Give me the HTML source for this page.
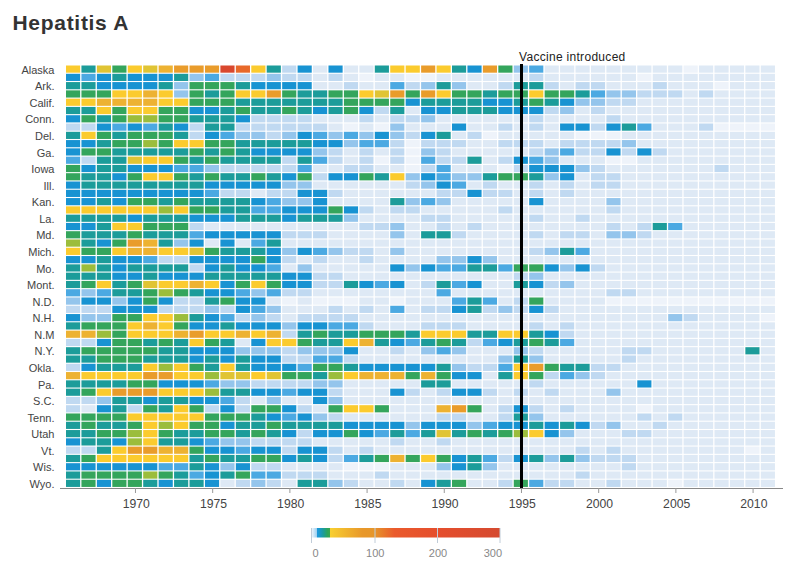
<!DOCTYPE html>
<html><head><meta charset="utf-8"><style>
html,body{margin:0;padding:0;background:#fff;width:800px;height:573px;overflow:hidden}
svg{display:block;font-family:"Liberation Sans",sans-serif}
</style></head><body>
<svg width="800" height="573" viewBox="0 0 800 573">
<rect width="800" height="573" fill="#fff"/>
<text x="12.5" y="30" font-size="21" font-weight="bold" fill="#333" letter-spacing="0.7">Hepatitis A</text>
<g><rect x="66.00" y="65.50" width="14.14" height="7.19" fill="#fbcb2e"/><rect x="81.44" y="65.50" width="14.14" height="7.19" fill="#1c9c9a"/><rect x="96.88" y="65.50" width="14.14" height="7.19" fill="#e0c434"/><rect x="112.32" y="65.50" width="14.14" height="7.19" fill="#34a55c"/><rect x="127.76" y="65.50" width="14.14" height="7.19" fill="#fbcb2e"/><rect x="143.20" y="65.50" width="14.14" height="7.19" fill="#e0c434"/><rect x="158.64" y="65.50" width="14.14" height="7.19" fill="#edb232"/><rect x="174.08" y="65.50" width="14.14" height="7.19" fill="#e99c2b"/><rect x="189.52" y="65.50" width="14.14" height="7.19" fill="#e99c2b"/><rect x="204.96" y="65.50" width="14.14" height="7.19" fill="#e99c2b"/><rect x="220.40" y="65.50" width="14.14" height="7.19" fill="#d9482e"/><rect x="235.84" y="65.50" width="14.14" height="7.19" fill="#e8692a"/><rect x="251.28" y="65.50" width="14.14" height="7.19" fill="#fbcb2e"/><rect x="266.72" y="65.50" width="14.14" height="7.19" fill="#1c9c9a"/><rect x="282.16" y="65.50" width="14.14" height="7.19" fill="#c0d9f1"/><rect x="297.60" y="65.50" width="14.14" height="7.19" fill="#1893d2"/><rect x="313.04" y="65.50" width="14.14" height="7.19" fill="#dee9f5"/><rect x="328.48" y="65.50" width="14.14" height="7.19" fill="#1893d2"/><rect x="343.92" y="65.50" width="14.14" height="7.19" fill="#dee9f5"/><rect x="359.36" y="65.50" width="14.14" height="7.19" fill="#dee9f5"/><rect x="374.80" y="65.50" width="14.14" height="7.19" fill="#1c9c9a"/><rect x="390.24" y="65.50" width="14.14" height="7.19" fill="#fbcb2e"/><rect x="405.68" y="65.50" width="14.14" height="7.19" fill="#fbcb2e"/><rect x="421.12" y="65.50" width="14.14" height="7.19" fill="#e99c2b"/><rect x="436.56" y="65.50" width="14.14" height="7.19" fill="#fbcb2e"/><rect x="452.00" y="65.50" width="14.14" height="7.19" fill="#1c9c9a"/><rect x="467.44" y="65.50" width="14.14" height="7.19" fill="#1893d2"/><rect x="482.88" y="65.50" width="14.14" height="7.19" fill="#e99c2b"/><rect x="498.32" y="65.50" width="14.14" height="7.19" fill="#34a55c"/><rect x="513.76" y="65.50" width="14.14" height="7.19" fill="#94c5ec"/><rect x="529.20" y="65.50" width="14.14" height="7.19" fill="#4ba9e2"/><rect x="544.64" y="65.50" width="14.14" height="7.19" fill="#dee9f5"/><rect x="560.08" y="65.50" width="14.14" height="7.19" fill="#dee9f5"/><rect x="575.52" y="65.50" width="14.14" height="7.19" fill="#dee9f5"/><rect x="590.96" y="65.50" width="14.14" height="7.19" fill="#dee9f5"/><rect x="606.40" y="65.50" width="14.14" height="7.19" fill="#dee9f5"/><rect x="621.84" y="65.50" width="14.14" height="7.19" fill="#dee9f5"/><rect x="637.28" y="65.50" width="14.14" height="7.19" fill="#dee9f5"/><rect x="652.72" y="65.50" width="14.14" height="7.19" fill="#dee9f5"/><rect x="668.16" y="65.50" width="14.14" height="7.19" fill="#dee9f5"/><rect x="683.60" y="65.50" width="14.14" height="7.19" fill="#eef3fa"/><rect x="699.04" y="65.50" width="14.14" height="7.19" fill="#dee9f5"/><rect x="714.48" y="65.50" width="14.14" height="7.19" fill="#dee9f5"/><rect x="729.92" y="65.50" width="14.14" height="7.19" fill="#dee9f5"/><rect x="745.36" y="65.50" width="14.14" height="7.19" fill="#dee9f5"/><rect x="760.80" y="65.50" width="14.14" height="7.19" fill="#dee9f5"/><rect x="66.00" y="73.78" width="14.14" height="7.19" fill="#1893d2"/><rect x="81.44" y="73.78" width="14.14" height="7.19" fill="#4ba9e2"/><rect x="96.88" y="73.78" width="14.14" height="7.19" fill="#1893d2"/><rect x="112.32" y="73.78" width="14.14" height="7.19" fill="#1c9c9a"/><rect x="127.76" y="73.78" width="14.14" height="7.19" fill="#1893d2"/><rect x="143.20" y="73.78" width="14.14" height="7.19" fill="#1893d2"/><rect x="158.64" y="73.78" width="14.14" height="7.19" fill="#1893d2"/><rect x="174.08" y="73.78" width="14.14" height="7.19" fill="#1c9c9a"/><rect x="189.52" y="73.78" width="14.14" height="7.19" fill="#94c5ec"/><rect x="204.96" y="73.78" width="14.14" height="7.19" fill="#4ba9e2"/><rect x="220.40" y="73.78" width="14.14" height="7.19" fill="#c0d9f1"/><rect x="235.84" y="73.78" width="14.14" height="7.19" fill="#c0d9f1"/><rect x="251.28" y="73.78" width="14.14" height="7.19" fill="#c0d9f1"/><rect x="266.72" y="73.78" width="14.14" height="7.19" fill="#94c5ec"/><rect x="282.16" y="73.78" width="14.14" height="7.19" fill="#c0d9f1"/><rect x="297.60" y="73.78" width="14.14" height="7.19" fill="#c0d9f1"/><rect x="313.04" y="73.78" width="14.14" height="7.19" fill="#dee9f5"/><rect x="328.48" y="73.78" width="14.14" height="7.19" fill="#c0d9f1"/><rect x="343.92" y="73.78" width="14.14" height="7.19" fill="#dee9f5"/><rect x="359.36" y="73.78" width="14.14" height="7.19" fill="#eef3fa"/><rect x="374.80" y="73.78" width="14.14" height="7.19" fill="#dee9f5"/><rect x="390.24" y="73.78" width="14.14" height="7.19" fill="#dee9f5"/><rect x="405.68" y="73.78" width="14.14" height="7.19" fill="#eef3fa"/><rect x="421.12" y="73.78" width="14.14" height="7.19" fill="#eef3fa"/><rect x="436.56" y="73.78" width="14.14" height="7.19" fill="#dee9f5"/><rect x="452.00" y="73.78" width="14.14" height="7.19" fill="#dee9f5"/><rect x="467.44" y="73.78" width="14.14" height="7.19" fill="#dee9f5"/><rect x="482.88" y="73.78" width="14.14" height="7.19" fill="#dee9f5"/><rect x="498.32" y="73.78" width="14.14" height="7.19" fill="#dee9f5"/><rect x="513.76" y="73.78" width="14.14" height="7.19" fill="#dee9f5"/><rect x="529.20" y="73.78" width="14.14" height="7.19" fill="#c0d9f1"/><rect x="544.64" y="73.78" width="14.14" height="7.19" fill="#dee9f5"/><rect x="560.08" y="73.78" width="14.14" height="7.19" fill="#dee9f5"/><rect x="575.52" y="73.78" width="14.14" height="7.19" fill="#dee9f5"/><rect x="590.96" y="73.78" width="14.14" height="7.19" fill="#dee9f5"/><rect x="606.40" y="73.78" width="14.14" height="7.19" fill="#dee9f5"/><rect x="621.84" y="73.78" width="14.14" height="7.19" fill="#dee9f5"/><rect x="637.28" y="73.78" width="14.14" height="7.19" fill="#eef3fa"/><rect x="652.72" y="73.78" width="14.14" height="7.19" fill="#dee9f5"/><rect x="668.16" y="73.78" width="14.14" height="7.19" fill="#dee9f5"/><rect x="683.60" y="73.78" width="14.14" height="7.19" fill="#dee9f5"/><rect x="699.04" y="73.78" width="14.14" height="7.19" fill="#dee9f5"/><rect x="714.48" y="73.78" width="14.14" height="7.19" fill="#dee9f5"/><rect x="729.92" y="73.78" width="14.14" height="7.19" fill="#dee9f5"/><rect x="745.36" y="73.78" width="14.14" height="7.19" fill="#dee9f5"/><rect x="760.80" y="73.78" width="14.14" height="7.19" fill="#dee9f5"/><rect x="66.00" y="82.07" width="14.14" height="7.19" fill="#1c9c9a"/><rect x="81.44" y="82.07" width="14.14" height="7.19" fill="#1c9c9a"/><rect x="96.88" y="82.07" width="14.14" height="7.19" fill="#1893d2"/><rect x="112.32" y="82.07" width="14.14" height="7.19" fill="#1893d2"/><rect x="127.76" y="82.07" width="14.14" height="7.19" fill="#1893d2"/><rect x="143.20" y="82.07" width="14.14" height="7.19" fill="#1893d2"/><rect x="158.64" y="82.07" width="14.14" height="7.19" fill="#1c9c9a"/><rect x="174.08" y="82.07" width="14.14" height="7.19" fill="#94c5ec"/><rect x="189.52" y="82.07" width="14.14" height="7.19" fill="#34a55c"/><rect x="204.96" y="82.07" width="14.14" height="7.19" fill="#34a55c"/><rect x="220.40" y="82.07" width="14.14" height="7.19" fill="#34a55c"/><rect x="235.84" y="82.07" width="14.14" height="7.19" fill="#1c9c9a"/><rect x="251.28" y="82.07" width="14.14" height="7.19" fill="#1893d2"/><rect x="266.72" y="82.07" width="14.14" height="7.19" fill="#1893d2"/><rect x="282.16" y="82.07" width="14.14" height="7.19" fill="#1893d2"/><rect x="297.60" y="82.07" width="14.14" height="7.19" fill="#1893d2"/><rect x="313.04" y="82.07" width="14.14" height="7.19" fill="#dee9f5"/><rect x="328.48" y="82.07" width="14.14" height="7.19" fill="#dee9f5"/><rect x="343.92" y="82.07" width="14.14" height="7.19" fill="#c0d9f1"/><rect x="359.36" y="82.07" width="14.14" height="7.19" fill="#dee9f5"/><rect x="374.80" y="82.07" width="14.14" height="7.19" fill="#dee9f5"/><rect x="390.24" y="82.07" width="14.14" height="7.19" fill="#4ba9e2"/><rect x="405.68" y="82.07" width="14.14" height="7.19" fill="#c0d9f1"/><rect x="421.12" y="82.07" width="14.14" height="7.19" fill="#94c5ec"/><rect x="436.56" y="82.07" width="14.14" height="7.19" fill="#1c9c9a"/><rect x="452.00" y="82.07" width="14.14" height="7.19" fill="#94c5ec"/><rect x="467.44" y="82.07" width="14.14" height="7.19" fill="#dee9f5"/><rect x="482.88" y="82.07" width="14.14" height="7.19" fill="#dee9f5"/><rect x="498.32" y="82.07" width="14.14" height="7.19" fill="#c0d9f1"/><rect x="513.76" y="82.07" width="14.14" height="7.19" fill="#1c9c9a"/><rect x="529.20" y="82.07" width="14.14" height="7.19" fill="#1c9c9a"/><rect x="544.64" y="82.07" width="14.14" height="7.19" fill="#c0d9f1"/><rect x="560.08" y="82.07" width="14.14" height="7.19" fill="#dee9f5"/><rect x="575.52" y="82.07" width="14.14" height="7.19" fill="#c0d9f1"/><rect x="590.96" y="82.07" width="14.14" height="7.19" fill="#c0d9f1"/><rect x="606.40" y="82.07" width="14.14" height="7.19" fill="#dee9f5"/><rect x="621.84" y="82.07" width="14.14" height="7.19" fill="#dee9f5"/><rect x="637.28" y="82.07" width="14.14" height="7.19" fill="#dee9f5"/><rect x="652.72" y="82.07" width="14.14" height="7.19" fill="#c0d9f1"/><rect x="668.16" y="82.07" width="14.14" height="7.19" fill="#dee9f5"/><rect x="683.60" y="82.07" width="14.14" height="7.19" fill="#dee9f5"/><rect x="699.04" y="82.07" width="14.14" height="7.19" fill="#dee9f5"/><rect x="714.48" y="82.07" width="14.14" height="7.19" fill="#eef3fa"/><rect x="729.92" y="82.07" width="14.14" height="7.19" fill="#dee9f5"/><rect x="745.36" y="82.07" width="14.14" height="7.19" fill="#dee9f5"/><rect x="760.80" y="82.07" width="14.14" height="7.19" fill="#dee9f5"/><rect x="66.00" y="90.36" width="14.14" height="7.19" fill="#34a55c"/><rect x="81.44" y="90.36" width="14.14" height="7.19" fill="#34a55c"/><rect x="96.88" y="90.36" width="14.14" height="7.19" fill="#34a55c"/><rect x="112.32" y="90.36" width="14.14" height="7.19" fill="#fbcb2e"/><rect x="127.76" y="90.36" width="14.14" height="7.19" fill="#fbcb2e"/><rect x="143.20" y="90.36" width="14.14" height="7.19" fill="#edb232"/><rect x="158.64" y="90.36" width="14.14" height="7.19" fill="#fbcb2e"/><rect x="174.08" y="90.36" width="14.14" height="7.19" fill="#94c5ec"/><rect x="189.52" y="90.36" width="14.14" height="7.19" fill="#34a55c"/><rect x="204.96" y="90.36" width="14.14" height="7.19" fill="#1c9c9a"/><rect x="220.40" y="90.36" width="14.14" height="7.19" fill="#34a55c"/><rect x="235.84" y="90.36" width="14.14" height="7.19" fill="#fbcb2e"/><rect x="251.28" y="90.36" width="14.14" height="7.19" fill="#fbcb2e"/><rect x="266.72" y="90.36" width="14.14" height="7.19" fill="#e99c2b"/><rect x="282.16" y="90.36" width="14.14" height="7.19" fill="#34a55c"/><rect x="297.60" y="90.36" width="14.14" height="7.19" fill="#1c9c9a"/><rect x="313.04" y="90.36" width="14.14" height="7.19" fill="#1c9c9a"/><rect x="328.48" y="90.36" width="14.14" height="7.19" fill="#34a55c"/><rect x="343.92" y="90.36" width="14.14" height="7.19" fill="#34a55c"/><rect x="359.36" y="90.36" width="14.14" height="7.19" fill="#fbcb2e"/><rect x="374.80" y="90.36" width="14.14" height="7.19" fill="#e0c434"/><rect x="390.24" y="90.36" width="14.14" height="7.19" fill="#e99c2b"/><rect x="405.68" y="90.36" width="14.14" height="7.19" fill="#34a55c"/><rect x="421.12" y="90.36" width="14.14" height="7.19" fill="#e99c2b"/><rect x="436.56" y="90.36" width="14.14" height="7.19" fill="#fbcb2e"/><rect x="452.00" y="90.36" width="14.14" height="7.19" fill="#34a55c"/><rect x="467.44" y="90.36" width="14.14" height="7.19" fill="#34a55c"/><rect x="482.88" y="90.36" width="14.14" height="7.19" fill="#1c9c9a"/><rect x="498.32" y="90.36" width="14.14" height="7.19" fill="#34a55c"/><rect x="513.76" y="90.36" width="14.14" height="7.19" fill="#34a55c"/><rect x="529.20" y="90.36" width="14.14" height="7.19" fill="#fbcb2e"/><rect x="544.64" y="90.36" width="14.14" height="7.19" fill="#34a55c"/><rect x="560.08" y="90.36" width="14.14" height="7.19" fill="#34a55c"/><rect x="575.52" y="90.36" width="14.14" height="7.19" fill="#1c9c9a"/><rect x="590.96" y="90.36" width="14.14" height="7.19" fill="#4ba9e2"/><rect x="606.40" y="90.36" width="14.14" height="7.19" fill="#94c5ec"/><rect x="621.84" y="90.36" width="14.14" height="7.19" fill="#94c5ec"/><rect x="637.28" y="90.36" width="14.14" height="7.19" fill="#c0d9f1"/><rect x="652.72" y="90.36" width="14.14" height="7.19" fill="#c0d9f1"/><rect x="668.16" y="90.36" width="14.14" height="7.19" fill="#c0d9f1"/><rect x="683.60" y="90.36" width="14.14" height="7.19" fill="#dee9f5"/><rect x="699.04" y="90.36" width="14.14" height="7.19" fill="#c0d9f1"/><rect x="714.48" y="90.36" width="14.14" height="7.19" fill="#dee9f5"/><rect x="729.92" y="90.36" width="14.14" height="7.19" fill="#dee9f5"/><rect x="745.36" y="90.36" width="14.14" height="7.19" fill="#dee9f5"/><rect x="760.80" y="90.36" width="14.14" height="7.19" fill="#dee9f5"/><rect x="66.00" y="98.64" width="14.14" height="7.19" fill="#fbcb2e"/><rect x="81.44" y="98.64" width="14.14" height="7.19" fill="#fbcb2e"/><rect x="96.88" y="98.64" width="14.14" height="7.19" fill="#edb232"/><rect x="112.32" y="98.64" width="14.14" height="7.19" fill="#edb232"/><rect x="127.76" y="98.64" width="14.14" height="7.19" fill="#edb232"/><rect x="143.20" y="98.64" width="14.14" height="7.19" fill="#edb232"/><rect x="158.64" y="98.64" width="14.14" height="7.19" fill="#fbcb2e"/><rect x="174.08" y="98.64" width="14.14" height="7.19" fill="#fbcb2e"/><rect x="189.52" y="98.64" width="14.14" height="7.19" fill="#34a55c"/><rect x="204.96" y="98.64" width="14.14" height="7.19" fill="#34a55c"/><rect x="220.40" y="98.64" width="14.14" height="7.19" fill="#34a55c"/><rect x="235.84" y="98.64" width="14.14" height="7.19" fill="#1c9c9a"/><rect x="251.28" y="98.64" width="14.14" height="7.19" fill="#1c9c9a"/><rect x="266.72" y="98.64" width="14.14" height="7.19" fill="#1c9c9a"/><rect x="282.16" y="98.64" width="14.14" height="7.19" fill="#1c9c9a"/><rect x="297.60" y="98.64" width="14.14" height="7.19" fill="#1c9c9a"/><rect x="313.04" y="98.64" width="14.14" height="7.19" fill="#1c9c9a"/><rect x="328.48" y="98.64" width="14.14" height="7.19" fill="#1c9c9a"/><rect x="343.92" y="98.64" width="14.14" height="7.19" fill="#34a55c"/><rect x="359.36" y="98.64" width="14.14" height="7.19" fill="#34a55c"/><rect x="374.80" y="98.64" width="14.14" height="7.19" fill="#34a55c"/><rect x="390.24" y="98.64" width="14.14" height="7.19" fill="#34a55c"/><rect x="405.68" y="98.64" width="14.14" height="7.19" fill="#1893d2"/><rect x="421.12" y="98.64" width="14.14" height="7.19" fill="#1c9c9a"/><rect x="436.56" y="98.64" width="14.14" height="7.19" fill="#1c9c9a"/><rect x="452.00" y="98.64" width="14.14" height="7.19" fill="#1c9c9a"/><rect x="467.44" y="98.64" width="14.14" height="7.19" fill="#1c9c9a"/><rect x="482.88" y="98.64" width="14.14" height="7.19" fill="#1893d2"/><rect x="498.32" y="98.64" width="14.14" height="7.19" fill="#1893d2"/><rect x="513.76" y="98.64" width="14.14" height="7.19" fill="#1c9c9a"/><rect x="529.20" y="98.64" width="14.14" height="7.19" fill="#34a55c"/><rect x="544.64" y="98.64" width="14.14" height="7.19" fill="#1c9c9a"/><rect x="560.08" y="98.64" width="14.14" height="7.19" fill="#1893d2"/><rect x="575.52" y="98.64" width="14.14" height="7.19" fill="#94c5ec"/><rect x="590.96" y="98.64" width="14.14" height="7.19" fill="#94c5ec"/><rect x="606.40" y="98.64" width="14.14" height="7.19" fill="#c0d9f1"/><rect x="621.84" y="98.64" width="14.14" height="7.19" fill="#c0d9f1"/><rect x="637.28" y="98.64" width="14.14" height="7.19" fill="#dee9f5"/><rect x="652.72" y="98.64" width="14.14" height="7.19" fill="#dee9f5"/><rect x="668.16" y="98.64" width="14.14" height="7.19" fill="#dee9f5"/><rect x="683.60" y="98.64" width="14.14" height="7.19" fill="#dee9f5"/><rect x="699.04" y="98.64" width="14.14" height="7.19" fill="#dee9f5"/><rect x="714.48" y="98.64" width="14.14" height="7.19" fill="#dee9f5"/><rect x="729.92" y="98.64" width="14.14" height="7.19" fill="#dee9f5"/><rect x="745.36" y="98.64" width="14.14" height="7.19" fill="#dee9f5"/><rect x="760.80" y="98.64" width="14.14" height="7.19" fill="#dee9f5"/><rect x="66.00" y="106.92" width="14.14" height="7.19" fill="#1c9c9a"/><rect x="81.44" y="106.92" width="14.14" height="7.19" fill="#1c9c9a"/><rect x="96.88" y="106.92" width="14.14" height="7.19" fill="#fbcb2e"/><rect x="112.32" y="106.92" width="14.14" height="7.19" fill="#34a55c"/><rect x="127.76" y="106.92" width="14.14" height="7.19" fill="#fbcb2e"/><rect x="143.20" y="106.92" width="14.14" height="7.19" fill="#fbcb2e"/><rect x="158.64" y="106.92" width="14.14" height="7.19" fill="#34a55c"/><rect x="174.08" y="106.92" width="14.14" height="7.19" fill="#34a55c"/><rect x="189.52" y="106.92" width="14.14" height="7.19" fill="#1893d2"/><rect x="204.96" y="106.92" width="14.14" height="7.19" fill="#1893d2"/><rect x="220.40" y="106.92" width="14.14" height="7.19" fill="#1c9c9a"/><rect x="235.84" y="106.92" width="14.14" height="7.19" fill="#34a55c"/><rect x="251.28" y="106.92" width="14.14" height="7.19" fill="#1c9c9a"/><rect x="266.72" y="106.92" width="14.14" height="7.19" fill="#1c9c9a"/><rect x="282.16" y="106.92" width="14.14" height="7.19" fill="#34a55c"/><rect x="297.60" y="106.92" width="14.14" height="7.19" fill="#1c9c9a"/><rect x="313.04" y="106.92" width="14.14" height="7.19" fill="#1893d2"/><rect x="328.48" y="106.92" width="14.14" height="7.19" fill="#1c9c9a"/><rect x="343.92" y="106.92" width="14.14" height="7.19" fill="#34a55c"/><rect x="359.36" y="106.92" width="14.14" height="7.19" fill="#1893d2"/><rect x="374.80" y="106.92" width="14.14" height="7.19" fill="#c0d9f1"/><rect x="390.24" y="106.92" width="14.14" height="7.19" fill="#1c9c9a"/><rect x="405.68" y="106.92" width="14.14" height="7.19" fill="#dee9f5"/><rect x="421.12" y="106.92" width="14.14" height="7.19" fill="#1893d2"/><rect x="436.56" y="106.92" width="14.14" height="7.19" fill="#1893d2"/><rect x="452.00" y="106.92" width="14.14" height="7.19" fill="#1c9c9a"/><rect x="467.44" y="106.92" width="14.14" height="7.19" fill="#1c9c9a"/><rect x="482.88" y="106.92" width="14.14" height="7.19" fill="#1c9c9a"/><rect x="498.32" y="106.92" width="14.14" height="7.19" fill="#1893d2"/><rect x="513.76" y="106.92" width="14.14" height="7.19" fill="#1893d2"/><rect x="529.20" y="106.92" width="14.14" height="7.19" fill="#1893d2"/><rect x="544.64" y="106.92" width="14.14" height="7.19" fill="#c0d9f1"/><rect x="560.08" y="106.92" width="14.14" height="7.19" fill="#94c5ec"/><rect x="575.52" y="106.92" width="14.14" height="7.19" fill="#dee9f5"/><rect x="590.96" y="106.92" width="14.14" height="7.19" fill="#c0d9f1"/><rect x="606.40" y="106.92" width="14.14" height="7.19" fill="#dee9f5"/><rect x="621.84" y="106.92" width="14.14" height="7.19" fill="#dee9f5"/><rect x="637.28" y="106.92" width="14.14" height="7.19" fill="#dee9f5"/><rect x="652.72" y="106.92" width="14.14" height="7.19" fill="#dee9f5"/><rect x="668.16" y="106.92" width="14.14" height="7.19" fill="#dee9f5"/><rect x="683.60" y="106.92" width="14.14" height="7.19" fill="#dee9f5"/><rect x="699.04" y="106.92" width="14.14" height="7.19" fill="#dee9f5"/><rect x="714.48" y="106.92" width="14.14" height="7.19" fill="#dee9f5"/><rect x="729.92" y="106.92" width="14.14" height="7.19" fill="#dee9f5"/><rect x="745.36" y="106.92" width="14.14" height="7.19" fill="#dee9f5"/><rect x="760.80" y="106.92" width="14.14" height="7.19" fill="#dee9f5"/><rect x="66.00" y="115.21" width="14.14" height="7.19" fill="#1893d2"/><rect x="81.44" y="115.21" width="14.14" height="7.19" fill="#34a55c"/><rect x="96.88" y="115.21" width="14.14" height="7.19" fill="#1c9c9a"/><rect x="112.32" y="115.21" width="14.14" height="7.19" fill="#34a55c"/><rect x="127.76" y="115.21" width="14.14" height="7.19" fill="#9bbd3c"/><rect x="143.20" y="115.21" width="14.14" height="7.19" fill="#9bbd3c"/><rect x="158.64" y="115.21" width="14.14" height="7.19" fill="#34a55c"/><rect x="174.08" y="115.21" width="14.14" height="7.19" fill="#34a55c"/><rect x="189.52" y="115.21" width="14.14" height="7.19" fill="#1c9c9a"/><rect x="204.96" y="115.21" width="14.14" height="7.19" fill="#1c9c9a"/><rect x="220.40" y="115.21" width="14.14" height="7.19" fill="#1c9c9a"/><rect x="235.84" y="115.21" width="14.14" height="7.19" fill="#1893d2"/><rect x="251.28" y="115.21" width="14.14" height="7.19" fill="#c0d9f1"/><rect x="266.72" y="115.21" width="14.14" height="7.19" fill="#c0d9f1"/><rect x="282.16" y="115.21" width="14.14" height="7.19" fill="#c0d9f1"/><rect x="297.60" y="115.21" width="14.14" height="7.19" fill="#c0d9f1"/><rect x="313.04" y="115.21" width="14.14" height="7.19" fill="#dee9f5"/><rect x="328.48" y="115.21" width="14.14" height="7.19" fill="#dee9f5"/><rect x="343.92" y="115.21" width="14.14" height="7.19" fill="#dee9f5"/><rect x="359.36" y="115.21" width="14.14" height="7.19" fill="#c0d9f1"/><rect x="374.80" y="115.21" width="14.14" height="7.19" fill="#dee9f5"/><rect x="390.24" y="115.21" width="14.14" height="7.19" fill="#c0d9f1"/><rect x="405.68" y="115.21" width="14.14" height="7.19" fill="#c0d9f1"/><rect x="421.12" y="115.21" width="14.14" height="7.19" fill="#94c5ec"/><rect x="436.56" y="115.21" width="14.14" height="7.19" fill="#dee9f5"/><rect x="452.00" y="115.21" width="14.14" height="7.19" fill="#dee9f5"/><rect x="467.44" y="115.21" width="14.14" height="7.19" fill="#dee9f5"/><rect x="482.88" y="115.21" width="14.14" height="7.19" fill="#dee9f5"/><rect x="498.32" y="115.21" width="14.14" height="7.19" fill="#dee9f5"/><rect x="513.76" y="115.21" width="14.14" height="7.19" fill="#dee9f5"/><rect x="529.20" y="115.21" width="14.14" height="7.19" fill="#c0d9f1"/><rect x="544.64" y="115.21" width="14.14" height="7.19" fill="#dee9f5"/><rect x="560.08" y="115.21" width="14.14" height="7.19" fill="#dee9f5"/><rect x="575.52" y="115.21" width="14.14" height="7.19" fill="#dee9f5"/><rect x="590.96" y="115.21" width="14.14" height="7.19" fill="#dee9f5"/><rect x="606.40" y="115.21" width="14.14" height="7.19" fill="#c0d9f1"/><rect x="621.84" y="115.21" width="14.14" height="7.19" fill="#dee9f5"/><rect x="637.28" y="115.21" width="14.14" height="7.19" fill="#dee9f5"/><rect x="652.72" y="115.21" width="14.14" height="7.19" fill="#dee9f5"/><rect x="668.16" y="115.21" width="14.14" height="7.19" fill="#dee9f5"/><rect x="683.60" y="115.21" width="14.14" height="7.19" fill="#dee9f5"/><rect x="699.04" y="115.21" width="14.14" height="7.19" fill="#dee9f5"/><rect x="714.48" y="115.21" width="14.14" height="7.19" fill="#dee9f5"/><rect x="729.92" y="115.21" width="14.14" height="7.19" fill="#dee9f5"/><rect x="745.36" y="115.21" width="14.14" height="7.19" fill="#dee9f5"/><rect x="760.80" y="115.21" width="14.14" height="7.19" fill="#dee9f5"/><rect x="66.00" y="123.50" width="14.14" height="7.19" fill="#c0d9f1"/><rect x="81.44" y="123.50" width="14.14" height="7.19" fill="#c0d9f1"/><rect x="96.88" y="123.50" width="14.14" height="7.19" fill="#1893d2"/><rect x="112.32" y="123.50" width="14.14" height="7.19" fill="#4ba9e2"/><rect x="127.76" y="123.50" width="14.14" height="7.19" fill="#1893d2"/><rect x="143.20" y="123.50" width="14.14" height="7.19" fill="#4ba9e2"/><rect x="158.64" y="123.50" width="14.14" height="7.19" fill="#1c9c9a"/><rect x="174.08" y="123.50" width="14.14" height="7.19" fill="#1893d2"/><rect x="189.52" y="123.50" width="14.14" height="7.19" fill="#c0d9f1"/><rect x="204.96" y="123.50" width="14.14" height="7.19" fill="#1c9c9a"/><rect x="220.40" y="123.50" width="14.14" height="7.19" fill="#1c9c9a"/><rect x="235.84" y="123.50" width="14.14" height="7.19" fill="#c0d9f1"/><rect x="251.28" y="123.50" width="14.14" height="7.19" fill="#c0d9f1"/><rect x="266.72" y="123.50" width="14.14" height="7.19" fill="#c0d9f1"/><rect x="282.16" y="123.50" width="14.14" height="7.19" fill="#c0d9f1"/><rect x="297.60" y="123.50" width="14.14" height="7.19" fill="#c0d9f1"/><rect x="313.04" y="123.50" width="14.14" height="7.19" fill="#c0d9f1"/><rect x="328.48" y="123.50" width="14.14" height="7.19" fill="#dee9f5"/><rect x="343.92" y="123.50" width="14.14" height="7.19" fill="#eef3fa"/><rect x="359.36" y="123.50" width="14.14" height="7.19" fill="#dee9f5"/><rect x="374.80" y="123.50" width="14.14" height="7.19" fill="#eef3fa"/><rect x="390.24" y="123.50" width="14.14" height="7.19" fill="#94c5ec"/><rect x="405.68" y="123.50" width="14.14" height="7.19" fill="#dee9f5"/><rect x="421.12" y="123.50" width="14.14" height="7.19" fill="#dee9f5"/><rect x="436.56" y="123.50" width="14.14" height="7.19" fill="#dee9f5"/><rect x="452.00" y="123.50" width="14.14" height="7.19" fill="#1893d2"/><rect x="467.44" y="123.50" width="14.14" height="7.19" fill="#dee9f5"/><rect x="482.88" y="123.50" width="14.14" height="7.19" fill="#dee9f5"/><rect x="498.32" y="123.50" width="14.14" height="7.19" fill="#c0d9f1"/><rect x="513.76" y="123.50" width="14.14" height="7.19" fill="#dee9f5"/><rect x="529.20" y="123.50" width="14.14" height="7.19" fill="#c0d9f1"/><rect x="544.64" y="123.50" width="14.14" height="7.19" fill="#dee9f5"/><rect x="560.08" y="123.50" width="14.14" height="7.19" fill="#1893d2"/><rect x="575.52" y="123.50" width="14.14" height="7.19" fill="#1893d2"/><rect x="590.96" y="123.50" width="14.14" height="7.19" fill="#c0d9f1"/><rect x="606.40" y="123.50" width="14.14" height="7.19" fill="#1893d2"/><rect x="621.84" y="123.50" width="14.14" height="7.19" fill="#1c9c9a"/><rect x="637.28" y="123.50" width="14.14" height="7.19" fill="#4ba9e2"/><rect x="652.72" y="123.50" width="14.14" height="7.19" fill="#dee9f5"/><rect x="668.16" y="123.50" width="14.14" height="7.19" fill="#dee9f5"/><rect x="683.60" y="123.50" width="14.14" height="7.19" fill="#dee9f5"/><rect x="699.04" y="123.50" width="14.14" height="7.19" fill="#c0d9f1"/><rect x="714.48" y="123.50" width="14.14" height="7.19" fill="#eef3fa"/><rect x="729.92" y="123.50" width="14.14" height="7.19" fill="#eef3fa"/><rect x="745.36" y="123.50" width="14.14" height="7.19" fill="#eef3fa"/><rect x="760.80" y="123.50" width="14.14" height="7.19" fill="#eef3fa"/><rect x="66.00" y="131.78" width="14.14" height="7.19" fill="#1c9c9a"/><rect x="81.44" y="131.78" width="14.14" height="7.19" fill="#fbcb2e"/><rect x="96.88" y="131.78" width="14.14" height="7.19" fill="#34a55c"/><rect x="112.32" y="131.78" width="14.14" height="7.19" fill="#1c9c9a"/><rect x="127.76" y="131.78" width="14.14" height="7.19" fill="#34a55c"/><rect x="143.20" y="131.78" width="14.14" height="7.19" fill="#34a55c"/><rect x="158.64" y="131.78" width="14.14" height="7.19" fill="#34a55c"/><rect x="174.08" y="131.78" width="14.14" height="7.19" fill="#1c9c9a"/><rect x="189.52" y="131.78" width="14.14" height="7.19" fill="#c0d9f1"/><rect x="204.96" y="131.78" width="14.14" height="7.19" fill="#1893d2"/><rect x="220.40" y="131.78" width="14.14" height="7.19" fill="#4ba9e2"/><rect x="235.84" y="131.78" width="14.14" height="7.19" fill="#94c5ec"/><rect x="251.28" y="131.78" width="14.14" height="7.19" fill="#94c5ec"/><rect x="266.72" y="131.78" width="14.14" height="7.19" fill="#c0d9f1"/><rect x="282.16" y="131.78" width="14.14" height="7.19" fill="#94c5ec"/><rect x="297.60" y="131.78" width="14.14" height="7.19" fill="#1893d2"/><rect x="313.04" y="131.78" width="14.14" height="7.19" fill="#4ba9e2"/><rect x="328.48" y="131.78" width="14.14" height="7.19" fill="#94c5ec"/><rect x="343.92" y="131.78" width="14.14" height="7.19" fill="#4ba9e2"/><rect x="359.36" y="131.78" width="14.14" height="7.19" fill="#94c5ec"/><rect x="374.80" y="131.78" width="14.14" height="7.19" fill="#1893d2"/><rect x="390.24" y="131.78" width="14.14" height="7.19" fill="#94c5ec"/><rect x="405.68" y="131.78" width="14.14" height="7.19" fill="#c0d9f1"/><rect x="421.12" y="131.78" width="14.14" height="7.19" fill="#1893d2"/><rect x="436.56" y="131.78" width="14.14" height="7.19" fill="#1c9c9a"/><rect x="452.00" y="131.78" width="14.14" height="7.19" fill="#dee9f5"/><rect x="467.44" y="131.78" width="14.14" height="7.19" fill="#c0d9f1"/><rect x="482.88" y="131.78" width="14.14" height="7.19" fill="#eef3fa"/><rect x="498.32" y="131.78" width="14.14" height="7.19" fill="#dee9f5"/><rect x="513.76" y="131.78" width="14.14" height="7.19" fill="#dee9f5"/><rect x="529.20" y="131.78" width="14.14" height="7.19" fill="#dee9f5"/><rect x="544.64" y="131.78" width="14.14" height="7.19" fill="#dee9f5"/><rect x="560.08" y="131.78" width="14.14" height="7.19" fill="#dee9f5"/><rect x="575.52" y="131.78" width="14.14" height="7.19" fill="#eef3fa"/><rect x="590.96" y="131.78" width="14.14" height="7.19" fill="#eef3fa"/><rect x="606.40" y="131.78" width="14.14" height="7.19" fill="#eef3fa"/><rect x="621.84" y="131.78" width="14.14" height="7.19" fill="#dee9f5"/><rect x="637.28" y="131.78" width="14.14" height="7.19" fill="#dee9f5"/><rect x="652.72" y="131.78" width="14.14" height="7.19" fill="#dee9f5"/><rect x="668.16" y="131.78" width="14.14" height="7.19" fill="#dee9f5"/><rect x="683.60" y="131.78" width="14.14" height="7.19" fill="#dee9f5"/><rect x="699.04" y="131.78" width="14.14" height="7.19" fill="#dee9f5"/><rect x="714.48" y="131.78" width="14.14" height="7.19" fill="#dee9f5"/><rect x="729.92" y="131.78" width="14.14" height="7.19" fill="#dee9f5"/><rect x="745.36" y="131.78" width="14.14" height="7.19" fill="#dee9f5"/><rect x="760.80" y="131.78" width="14.14" height="7.19" fill="#dee9f5"/><rect x="66.00" y="140.06" width="14.14" height="7.19" fill="#1893d2"/><rect x="81.44" y="140.06" width="14.14" height="7.19" fill="#1893d2"/><rect x="96.88" y="140.06" width="14.14" height="7.19" fill="#1c9c9a"/><rect x="112.32" y="140.06" width="14.14" height="7.19" fill="#34a55c"/><rect x="127.76" y="140.06" width="14.14" height="7.19" fill="#34a55c"/><rect x="143.20" y="140.06" width="14.14" height="7.19" fill="#9bbd3c"/><rect x="158.64" y="140.06" width="14.14" height="7.19" fill="#34a55c"/><rect x="174.08" y="140.06" width="14.14" height="7.19" fill="#fbcb2e"/><rect x="189.52" y="140.06" width="14.14" height="7.19" fill="#fbcb2e"/><rect x="204.96" y="140.06" width="14.14" height="7.19" fill="#34a55c"/><rect x="220.40" y="140.06" width="14.14" height="7.19" fill="#34a55c"/><rect x="235.84" y="140.06" width="14.14" height="7.19" fill="#1c9c9a"/><rect x="251.28" y="140.06" width="14.14" height="7.19" fill="#1c9c9a"/><rect x="266.72" y="140.06" width="14.14" height="7.19" fill="#1c9c9a"/><rect x="282.16" y="140.06" width="14.14" height="7.19" fill="#1c9c9a"/><rect x="297.60" y="140.06" width="14.14" height="7.19" fill="#1c9c9a"/><rect x="313.04" y="140.06" width="14.14" height="7.19" fill="#1893d2"/><rect x="328.48" y="140.06" width="14.14" height="7.19" fill="#1893d2"/><rect x="343.92" y="140.06" width="14.14" height="7.19" fill="#94c5ec"/><rect x="359.36" y="140.06" width="14.14" height="7.19" fill="#4ba9e2"/><rect x="374.80" y="140.06" width="14.14" height="7.19" fill="#4ba9e2"/><rect x="390.24" y="140.06" width="14.14" height="7.19" fill="#c0d9f1"/><rect x="405.68" y="140.06" width="14.14" height="7.19" fill="#eef3fa"/><rect x="421.12" y="140.06" width="14.14" height="7.19" fill="#c0d9f1"/><rect x="436.56" y="140.06" width="14.14" height="7.19" fill="#c0d9f1"/><rect x="452.00" y="140.06" width="14.14" height="7.19" fill="#c0d9f1"/><rect x="467.44" y="140.06" width="14.14" height="7.19" fill="#dee9f5"/><rect x="482.88" y="140.06" width="14.14" height="7.19" fill="#dee9f5"/><rect x="498.32" y="140.06" width="14.14" height="7.19" fill="#c0d9f1"/><rect x="513.76" y="140.06" width="14.14" height="7.19" fill="#c0d9f1"/><rect x="529.20" y="140.06" width="14.14" height="7.19" fill="#c0d9f1"/><rect x="544.64" y="140.06" width="14.14" height="7.19" fill="#dee9f5"/><rect x="560.08" y="140.06" width="14.14" height="7.19" fill="#c0d9f1"/><rect x="575.52" y="140.06" width="14.14" height="7.19" fill="#c0d9f1"/><rect x="590.96" y="140.06" width="14.14" height="7.19" fill="#c0d9f1"/><rect x="606.40" y="140.06" width="14.14" height="7.19" fill="#c0d9f1"/><rect x="621.84" y="140.06" width="14.14" height="7.19" fill="#94c5ec"/><rect x="637.28" y="140.06" width="14.14" height="7.19" fill="#dee9f5"/><rect x="652.72" y="140.06" width="14.14" height="7.19" fill="#dee9f5"/><rect x="668.16" y="140.06" width="14.14" height="7.19" fill="#dee9f5"/><rect x="683.60" y="140.06" width="14.14" height="7.19" fill="#dee9f5"/><rect x="699.04" y="140.06" width="14.14" height="7.19" fill="#dee9f5"/><rect x="714.48" y="140.06" width="14.14" height="7.19" fill="#dee9f5"/><rect x="729.92" y="140.06" width="14.14" height="7.19" fill="#dee9f5"/><rect x="745.36" y="140.06" width="14.14" height="7.19" fill="#dee9f5"/><rect x="760.80" y="140.06" width="14.14" height="7.19" fill="#dee9f5"/><rect x="66.00" y="148.35" width="14.14" height="7.19" fill="#1893d2"/><rect x="81.44" y="148.35" width="14.14" height="7.19" fill="#34a55c"/><rect x="96.88" y="148.35" width="14.14" height="7.19" fill="#34a55c"/><rect x="112.32" y="148.35" width="14.14" height="7.19" fill="#1c9c9a"/><rect x="127.76" y="148.35" width="14.14" height="7.19" fill="#1c9c9a"/><rect x="143.20" y="148.35" width="14.14" height="7.19" fill="#1c9c9a"/><rect x="158.64" y="148.35" width="14.14" height="7.19" fill="#1c9c9a"/><rect x="174.08" y="148.35" width="14.14" height="7.19" fill="#1c9c9a"/><rect x="189.52" y="148.35" width="14.14" height="7.19" fill="#34a55c"/><rect x="204.96" y="148.35" width="14.14" height="7.19" fill="#1c9c9a"/><rect x="220.40" y="148.35" width="14.14" height="7.19" fill="#34a55c"/><rect x="235.84" y="148.35" width="14.14" height="7.19" fill="#1c9c9a"/><rect x="251.28" y="148.35" width="14.14" height="7.19" fill="#1893d2"/><rect x="266.72" y="148.35" width="14.14" height="7.19" fill="#1893d2"/><rect x="282.16" y="148.35" width="14.14" height="7.19" fill="#1893d2"/><rect x="297.60" y="148.35" width="14.14" height="7.19" fill="#1893d2"/><rect x="313.04" y="148.35" width="14.14" height="7.19" fill="#94c5ec"/><rect x="328.48" y="148.35" width="14.14" height="7.19" fill="#c0d9f1"/><rect x="343.92" y="148.35" width="14.14" height="7.19" fill="#dee9f5"/><rect x="359.36" y="148.35" width="14.14" height="7.19" fill="#c0d9f1"/><rect x="374.80" y="148.35" width="14.14" height="7.19" fill="#dee9f5"/><rect x="390.24" y="148.35" width="14.14" height="7.19" fill="#c0d9f1"/><rect x="405.68" y="148.35" width="14.14" height="7.19" fill="#eef3fa"/><rect x="421.12" y="148.35" width="14.14" height="7.19" fill="#94c5ec"/><rect x="436.56" y="148.35" width="14.14" height="7.19" fill="#c0d9f1"/><rect x="452.00" y="148.35" width="14.14" height="7.19" fill="#dee9f5"/><rect x="467.44" y="148.35" width="14.14" height="7.19" fill="#dee9f5"/><rect x="482.88" y="148.35" width="14.14" height="7.19" fill="#dee9f5"/><rect x="498.32" y="148.35" width="14.14" height="7.19" fill="#dee9f5"/><rect x="513.76" y="148.35" width="14.14" height="7.19" fill="#dee9f5"/><rect x="529.20" y="148.35" width="14.14" height="7.19" fill="#c0d9f1"/><rect x="544.64" y="148.35" width="14.14" height="7.19" fill="#94c5ec"/><rect x="560.08" y="148.35" width="14.14" height="7.19" fill="#4ba9e2"/><rect x="575.52" y="148.35" width="14.14" height="7.19" fill="#c0d9f1"/><rect x="590.96" y="148.35" width="14.14" height="7.19" fill="#c0d9f1"/><rect x="606.40" y="148.35" width="14.14" height="7.19" fill="#1893d2"/><rect x="621.84" y="148.35" width="14.14" height="7.19" fill="#c0d9f1"/><rect x="637.28" y="148.35" width="14.14" height="7.19" fill="#1893d2"/><rect x="652.72" y="148.35" width="14.14" height="7.19" fill="#c0d9f1"/><rect x="668.16" y="148.35" width="14.14" height="7.19" fill="#dee9f5"/><rect x="683.60" y="148.35" width="14.14" height="7.19" fill="#dee9f5"/><rect x="699.04" y="148.35" width="14.14" height="7.19" fill="#dee9f5"/><rect x="714.48" y="148.35" width="14.14" height="7.19" fill="#dee9f5"/><rect x="729.92" y="148.35" width="14.14" height="7.19" fill="#dee9f5"/><rect x="745.36" y="148.35" width="14.14" height="7.19" fill="#dee9f5"/><rect x="760.80" y="148.35" width="14.14" height="7.19" fill="#dee9f5"/><rect x="66.00" y="156.63" width="14.14" height="7.19" fill="#4ba9e2"/><rect x="81.44" y="156.63" width="14.14" height="7.19" fill="#c0d9f1"/><rect x="96.88" y="156.63" width="14.14" height="7.19" fill="#1c9c9a"/><rect x="112.32" y="156.63" width="14.14" height="7.19" fill="#1c9c9a"/><rect x="127.76" y="156.63" width="14.14" height="7.19" fill="#e0c434"/><rect x="143.20" y="156.63" width="14.14" height="7.19" fill="#fbcb2e"/><rect x="158.64" y="156.63" width="14.14" height="7.19" fill="#fbcb2e"/><rect x="174.08" y="156.63" width="14.14" height="7.19" fill="#34a55c"/><rect x="189.52" y="156.63" width="14.14" height="7.19" fill="#1c9c9a"/><rect x="204.96" y="156.63" width="14.14" height="7.19" fill="#34a55c"/><rect x="220.40" y="156.63" width="14.14" height="7.19" fill="#1c9c9a"/><rect x="235.84" y="156.63" width="14.14" height="7.19" fill="#1c9c9a"/><rect x="251.28" y="156.63" width="14.14" height="7.19" fill="#1c9c9a"/><rect x="266.72" y="156.63" width="14.14" height="7.19" fill="#1c9c9a"/><rect x="282.16" y="156.63" width="14.14" height="7.19" fill="#c0d9f1"/><rect x="297.60" y="156.63" width="14.14" height="7.19" fill="#1c9c9a"/><rect x="313.04" y="156.63" width="14.14" height="7.19" fill="#4ba9e2"/><rect x="328.48" y="156.63" width="14.14" height="7.19" fill="#c0d9f1"/><rect x="343.92" y="156.63" width="14.14" height="7.19" fill="#dee9f5"/><rect x="359.36" y="156.63" width="14.14" height="7.19" fill="#c0d9f1"/><rect x="374.80" y="156.63" width="14.14" height="7.19" fill="#eef3fa"/><rect x="390.24" y="156.63" width="14.14" height="7.19" fill="#c0d9f1"/><rect x="405.68" y="156.63" width="14.14" height="7.19" fill="#eef3fa"/><rect x="421.12" y="156.63" width="14.14" height="7.19" fill="#4ba9e2"/><rect x="436.56" y="156.63" width="14.14" height="7.19" fill="#c0d9f1"/><rect x="452.00" y="156.63" width="14.14" height="7.19" fill="#c0d9f1"/><rect x="467.44" y="156.63" width="14.14" height="7.19" fill="#1c9c9a"/><rect x="482.88" y="156.63" width="14.14" height="7.19" fill="#dee9f5"/><rect x="498.32" y="156.63" width="14.14" height="7.19" fill="#c0d9f1"/><rect x="513.76" y="156.63" width="14.14" height="7.19" fill="#1893d2"/><rect x="529.20" y="156.63" width="14.14" height="7.19" fill="#4ba9e2"/><rect x="544.64" y="156.63" width="14.14" height="7.19" fill="#94c5ec"/><rect x="560.08" y="156.63" width="14.14" height="7.19" fill="#dee9f5"/><rect x="575.52" y="156.63" width="14.14" height="7.19" fill="#dee9f5"/><rect x="590.96" y="156.63" width="14.14" height="7.19" fill="#dee9f5"/><rect x="606.40" y="156.63" width="14.14" height="7.19" fill="#eef3fa"/><rect x="621.84" y="156.63" width="14.14" height="7.19" fill="#eef3fa"/><rect x="637.28" y="156.63" width="14.14" height="7.19" fill="#dee9f5"/><rect x="652.72" y="156.63" width="14.14" height="7.19" fill="#dee9f5"/><rect x="668.16" y="156.63" width="14.14" height="7.19" fill="#dee9f5"/><rect x="683.60" y="156.63" width="14.14" height="7.19" fill="#dee9f5"/><rect x="699.04" y="156.63" width="14.14" height="7.19" fill="#dee9f5"/><rect x="714.48" y="156.63" width="14.14" height="7.19" fill="#dee9f5"/><rect x="729.92" y="156.63" width="14.14" height="7.19" fill="#dee9f5"/><rect x="745.36" y="156.63" width="14.14" height="7.19" fill="#dee9f5"/><rect x="760.80" y="156.63" width="14.14" height="7.19" fill="#dee9f5"/><rect x="66.00" y="164.92" width="14.14" height="7.19" fill="#34a55c"/><rect x="81.44" y="164.92" width="14.14" height="7.19" fill="#1893d2"/><rect x="96.88" y="164.92" width="14.14" height="7.19" fill="#1c9c9a"/><rect x="112.32" y="164.92" width="14.14" height="7.19" fill="#1c9c9a"/><rect x="127.76" y="164.92" width="14.14" height="7.19" fill="#1893d2"/><rect x="143.20" y="164.92" width="14.14" height="7.19" fill="#1893d2"/><rect x="158.64" y="164.92" width="14.14" height="7.19" fill="#1893d2"/><rect x="174.08" y="164.92" width="14.14" height="7.19" fill="#4ba9e2"/><rect x="189.52" y="164.92" width="14.14" height="7.19" fill="#4ba9e2"/><rect x="204.96" y="164.92" width="14.14" height="7.19" fill="#94c5ec"/><rect x="220.40" y="164.92" width="14.14" height="7.19" fill="#c0d9f1"/><rect x="235.84" y="164.92" width="14.14" height="7.19" fill="#c0d9f1"/><rect x="251.28" y="164.92" width="14.14" height="7.19" fill="#c0d9f1"/><rect x="266.72" y="164.92" width="14.14" height="7.19" fill="#c0d9f1"/><rect x="282.16" y="164.92" width="14.14" height="7.19" fill="#c0d9f1"/><rect x="297.60" y="164.92" width="14.14" height="7.19" fill="#4ba9e2"/><rect x="313.04" y="164.92" width="14.14" height="7.19" fill="#dee9f5"/><rect x="328.48" y="164.92" width="14.14" height="7.19" fill="#dee9f5"/><rect x="343.92" y="164.92" width="14.14" height="7.19" fill="#c0d9f1"/><rect x="359.36" y="164.92" width="14.14" height="7.19" fill="#c0d9f1"/><rect x="374.80" y="164.92" width="14.14" height="7.19" fill="#dee9f5"/><rect x="390.24" y="164.92" width="14.14" height="7.19" fill="#dee9f5"/><rect x="405.68" y="164.92" width="14.14" height="7.19" fill="#eef3fa"/><rect x="421.12" y="164.92" width="14.14" height="7.19" fill="#c0d9f1"/><rect x="436.56" y="164.92" width="14.14" height="7.19" fill="#4ba9e2"/><rect x="452.00" y="164.92" width="14.14" height="7.19" fill="#dee9f5"/><rect x="467.44" y="164.92" width="14.14" height="7.19" fill="#dee9f5"/><rect x="482.88" y="164.92" width="14.14" height="7.19" fill="#dee9f5"/><rect x="498.32" y="164.92" width="14.14" height="7.19" fill="#eef3fa"/><rect x="513.76" y="164.92" width="14.14" height="7.19" fill="#c0d9f1"/><rect x="529.20" y="164.92" width="14.14" height="7.19" fill="#1893d2"/><rect x="544.64" y="164.92" width="14.14" height="7.19" fill="#1893d2"/><rect x="560.08" y="164.92" width="14.14" height="7.19" fill="#1893d2"/><rect x="575.52" y="164.92" width="14.14" height="7.19" fill="#94c5ec"/><rect x="590.96" y="164.92" width="14.14" height="7.19" fill="#c0d9f1"/><rect x="606.40" y="164.92" width="14.14" height="7.19" fill="#dee9f5"/><rect x="621.84" y="164.92" width="14.14" height="7.19" fill="#dee9f5"/><rect x="637.28" y="164.92" width="14.14" height="7.19" fill="#dee9f5"/><rect x="652.72" y="164.92" width="14.14" height="7.19" fill="#dee9f5"/><rect x="668.16" y="164.92" width="14.14" height="7.19" fill="#dee9f5"/><rect x="683.60" y="164.92" width="14.14" height="7.19" fill="#dee9f5"/><rect x="699.04" y="164.92" width="14.14" height="7.19" fill="#dee9f5"/><rect x="714.48" y="164.92" width="14.14" height="7.19" fill="#c0d9f1"/><rect x="729.92" y="164.92" width="14.14" height="7.19" fill="#dee9f5"/><rect x="745.36" y="164.92" width="14.14" height="7.19" fill="#dee9f5"/><rect x="760.80" y="164.92" width="14.14" height="7.19" fill="#dee9f5"/><rect x="66.00" y="173.20" width="14.14" height="7.19" fill="#34a55c"/><rect x="81.44" y="173.20" width="14.14" height="7.19" fill="#1c9c9a"/><rect x="96.88" y="173.20" width="14.14" height="7.19" fill="#1c9c9a"/><rect x="112.32" y="173.20" width="14.14" height="7.19" fill="#1893d2"/><rect x="127.76" y="173.20" width="14.14" height="7.19" fill="#34a55c"/><rect x="143.20" y="173.20" width="14.14" height="7.19" fill="#fbcb2e"/><rect x="158.64" y="173.20" width="14.14" height="7.19" fill="#fbcb2e"/><rect x="174.08" y="173.20" width="14.14" height="7.19" fill="#34a55c"/><rect x="189.52" y="173.20" width="14.14" height="7.19" fill="#1c9c9a"/><rect x="204.96" y="173.20" width="14.14" height="7.19" fill="#34a55c"/><rect x="220.40" y="173.20" width="14.14" height="7.19" fill="#1c9c9a"/><rect x="235.84" y="173.20" width="14.14" height="7.19" fill="#1c9c9a"/><rect x="251.28" y="173.20" width="14.14" height="7.19" fill="#34a55c"/><rect x="266.72" y="173.20" width="14.14" height="7.19" fill="#1c9c9a"/><rect x="282.16" y="173.20" width="14.14" height="7.19" fill="#1893d2"/><rect x="297.60" y="173.20" width="14.14" height="7.19" fill="#34a55c"/><rect x="313.04" y="173.20" width="14.14" height="7.19" fill="#c0d9f1"/><rect x="328.48" y="173.20" width="14.14" height="7.19" fill="#1893d2"/><rect x="343.92" y="173.20" width="14.14" height="7.19" fill="#1893d2"/><rect x="359.36" y="173.20" width="14.14" height="7.19" fill="#34a55c"/><rect x="374.80" y="173.20" width="14.14" height="7.19" fill="#1c9c9a"/><rect x="390.24" y="173.20" width="14.14" height="7.19" fill="#fbcb2e"/><rect x="405.68" y="173.20" width="14.14" height="7.19" fill="#94c5ec"/><rect x="421.12" y="173.20" width="14.14" height="7.19" fill="#1893d2"/><rect x="436.56" y="173.20" width="14.14" height="7.19" fill="#4ba9e2"/><rect x="452.00" y="173.20" width="14.14" height="7.19" fill="#94c5ec"/><rect x="467.44" y="173.20" width="14.14" height="7.19" fill="#94c5ec"/><rect x="482.88" y="173.20" width="14.14" height="7.19" fill="#1c9c9a"/><rect x="498.32" y="173.20" width="14.14" height="7.19" fill="#34a55c"/><rect x="513.76" y="173.20" width="14.14" height="7.19" fill="#34a55c"/><rect x="529.20" y="173.20" width="14.14" height="7.19" fill="#1c9c9a"/><rect x="544.64" y="173.20" width="14.14" height="7.19" fill="#94c5ec"/><rect x="560.08" y="173.20" width="14.14" height="7.19" fill="#1893d2"/><rect x="575.52" y="173.20" width="14.14" height="7.19" fill="#dee9f5"/><rect x="590.96" y="173.20" width="14.14" height="7.19" fill="#c0d9f1"/><rect x="606.40" y="173.20" width="14.14" height="7.19" fill="#c0d9f1"/><rect x="621.84" y="173.20" width="14.14" height="7.19" fill="#dee9f5"/><rect x="637.28" y="173.20" width="14.14" height="7.19" fill="#dee9f5"/><rect x="652.72" y="173.20" width="14.14" height="7.19" fill="#dee9f5"/><rect x="668.16" y="173.20" width="14.14" height="7.19" fill="#dee9f5"/><rect x="683.60" y="173.20" width="14.14" height="7.19" fill="#dee9f5"/><rect x="699.04" y="173.20" width="14.14" height="7.19" fill="#dee9f5"/><rect x="714.48" y="173.20" width="14.14" height="7.19" fill="#dee9f5"/><rect x="729.92" y="173.20" width="14.14" height="7.19" fill="#dee9f5"/><rect x="745.36" y="173.20" width="14.14" height="7.19" fill="#dee9f5"/><rect x="760.80" y="173.20" width="14.14" height="7.19" fill="#dee9f5"/><rect x="66.00" y="181.49" width="14.14" height="7.19" fill="#1893d2"/><rect x="81.44" y="181.49" width="14.14" height="7.19" fill="#1c9c9a"/><rect x="96.88" y="181.49" width="14.14" height="7.19" fill="#1c9c9a"/><rect x="112.32" y="181.49" width="14.14" height="7.19" fill="#1c9c9a"/><rect x="127.76" y="181.49" width="14.14" height="7.19" fill="#1c9c9a"/><rect x="143.20" y="181.49" width="14.14" height="7.19" fill="#1c9c9a"/><rect x="158.64" y="181.49" width="14.14" height="7.19" fill="#1c9c9a"/><rect x="174.08" y="181.49" width="14.14" height="7.19" fill="#1c9c9a"/><rect x="189.52" y="181.49" width="14.14" height="7.19" fill="#1c9c9a"/><rect x="204.96" y="181.49" width="14.14" height="7.19" fill="#1893d2"/><rect x="220.40" y="181.49" width="14.14" height="7.19" fill="#1893d2"/><rect x="235.84" y="181.49" width="14.14" height="7.19" fill="#1893d2"/><rect x="251.28" y="181.49" width="14.14" height="7.19" fill="#1893d2"/><rect x="266.72" y="181.49" width="14.14" height="7.19" fill="#1893d2"/><rect x="282.16" y="181.49" width="14.14" height="7.19" fill="#94c5ec"/><rect x="297.60" y="181.49" width="14.14" height="7.19" fill="#94c5ec"/><rect x="313.04" y="181.49" width="14.14" height="7.19" fill="#dee9f5"/><rect x="328.48" y="181.49" width="14.14" height="7.19" fill="#dee9f5"/><rect x="343.92" y="181.49" width="14.14" height="7.19" fill="#dee9f5"/><rect x="359.36" y="181.49" width="14.14" height="7.19" fill="#dee9f5"/><rect x="374.80" y="181.49" width="14.14" height="7.19" fill="#dee9f5"/><rect x="390.24" y="181.49" width="14.14" height="7.19" fill="#dee9f5"/><rect x="405.68" y="181.49" width="14.14" height="7.19" fill="#c0d9f1"/><rect x="421.12" y="181.49" width="14.14" height="7.19" fill="#94c5ec"/><rect x="436.56" y="181.49" width="14.14" height="7.19" fill="#1893d2"/><rect x="452.00" y="181.49" width="14.14" height="7.19" fill="#4ba9e2"/><rect x="467.44" y="181.49" width="14.14" height="7.19" fill="#dee9f5"/><rect x="482.88" y="181.49" width="14.14" height="7.19" fill="#c0d9f1"/><rect x="498.32" y="181.49" width="14.14" height="7.19" fill="#dee9f5"/><rect x="513.76" y="181.49" width="14.14" height="7.19" fill="#dee9f5"/><rect x="529.20" y="181.49" width="14.14" height="7.19" fill="#c0d9f1"/><rect x="544.64" y="181.49" width="14.14" height="7.19" fill="#dee9f5"/><rect x="560.08" y="181.49" width="14.14" height="7.19" fill="#c0d9f1"/><rect x="575.52" y="181.49" width="14.14" height="7.19" fill="#dee9f5"/><rect x="590.96" y="181.49" width="14.14" height="7.19" fill="#c0d9f1"/><rect x="606.40" y="181.49" width="14.14" height="7.19" fill="#c0d9f1"/><rect x="621.84" y="181.49" width="14.14" height="7.19" fill="#dee9f5"/><rect x="637.28" y="181.49" width="14.14" height="7.19" fill="#dee9f5"/><rect x="652.72" y="181.49" width="14.14" height="7.19" fill="#dee9f5"/><rect x="668.16" y="181.49" width="14.14" height="7.19" fill="#dee9f5"/><rect x="683.60" y="181.49" width="14.14" height="7.19" fill="#dee9f5"/><rect x="699.04" y="181.49" width="14.14" height="7.19" fill="#dee9f5"/><rect x="714.48" y="181.49" width="14.14" height="7.19" fill="#dee9f5"/><rect x="729.92" y="181.49" width="14.14" height="7.19" fill="#dee9f5"/><rect x="745.36" y="181.49" width="14.14" height="7.19" fill="#dee9f5"/><rect x="760.80" y="181.49" width="14.14" height="7.19" fill="#dee9f5"/><rect x="66.00" y="189.78" width="14.14" height="7.19" fill="#1893d2"/><rect x="81.44" y="189.78" width="14.14" height="7.19" fill="#1893d2"/><rect x="96.88" y="189.78" width="14.14" height="7.19" fill="#1893d2"/><rect x="112.32" y="189.78" width="14.14" height="7.19" fill="#1893d2"/><rect x="127.76" y="189.78" width="14.14" height="7.19" fill="#1893d2"/><rect x="143.20" y="189.78" width="14.14" height="7.19" fill="#1893d2"/><rect x="158.64" y="189.78" width="14.14" height="7.19" fill="#1893d2"/><rect x="174.08" y="189.78" width="14.14" height="7.19" fill="#1893d2"/><rect x="189.52" y="189.78" width="14.14" height="7.19" fill="#1893d2"/><rect x="204.96" y="189.78" width="14.14" height="7.19" fill="#4ba9e2"/><rect x="220.40" y="189.78" width="14.14" height="7.19" fill="#c0d9f1"/><rect x="235.84" y="189.78" width="14.14" height="7.19" fill="#c0d9f1"/><rect x="251.28" y="189.78" width="14.14" height="7.19" fill="#dee9f5"/><rect x="266.72" y="189.78" width="14.14" height="7.19" fill="#c0d9f1"/><rect x="282.16" y="189.78" width="14.14" height="7.19" fill="#c0d9f1"/><rect x="297.60" y="189.78" width="14.14" height="7.19" fill="#1893d2"/><rect x="313.04" y="189.78" width="14.14" height="7.19" fill="#1893d2"/><rect x="328.48" y="189.78" width="14.14" height="7.19" fill="#c0d9f1"/><rect x="343.92" y="189.78" width="14.14" height="7.19" fill="#dee9f5"/><rect x="359.36" y="189.78" width="14.14" height="7.19" fill="#dee9f5"/><rect x="374.80" y="189.78" width="14.14" height="7.19" fill="#dee9f5"/><rect x="390.24" y="189.78" width="14.14" height="7.19" fill="#dee9f5"/><rect x="405.68" y="189.78" width="14.14" height="7.19" fill="#dee9f5"/><rect x="421.12" y="189.78" width="14.14" height="7.19" fill="#dee9f5"/><rect x="436.56" y="189.78" width="14.14" height="7.19" fill="#c0d9f1"/><rect x="452.00" y="189.78" width="14.14" height="7.19" fill="#c0d9f1"/><rect x="467.44" y="189.78" width="14.14" height="7.19" fill="#1893d2"/><rect x="482.88" y="189.78" width="14.14" height="7.19" fill="#c0d9f1"/><rect x="498.32" y="189.78" width="14.14" height="7.19" fill="#c0d9f1"/><rect x="513.76" y="189.78" width="14.14" height="7.19" fill="#dee9f5"/><rect x="529.20" y="189.78" width="14.14" height="7.19" fill="#c0d9f1"/><rect x="544.64" y="189.78" width="14.14" height="7.19" fill="#dee9f5"/><rect x="560.08" y="189.78" width="14.14" height="7.19" fill="#c0d9f1"/><rect x="575.52" y="189.78" width="14.14" height="7.19" fill="#dee9f5"/><rect x="590.96" y="189.78" width="14.14" height="7.19" fill="#dee9f5"/><rect x="606.40" y="189.78" width="14.14" height="7.19" fill="#dee9f5"/><rect x="621.84" y="189.78" width="14.14" height="7.19" fill="#dee9f5"/><rect x="637.28" y="189.78" width="14.14" height="7.19" fill="#dee9f5"/><rect x="652.72" y="189.78" width="14.14" height="7.19" fill="#dee9f5"/><rect x="668.16" y="189.78" width="14.14" height="7.19" fill="#dee9f5"/><rect x="683.60" y="189.78" width="14.14" height="7.19" fill="#dee9f5"/><rect x="699.04" y="189.78" width="14.14" height="7.19" fill="#dee9f5"/><rect x="714.48" y="189.78" width="14.14" height="7.19" fill="#dee9f5"/><rect x="729.92" y="189.78" width="14.14" height="7.19" fill="#dee9f5"/><rect x="745.36" y="189.78" width="14.14" height="7.19" fill="#dee9f5"/><rect x="760.80" y="189.78" width="14.14" height="7.19" fill="#dee9f5"/><rect x="66.00" y="198.06" width="14.14" height="7.19" fill="#1893d2"/><rect x="81.44" y="198.06" width="14.14" height="7.19" fill="#1893d2"/><rect x="96.88" y="198.06" width="14.14" height="7.19" fill="#1c9c9a"/><rect x="112.32" y="198.06" width="14.14" height="7.19" fill="#1893d2"/><rect x="127.76" y="198.06" width="14.14" height="7.19" fill="#34a55c"/><rect x="143.20" y="198.06" width="14.14" height="7.19" fill="#34a55c"/><rect x="158.64" y="198.06" width="14.14" height="7.19" fill="#1c9c9a"/><rect x="174.08" y="198.06" width="14.14" height="7.19" fill="#34a55c"/><rect x="189.52" y="198.06" width="14.14" height="7.19" fill="#1c9c9a"/><rect x="204.96" y="198.06" width="14.14" height="7.19" fill="#1c9c9a"/><rect x="220.40" y="198.06" width="14.14" height="7.19" fill="#1c9c9a"/><rect x="235.84" y="198.06" width="14.14" height="7.19" fill="#1c9c9a"/><rect x="251.28" y="198.06" width="14.14" height="7.19" fill="#1893d2"/><rect x="266.72" y="198.06" width="14.14" height="7.19" fill="#4ba9e2"/><rect x="282.16" y="198.06" width="14.14" height="7.19" fill="#94c5ec"/><rect x="297.60" y="198.06" width="14.14" height="7.19" fill="#94c5ec"/><rect x="313.04" y="198.06" width="14.14" height="7.19" fill="#1893d2"/><rect x="328.48" y="198.06" width="14.14" height="7.19" fill="#dee9f5"/><rect x="343.92" y="198.06" width="14.14" height="7.19" fill="#dee9f5"/><rect x="359.36" y="198.06" width="14.14" height="7.19" fill="#dee9f5"/><rect x="374.80" y="198.06" width="14.14" height="7.19" fill="#dee9f5"/><rect x="390.24" y="198.06" width="14.14" height="7.19" fill="#1c9c9a"/><rect x="405.68" y="198.06" width="14.14" height="7.19" fill="#94c5ec"/><rect x="421.12" y="198.06" width="14.14" height="7.19" fill="#4ba9e2"/><rect x="436.56" y="198.06" width="14.14" height="7.19" fill="#94c5ec"/><rect x="452.00" y="198.06" width="14.14" height="7.19" fill="#dee9f5"/><rect x="467.44" y="198.06" width="14.14" height="7.19" fill="#dee9f5"/><rect x="482.88" y="198.06" width="14.14" height="7.19" fill="#dee9f5"/><rect x="498.32" y="198.06" width="14.14" height="7.19" fill="#dee9f5"/><rect x="513.76" y="198.06" width="14.14" height="7.19" fill="#dee9f5"/><rect x="529.20" y="198.06" width="14.14" height="7.19" fill="#1893d2"/><rect x="544.64" y="198.06" width="14.14" height="7.19" fill="#dee9f5"/><rect x="560.08" y="198.06" width="14.14" height="7.19" fill="#dee9f5"/><rect x="575.52" y="198.06" width="14.14" height="7.19" fill="#dee9f5"/><rect x="590.96" y="198.06" width="14.14" height="7.19" fill="#dee9f5"/><rect x="606.40" y="198.06" width="14.14" height="7.19" fill="#94c5ec"/><rect x="621.84" y="198.06" width="14.14" height="7.19" fill="#dee9f5"/><rect x="637.28" y="198.06" width="14.14" height="7.19" fill="#dee9f5"/><rect x="652.72" y="198.06" width="14.14" height="7.19" fill="#dee9f5"/><rect x="668.16" y="198.06" width="14.14" height="7.19" fill="#dee9f5"/><rect x="683.60" y="198.06" width="14.14" height="7.19" fill="#dee9f5"/><rect x="699.04" y="198.06" width="14.14" height="7.19" fill="#dee9f5"/><rect x="714.48" y="198.06" width="14.14" height="7.19" fill="#dee9f5"/><rect x="729.92" y="198.06" width="14.14" height="7.19" fill="#dee9f5"/><rect x="745.36" y="198.06" width="14.14" height="7.19" fill="#dee9f5"/><rect x="760.80" y="198.06" width="14.14" height="7.19" fill="#dee9f5"/><rect x="66.00" y="206.34" width="14.14" height="7.19" fill="#fbcb2e"/><rect x="81.44" y="206.34" width="14.14" height="7.19" fill="#fbcb2e"/><rect x="96.88" y="206.34" width="14.14" height="7.19" fill="#fbcb2e"/><rect x="112.32" y="206.34" width="14.14" height="7.19" fill="#fbcb2e"/><rect x="127.76" y="206.34" width="14.14" height="7.19" fill="#fbcb2e"/><rect x="143.20" y="206.34" width="14.14" height="7.19" fill="#fbcb2e"/><rect x="158.64" y="206.34" width="14.14" height="7.19" fill="#9bbd3c"/><rect x="174.08" y="206.34" width="14.14" height="7.19" fill="#fbcb2e"/><rect x="189.52" y="206.34" width="14.14" height="7.19" fill="#34a55c"/><rect x="204.96" y="206.34" width="14.14" height="7.19" fill="#34a55c"/><rect x="220.40" y="206.34" width="14.14" height="7.19" fill="#1c9c9a"/><rect x="235.84" y="206.34" width="14.14" height="7.19" fill="#1c9c9a"/><rect x="251.28" y="206.34" width="14.14" height="7.19" fill="#4ba9e2"/><rect x="266.72" y="206.34" width="14.14" height="7.19" fill="#4ba9e2"/><rect x="282.16" y="206.34" width="14.14" height="7.19" fill="#1893d2"/><rect x="297.60" y="206.34" width="14.14" height="7.19" fill="#1893d2"/><rect x="313.04" y="206.34" width="14.14" height="7.19" fill="#1893d2"/><rect x="328.48" y="206.34" width="14.14" height="7.19" fill="#34a55c"/><rect x="343.92" y="206.34" width="14.14" height="7.19" fill="#1893d2"/><rect x="359.36" y="206.34" width="14.14" height="7.19" fill="#c0d9f1"/><rect x="374.80" y="206.34" width="14.14" height="7.19" fill="#dee9f5"/><rect x="390.24" y="206.34" width="14.14" height="7.19" fill="#c0d9f1"/><rect x="405.68" y="206.34" width="14.14" height="7.19" fill="#c0d9f1"/><rect x="421.12" y="206.34" width="14.14" height="7.19" fill="#dee9f5"/><rect x="436.56" y="206.34" width="14.14" height="7.19" fill="#dee9f5"/><rect x="452.00" y="206.34" width="14.14" height="7.19" fill="#dee9f5"/><rect x="467.44" y="206.34" width="14.14" height="7.19" fill="#dee9f5"/><rect x="482.88" y="206.34" width="14.14" height="7.19" fill="#dee9f5"/><rect x="498.32" y="206.34" width="14.14" height="7.19" fill="#c0d9f1"/><rect x="513.76" y="206.34" width="14.14" height="7.19" fill="#dee9f5"/><rect x="529.20" y="206.34" width="14.14" height="7.19" fill="#dee9f5"/><rect x="544.64" y="206.34" width="14.14" height="7.19" fill="#dee9f5"/><rect x="560.08" y="206.34" width="14.14" height="7.19" fill="#dee9f5"/><rect x="575.52" y="206.34" width="14.14" height="7.19" fill="#dee9f5"/><rect x="590.96" y="206.34" width="14.14" height="7.19" fill="#dee9f5"/><rect x="606.40" y="206.34" width="14.14" height="7.19" fill="#c0d9f1"/><rect x="621.84" y="206.34" width="14.14" height="7.19" fill="#dee9f5"/><rect x="637.28" y="206.34" width="14.14" height="7.19" fill="#dee9f5"/><rect x="652.72" y="206.34" width="14.14" height="7.19" fill="#dee9f5"/><rect x="668.16" y="206.34" width="14.14" height="7.19" fill="#dee9f5"/><rect x="683.60" y="206.34" width="14.14" height="7.19" fill="#dee9f5"/><rect x="699.04" y="206.34" width="14.14" height="7.19" fill="#dee9f5"/><rect x="714.48" y="206.34" width="14.14" height="7.19" fill="#dee9f5"/><rect x="729.92" y="206.34" width="14.14" height="7.19" fill="#dee9f5"/><rect x="745.36" y="206.34" width="14.14" height="7.19" fill="#dee9f5"/><rect x="760.80" y="206.34" width="14.14" height="7.19" fill="#dee9f5"/><rect x="66.00" y="214.63" width="14.14" height="7.19" fill="#1c9c9a"/><rect x="81.44" y="214.63" width="14.14" height="7.19" fill="#1c9c9a"/><rect x="96.88" y="214.63" width="14.14" height="7.19" fill="#1c9c9a"/><rect x="112.32" y="214.63" width="14.14" height="7.19" fill="#1c9c9a"/><rect x="127.76" y="214.63" width="14.14" height="7.19" fill="#1893d2"/><rect x="143.20" y="214.63" width="14.14" height="7.19" fill="#1c9c9a"/><rect x="158.64" y="214.63" width="14.14" height="7.19" fill="#1c9c9a"/><rect x="174.08" y="214.63" width="14.14" height="7.19" fill="#1c9c9a"/><rect x="189.52" y="214.63" width="14.14" height="7.19" fill="#1893d2"/><rect x="204.96" y="214.63" width="14.14" height="7.19" fill="#1893d2"/><rect x="220.40" y="214.63" width="14.14" height="7.19" fill="#1893d2"/><rect x="235.84" y="214.63" width="14.14" height="7.19" fill="#1c9c9a"/><rect x="251.28" y="214.63" width="14.14" height="7.19" fill="#1c9c9a"/><rect x="266.72" y="214.63" width="14.14" height="7.19" fill="#1c9c9a"/><rect x="282.16" y="214.63" width="14.14" height="7.19" fill="#1893d2"/><rect x="297.60" y="214.63" width="14.14" height="7.19" fill="#1c9c9a"/><rect x="313.04" y="214.63" width="14.14" height="7.19" fill="#1c9c9a"/><rect x="328.48" y="214.63" width="14.14" height="7.19" fill="#1c9c9a"/><rect x="343.92" y="214.63" width="14.14" height="7.19" fill="#94c5ec"/><rect x="359.36" y="214.63" width="14.14" height="7.19" fill="#dee9f5"/><rect x="374.80" y="214.63" width="14.14" height="7.19" fill="#dee9f5"/><rect x="390.24" y="214.63" width="14.14" height="7.19" fill="#dee9f5"/><rect x="405.68" y="214.63" width="14.14" height="7.19" fill="#dee9f5"/><rect x="421.12" y="214.63" width="14.14" height="7.19" fill="#c0d9f1"/><rect x="436.56" y="214.63" width="14.14" height="7.19" fill="#c0d9f1"/><rect x="452.00" y="214.63" width="14.14" height="7.19" fill="#dee9f5"/><rect x="467.44" y="214.63" width="14.14" height="7.19" fill="#dee9f5"/><rect x="482.88" y="214.63" width="14.14" height="7.19" fill="#dee9f5"/><rect x="498.32" y="214.63" width="14.14" height="7.19" fill="#dee9f5"/><rect x="513.76" y="214.63" width="14.14" height="7.19" fill="#dee9f5"/><rect x="529.20" y="214.63" width="14.14" height="7.19" fill="#c0d9f1"/><rect x="544.64" y="214.63" width="14.14" height="7.19" fill="#dee9f5"/><rect x="560.08" y="214.63" width="14.14" height="7.19" fill="#dee9f5"/><rect x="575.52" y="214.63" width="14.14" height="7.19" fill="#c0d9f1"/><rect x="590.96" y="214.63" width="14.14" height="7.19" fill="#dee9f5"/><rect x="606.40" y="214.63" width="14.14" height="7.19" fill="#dee9f5"/><rect x="621.84" y="214.63" width="14.14" height="7.19" fill="#dee9f5"/><rect x="637.28" y="214.63" width="14.14" height="7.19" fill="#dee9f5"/><rect x="652.72" y="214.63" width="14.14" height="7.19" fill="#dee9f5"/><rect x="668.16" y="214.63" width="14.14" height="7.19" fill="#dee9f5"/><rect x="683.60" y="214.63" width="14.14" height="7.19" fill="#dee9f5"/><rect x="699.04" y="214.63" width="14.14" height="7.19" fill="#dee9f5"/><rect x="714.48" y="214.63" width="14.14" height="7.19" fill="#dee9f5"/><rect x="729.92" y="214.63" width="14.14" height="7.19" fill="#dee9f5"/><rect x="745.36" y="214.63" width="14.14" height="7.19" fill="#dee9f5"/><rect x="760.80" y="214.63" width="14.14" height="7.19" fill="#dee9f5"/><rect x="66.00" y="222.91" width="14.14" height="7.19" fill="#1893d2"/><rect x="81.44" y="222.91" width="14.14" height="7.19" fill="#1893d2"/><rect x="96.88" y="222.91" width="14.14" height="7.19" fill="#1c9c9a"/><rect x="112.32" y="222.91" width="14.14" height="7.19" fill="#fbcb2e"/><rect x="127.76" y="222.91" width="14.14" height="7.19" fill="#fbcb2e"/><rect x="143.20" y="222.91" width="14.14" height="7.19" fill="#34a55c"/><rect x="158.64" y="222.91" width="14.14" height="7.19" fill="#34a55c"/><rect x="174.08" y="222.91" width="14.14" height="7.19" fill="#34a55c"/><rect x="189.52" y="222.91" width="14.14" height="7.19" fill="#c0d9f1"/><rect x="204.96" y="222.91" width="14.14" height="7.19" fill="#dee9f5"/><rect x="220.40" y="222.91" width="14.14" height="7.19" fill="#dee9f5"/><rect x="235.84" y="222.91" width="14.14" height="7.19" fill="#dee9f5"/><rect x="251.28" y="222.91" width="14.14" height="7.19" fill="#dee9f5"/><rect x="266.72" y="222.91" width="14.14" height="7.19" fill="#dee9f5"/><rect x="282.16" y="222.91" width="14.14" height="7.19" fill="#dee9f5"/><rect x="297.60" y="222.91" width="14.14" height="7.19" fill="#dee9f5"/><rect x="313.04" y="222.91" width="14.14" height="7.19" fill="#dee9f5"/><rect x="328.48" y="222.91" width="14.14" height="7.19" fill="#dee9f5"/><rect x="343.92" y="222.91" width="14.14" height="7.19" fill="#dee9f5"/><rect x="359.36" y="222.91" width="14.14" height="7.19" fill="#c0d9f1"/><rect x="374.80" y="222.91" width="14.14" height="7.19" fill="#c0d9f1"/><rect x="390.24" y="222.91" width="14.14" height="7.19" fill="#94c5ec"/><rect x="405.68" y="222.91" width="14.14" height="7.19" fill="#dee9f5"/><rect x="421.12" y="222.91" width="14.14" height="7.19" fill="#dee9f5"/><rect x="436.56" y="222.91" width="14.14" height="7.19" fill="#c0d9f1"/><rect x="452.00" y="222.91" width="14.14" height="7.19" fill="#dee9f5"/><rect x="467.44" y="222.91" width="14.14" height="7.19" fill="#c0d9f1"/><rect x="482.88" y="222.91" width="14.14" height="7.19" fill="#dee9f5"/><rect x="498.32" y="222.91" width="14.14" height="7.19" fill="#dee9f5"/><rect x="513.76" y="222.91" width="14.14" height="7.19" fill="#dee9f5"/><rect x="529.20" y="222.91" width="14.14" height="7.19" fill="#dee9f5"/><rect x="544.64" y="222.91" width="14.14" height="7.19" fill="#dee9f5"/><rect x="560.08" y="222.91" width="14.14" height="7.19" fill="#dee9f5"/><rect x="575.52" y="222.91" width="14.14" height="7.19" fill="#dee9f5"/><rect x="590.96" y="222.91" width="14.14" height="7.19" fill="#dee9f5"/><rect x="606.40" y="222.91" width="14.14" height="7.19" fill="#c0d9f1"/><rect x="621.84" y="222.91" width="14.14" height="7.19" fill="#dee9f5"/><rect x="637.28" y="222.91" width="14.14" height="7.19" fill="#c0d9f1"/><rect x="652.72" y="222.91" width="14.14" height="7.19" fill="#1c9c9a"/><rect x="668.16" y="222.91" width="14.14" height="7.19" fill="#4ba9e2"/><rect x="683.60" y="222.91" width="14.14" height="7.19" fill="#dee9f5"/><rect x="699.04" y="222.91" width="14.14" height="7.19" fill="#dee9f5"/><rect x="714.48" y="222.91" width="14.14" height="7.19" fill="#dee9f5"/><rect x="729.92" y="222.91" width="14.14" height="7.19" fill="#dee9f5"/><rect x="745.36" y="222.91" width="14.14" height="7.19" fill="#dee9f5"/><rect x="760.80" y="222.91" width="14.14" height="7.19" fill="#dee9f5"/><rect x="66.00" y="231.20" width="14.14" height="7.19" fill="#34a55c"/><rect x="81.44" y="231.20" width="14.14" height="7.19" fill="#1c9c9a"/><rect x="96.88" y="231.20" width="14.14" height="7.19" fill="#1c9c9a"/><rect x="112.32" y="231.20" width="14.14" height="7.19" fill="#1c9c9a"/><rect x="127.76" y="231.20" width="14.14" height="7.19" fill="#34a55c"/><rect x="143.20" y="231.20" width="14.14" height="7.19" fill="#1c9c9a"/><rect x="158.64" y="231.20" width="14.14" height="7.19" fill="#1c9c9a"/><rect x="174.08" y="231.20" width="14.14" height="7.19" fill="#1c9c9a"/><rect x="189.52" y="231.20" width="14.14" height="7.19" fill="#4ba9e2"/><rect x="204.96" y="231.20" width="14.14" height="7.19" fill="#1893d2"/><rect x="220.40" y="231.20" width="14.14" height="7.19" fill="#1893d2"/><rect x="235.84" y="231.20" width="14.14" height="7.19" fill="#1893d2"/><rect x="251.28" y="231.20" width="14.14" height="7.19" fill="#1893d2"/><rect x="266.72" y="231.20" width="14.14" height="7.19" fill="#1893d2"/><rect x="282.16" y="231.20" width="14.14" height="7.19" fill="#c0d9f1"/><rect x="297.60" y="231.20" width="14.14" height="7.19" fill="#c0d9f1"/><rect x="313.04" y="231.20" width="14.14" height="7.19" fill="#c0d9f1"/><rect x="328.48" y="231.20" width="14.14" height="7.19" fill="#dee9f5"/><rect x="343.92" y="231.20" width="14.14" height="7.19" fill="#dee9f5"/><rect x="359.36" y="231.20" width="14.14" height="7.19" fill="#dee9f5"/><rect x="374.80" y="231.20" width="14.14" height="7.19" fill="#dee9f5"/><rect x="390.24" y="231.20" width="14.14" height="7.19" fill="#94c5ec"/><rect x="405.68" y="231.20" width="14.14" height="7.19" fill="#dee9f5"/><rect x="421.12" y="231.20" width="14.14" height="7.19" fill="#1c9c9a"/><rect x="436.56" y="231.20" width="14.14" height="7.19" fill="#1c9c9a"/><rect x="452.00" y="231.20" width="14.14" height="7.19" fill="#c0d9f1"/><rect x="467.44" y="231.20" width="14.14" height="7.19" fill="#dee9f5"/><rect x="482.88" y="231.20" width="14.14" height="7.19" fill="#dee9f5"/><rect x="498.32" y="231.20" width="14.14" height="7.19" fill="#dee9f5"/><rect x="513.76" y="231.20" width="14.14" height="7.19" fill="#dee9f5"/><rect x="529.20" y="231.20" width="14.14" height="7.19" fill="#c0d9f1"/><rect x="544.64" y="231.20" width="14.14" height="7.19" fill="#dee9f5"/><rect x="560.08" y="231.20" width="14.14" height="7.19" fill="#c0d9f1"/><rect x="575.52" y="231.20" width="14.14" height="7.19" fill="#c0d9f1"/><rect x="590.96" y="231.20" width="14.14" height="7.19" fill="#dee9f5"/><rect x="606.40" y="231.20" width="14.14" height="7.19" fill="#94c5ec"/><rect x="621.84" y="231.20" width="14.14" height="7.19" fill="#94c5ec"/><rect x="637.28" y="231.20" width="14.14" height="7.19" fill="#c0d9f1"/><rect x="652.72" y="231.20" width="14.14" height="7.19" fill="#dee9f5"/><rect x="668.16" y="231.20" width="14.14" height="7.19" fill="#dee9f5"/><rect x="683.60" y="231.20" width="14.14" height="7.19" fill="#dee9f5"/><rect x="699.04" y="231.20" width="14.14" height="7.19" fill="#dee9f5"/><rect x="714.48" y="231.20" width="14.14" height="7.19" fill="#dee9f5"/><rect x="729.92" y="231.20" width="14.14" height="7.19" fill="#dee9f5"/><rect x="745.36" y="231.20" width="14.14" height="7.19" fill="#dee9f5"/><rect x="760.80" y="231.20" width="14.14" height="7.19" fill="#dee9f5"/><rect x="66.00" y="239.49" width="14.14" height="7.19" fill="#9bbd3c"/><rect x="81.44" y="239.49" width="14.14" height="7.19" fill="#1c9c9a"/><rect x="96.88" y="239.49" width="14.14" height="7.19" fill="#1893d2"/><rect x="112.32" y="239.49" width="14.14" height="7.19" fill="#34a55c"/><rect x="127.76" y="239.49" width="14.14" height="7.19" fill="#e99c2b"/><rect x="143.20" y="239.49" width="14.14" height="7.19" fill="#edb232"/><rect x="158.64" y="239.49" width="14.14" height="7.19" fill="#1c9c9a"/><rect x="174.08" y="239.49" width="14.14" height="7.19" fill="#94c5ec"/><rect x="189.52" y="239.49" width="14.14" height="7.19" fill="#1893d2"/><rect x="204.96" y="239.49" width="14.14" height="7.19" fill="#dee9f5"/><rect x="220.40" y="239.49" width="14.14" height="7.19" fill="#1893d2"/><rect x="235.84" y="239.49" width="14.14" height="7.19" fill="#dee9f5"/><rect x="251.28" y="239.49" width="14.14" height="7.19" fill="#4ba9e2"/><rect x="266.72" y="239.49" width="14.14" height="7.19" fill="#1c9c9a"/><rect x="282.16" y="239.49" width="14.14" height="7.19" fill="#dee9f5"/><rect x="297.60" y="239.49" width="14.14" height="7.19" fill="#dee9f5"/><rect x="313.04" y="239.49" width="14.14" height="7.19" fill="#dee9f5"/><rect x="328.48" y="239.49" width="14.14" height="7.19" fill="#dee9f5"/><rect x="343.92" y="239.49" width="14.14" height="7.19" fill="#dee9f5"/><rect x="359.36" y="239.49" width="14.14" height="7.19" fill="#dee9f5"/><rect x="374.80" y="239.49" width="14.14" height="7.19" fill="#dee9f5"/><rect x="390.24" y="239.49" width="14.14" height="7.19" fill="#dee9f5"/><rect x="405.68" y="239.49" width="14.14" height="7.19" fill="#dee9f5"/><rect x="421.12" y="239.49" width="14.14" height="7.19" fill="#dee9f5"/><rect x="436.56" y="239.49" width="14.14" height="7.19" fill="#dee9f5"/><rect x="452.00" y="239.49" width="14.14" height="7.19" fill="#dee9f5"/><rect x="467.44" y="239.49" width="14.14" height="7.19" fill="#dee9f5"/><rect x="482.88" y="239.49" width="14.14" height="7.19" fill="#dee9f5"/><rect x="498.32" y="239.49" width="14.14" height="7.19" fill="#dee9f5"/><rect x="513.76" y="239.49" width="14.14" height="7.19" fill="#dee9f5"/><rect x="529.20" y="239.49" width="14.14" height="7.19" fill="#dee9f5"/><rect x="544.64" y="239.49" width="14.14" height="7.19" fill="#dee9f5"/><rect x="560.08" y="239.49" width="14.14" height="7.19" fill="#dee9f5"/><rect x="575.52" y="239.49" width="14.14" height="7.19" fill="#dee9f5"/><rect x="590.96" y="239.49" width="14.14" height="7.19" fill="#dee9f5"/><rect x="606.40" y="239.49" width="14.14" height="7.19" fill="#dee9f5"/><rect x="621.84" y="239.49" width="14.14" height="7.19" fill="#dee9f5"/><rect x="637.28" y="239.49" width="14.14" height="7.19" fill="#dee9f5"/><rect x="652.72" y="239.49" width="14.14" height="7.19" fill="#dee9f5"/><rect x="668.16" y="239.49" width="14.14" height="7.19" fill="#dee9f5"/><rect x="683.60" y="239.49" width="14.14" height="7.19" fill="#dee9f5"/><rect x="699.04" y="239.49" width="14.14" height="7.19" fill="#dee9f5"/><rect x="714.48" y="239.49" width="14.14" height="7.19" fill="#dee9f5"/><rect x="729.92" y="239.49" width="14.14" height="7.19" fill="#dee9f5"/><rect x="745.36" y="239.49" width="14.14" height="7.19" fill="#dee9f5"/><rect x="760.80" y="239.49" width="14.14" height="7.19" fill="#dee9f5"/><rect x="66.00" y="247.77" width="14.14" height="7.19" fill="#fbcb2e"/><rect x="81.44" y="247.77" width="14.14" height="7.19" fill="#34a55c"/><rect x="96.88" y="247.77" width="14.14" height="7.19" fill="#34a55c"/><rect x="112.32" y="247.77" width="14.14" height="7.19" fill="#fbcb2e"/><rect x="127.76" y="247.77" width="14.14" height="7.19" fill="#edb232"/><rect x="143.20" y="247.77" width="14.14" height="7.19" fill="#edb232"/><rect x="158.64" y="247.77" width="14.14" height="7.19" fill="#fbcb2e"/><rect x="174.08" y="247.77" width="14.14" height="7.19" fill="#fbcb2e"/><rect x="189.52" y="247.77" width="14.14" height="7.19" fill="#e0c434"/><rect x="204.96" y="247.77" width="14.14" height="7.19" fill="#34a55c"/><rect x="220.40" y="247.77" width="14.14" height="7.19" fill="#1c9c9a"/><rect x="235.84" y="247.77" width="14.14" height="7.19" fill="#1c9c9a"/><rect x="251.28" y="247.77" width="14.14" height="7.19" fill="#1c9c9a"/><rect x="266.72" y="247.77" width="14.14" height="7.19" fill="#1893d2"/><rect x="282.16" y="247.77" width="14.14" height="7.19" fill="#94c5ec"/><rect x="297.60" y="247.77" width="14.14" height="7.19" fill="#1893d2"/><rect x="313.04" y="247.77" width="14.14" height="7.19" fill="#4ba9e2"/><rect x="328.48" y="247.77" width="14.14" height="7.19" fill="#94c5ec"/><rect x="343.92" y="247.77" width="14.14" height="7.19" fill="#c0d9f1"/><rect x="359.36" y="247.77" width="14.14" height="7.19" fill="#c0d9f1"/><rect x="374.80" y="247.77" width="14.14" height="7.19" fill="#dee9f5"/><rect x="390.24" y="247.77" width="14.14" height="7.19" fill="#94c5ec"/><rect x="405.68" y="247.77" width="14.14" height="7.19" fill="#dee9f5"/><rect x="421.12" y="247.77" width="14.14" height="7.19" fill="#dee9f5"/><rect x="436.56" y="247.77" width="14.14" height="7.19" fill="#dee9f5"/><rect x="452.00" y="247.77" width="14.14" height="7.19" fill="#dee9f5"/><rect x="467.44" y="247.77" width="14.14" height="7.19" fill="#dee9f5"/><rect x="482.88" y="247.77" width="14.14" height="7.19" fill="#dee9f5"/><rect x="498.32" y="247.77" width="14.14" height="7.19" fill="#dee9f5"/><rect x="513.76" y="247.77" width="14.14" height="7.19" fill="#dee9f5"/><rect x="529.20" y="247.77" width="14.14" height="7.19" fill="#c0d9f1"/><rect x="544.64" y="247.77" width="14.14" height="7.19" fill="#94c5ec"/><rect x="560.08" y="247.77" width="14.14" height="7.19" fill="#1c9c9a"/><rect x="575.52" y="247.77" width="14.14" height="7.19" fill="#4ba9e2"/><rect x="590.96" y="247.77" width="14.14" height="7.19" fill="#dee9f5"/><rect x="606.40" y="247.77" width="14.14" height="7.19" fill="#dee9f5"/><rect x="621.84" y="247.77" width="14.14" height="7.19" fill="#dee9f5"/><rect x="637.28" y="247.77" width="14.14" height="7.19" fill="#dee9f5"/><rect x="652.72" y="247.77" width="14.14" height="7.19" fill="#dee9f5"/><rect x="668.16" y="247.77" width="14.14" height="7.19" fill="#dee9f5"/><rect x="683.60" y="247.77" width="14.14" height="7.19" fill="#dee9f5"/><rect x="699.04" y="247.77" width="14.14" height="7.19" fill="#dee9f5"/><rect x="714.48" y="247.77" width="14.14" height="7.19" fill="#dee9f5"/><rect x="729.92" y="247.77" width="14.14" height="7.19" fill="#dee9f5"/><rect x="745.36" y="247.77" width="14.14" height="7.19" fill="#dee9f5"/><rect x="760.80" y="247.77" width="14.14" height="7.19" fill="#dee9f5"/><rect x="66.00" y="256.06" width="14.14" height="7.19" fill="#1893d2"/><rect x="81.44" y="256.06" width="14.14" height="7.19" fill="#1893d2"/><rect x="96.88" y="256.06" width="14.14" height="7.19" fill="#1c9c9a"/><rect x="112.32" y="256.06" width="14.14" height="7.19" fill="#1893d2"/><rect x="127.76" y="256.06" width="14.14" height="7.19" fill="#1893d2"/><rect x="143.20" y="256.06" width="14.14" height="7.19" fill="#4ba9e2"/><rect x="158.64" y="256.06" width="14.14" height="7.19" fill="#c0d9f1"/><rect x="174.08" y="256.06" width="14.14" height="7.19" fill="#c0d9f1"/><rect x="189.52" y="256.06" width="14.14" height="7.19" fill="#1893d2"/><rect x="204.96" y="256.06" width="14.14" height="7.19" fill="#1893d2"/><rect x="220.40" y="256.06" width="14.14" height="7.19" fill="#1893d2"/><rect x="235.84" y="256.06" width="14.14" height="7.19" fill="#1893d2"/><rect x="251.28" y="256.06" width="14.14" height="7.19" fill="#34a55c"/><rect x="266.72" y="256.06" width="14.14" height="7.19" fill="#1893d2"/><rect x="282.16" y="256.06" width="14.14" height="7.19" fill="#c0d9f1"/><rect x="297.60" y="256.06" width="14.14" height="7.19" fill="#dee9f5"/><rect x="313.04" y="256.06" width="14.14" height="7.19" fill="#c0d9f1"/><rect x="328.48" y="256.06" width="14.14" height="7.19" fill="#dee9f5"/><rect x="343.92" y="256.06" width="14.14" height="7.19" fill="#dee9f5"/><rect x="359.36" y="256.06" width="14.14" height="7.19" fill="#c0d9f1"/><rect x="374.80" y="256.06" width="14.14" height="7.19" fill="#dee9f5"/><rect x="390.24" y="256.06" width="14.14" height="7.19" fill="#dee9f5"/><rect x="405.68" y="256.06" width="14.14" height="7.19" fill="#dee9f5"/><rect x="421.12" y="256.06" width="14.14" height="7.19" fill="#dee9f5"/><rect x="436.56" y="256.06" width="14.14" height="7.19" fill="#94c5ec"/><rect x="452.00" y="256.06" width="14.14" height="7.19" fill="#94c5ec"/><rect x="467.44" y="256.06" width="14.14" height="7.19" fill="#1893d2"/><rect x="482.88" y="256.06" width="14.14" height="7.19" fill="#94c5ec"/><rect x="498.32" y="256.06" width="14.14" height="7.19" fill="#dee9f5"/><rect x="513.76" y="256.06" width="14.14" height="7.19" fill="#dee9f5"/><rect x="529.20" y="256.06" width="14.14" height="7.19" fill="#dee9f5"/><rect x="544.64" y="256.06" width="14.14" height="7.19" fill="#dee9f5"/><rect x="560.08" y="256.06" width="14.14" height="7.19" fill="#dee9f5"/><rect x="575.52" y="256.06" width="14.14" height="7.19" fill="#dee9f5"/><rect x="590.96" y="256.06" width="14.14" height="7.19" fill="#dee9f5"/><rect x="606.40" y="256.06" width="14.14" height="7.19" fill="#dee9f5"/><rect x="621.84" y="256.06" width="14.14" height="7.19" fill="#dee9f5"/><rect x="637.28" y="256.06" width="14.14" height="7.19" fill="#dee9f5"/><rect x="652.72" y="256.06" width="14.14" height="7.19" fill="#dee9f5"/><rect x="668.16" y="256.06" width="14.14" height="7.19" fill="#dee9f5"/><rect x="683.60" y="256.06" width="14.14" height="7.19" fill="#dee9f5"/><rect x="699.04" y="256.06" width="14.14" height="7.19" fill="#dee9f5"/><rect x="714.48" y="256.06" width="14.14" height="7.19" fill="#dee9f5"/><rect x="729.92" y="256.06" width="14.14" height="7.19" fill="#dee9f5"/><rect x="745.36" y="256.06" width="14.14" height="7.19" fill="#dee9f5"/><rect x="760.80" y="256.06" width="14.14" height="7.19" fill="#dee9f5"/><rect x="66.00" y="264.34" width="14.14" height="7.19" fill="#1c9c9a"/><rect x="81.44" y="264.34" width="14.14" height="7.19" fill="#9bbd3c"/><rect x="96.88" y="264.34" width="14.14" height="7.19" fill="#1c9c9a"/><rect x="112.32" y="264.34" width="14.14" height="7.19" fill="#1893d2"/><rect x="127.76" y="264.34" width="14.14" height="7.19" fill="#1c9c9a"/><rect x="143.20" y="264.34" width="14.14" height="7.19" fill="#1c9c9a"/><rect x="158.64" y="264.34" width="14.14" height="7.19" fill="#1c9c9a"/><rect x="174.08" y="264.34" width="14.14" height="7.19" fill="#1c9c9a"/><rect x="189.52" y="264.34" width="14.14" height="7.19" fill="#c0d9f1"/><rect x="204.96" y="264.34" width="14.14" height="7.19" fill="#1893d2"/><rect x="220.40" y="264.34" width="14.14" height="7.19" fill="#1c9c9a"/><rect x="235.84" y="264.34" width="14.14" height="7.19" fill="#1893d2"/><rect x="251.28" y="264.34" width="14.14" height="7.19" fill="#1893d2"/><rect x="266.72" y="264.34" width="14.14" height="7.19" fill="#4ba9e2"/><rect x="282.16" y="264.34" width="14.14" height="7.19" fill="#dee9f5"/><rect x="297.60" y="264.34" width="14.14" height="7.19" fill="#94c5ec"/><rect x="313.04" y="264.34" width="14.14" height="7.19" fill="#dee9f5"/><rect x="328.48" y="264.34" width="14.14" height="7.19" fill="#dee9f5"/><rect x="343.92" y="264.34" width="14.14" height="7.19" fill="#dee9f5"/><rect x="359.36" y="264.34" width="14.14" height="7.19" fill="#dee9f5"/><rect x="374.80" y="264.34" width="14.14" height="7.19" fill="#dee9f5"/><rect x="390.24" y="264.34" width="14.14" height="7.19" fill="#1893d2"/><rect x="405.68" y="264.34" width="14.14" height="7.19" fill="#94c5ec"/><rect x="421.12" y="264.34" width="14.14" height="7.19" fill="#1893d2"/><rect x="436.56" y="264.34" width="14.14" height="7.19" fill="#4ba9e2"/><rect x="452.00" y="264.34" width="14.14" height="7.19" fill="#4ba9e2"/><rect x="467.44" y="264.34" width="14.14" height="7.19" fill="#1c9c9a"/><rect x="482.88" y="264.34" width="14.14" height="7.19" fill="#1c9c9a"/><rect x="498.32" y="264.34" width="14.14" height="7.19" fill="#4ba9e2"/><rect x="513.76" y="264.34" width="14.14" height="7.19" fill="#34a55c"/><rect x="529.20" y="264.34" width="14.14" height="7.19" fill="#34a55c"/><rect x="544.64" y="264.34" width="14.14" height="7.19" fill="#1893d2"/><rect x="560.08" y="264.34" width="14.14" height="7.19" fill="#94c5ec"/><rect x="575.52" y="264.34" width="14.14" height="7.19" fill="#1893d2"/><rect x="590.96" y="264.34" width="14.14" height="7.19" fill="#c0d9f1"/><rect x="606.40" y="264.34" width="14.14" height="7.19" fill="#dee9f5"/><rect x="621.84" y="264.34" width="14.14" height="7.19" fill="#dee9f5"/><rect x="637.28" y="264.34" width="14.14" height="7.19" fill="#dee9f5"/><rect x="652.72" y="264.34" width="14.14" height="7.19" fill="#dee9f5"/><rect x="668.16" y="264.34" width="14.14" height="7.19" fill="#dee9f5"/><rect x="683.60" y="264.34" width="14.14" height="7.19" fill="#dee9f5"/><rect x="699.04" y="264.34" width="14.14" height="7.19" fill="#dee9f5"/><rect x="714.48" y="264.34" width="14.14" height="7.19" fill="#dee9f5"/><rect x="729.92" y="264.34" width="14.14" height="7.19" fill="#dee9f5"/><rect x="745.36" y="264.34" width="14.14" height="7.19" fill="#dee9f5"/><rect x="760.80" y="264.34" width="14.14" height="7.19" fill="#dee9f5"/><rect x="66.00" y="272.62" width="14.14" height="7.19" fill="#1c9c9a"/><rect x="81.44" y="272.62" width="14.14" height="7.19" fill="#1c9c9a"/><rect x="96.88" y="272.62" width="14.14" height="7.19" fill="#1c9c9a"/><rect x="112.32" y="272.62" width="14.14" height="7.19" fill="#1893d2"/><rect x="127.76" y="272.62" width="14.14" height="7.19" fill="#1893d2"/><rect x="143.20" y="272.62" width="14.14" height="7.19" fill="#1c9c9a"/><rect x="158.64" y="272.62" width="14.14" height="7.19" fill="#1893d2"/><rect x="174.08" y="272.62" width="14.14" height="7.19" fill="#1893d2"/><rect x="189.52" y="272.62" width="14.14" height="7.19" fill="#1893d2"/><rect x="204.96" y="272.62" width="14.14" height="7.19" fill="#1c9c9a"/><rect x="220.40" y="272.62" width="14.14" height="7.19" fill="#1c9c9a"/><rect x="235.84" y="272.62" width="14.14" height="7.19" fill="#1c9c9a"/><rect x="251.28" y="272.62" width="14.14" height="7.19" fill="#1c9c9a"/><rect x="266.72" y="272.62" width="14.14" height="7.19" fill="#1c9c9a"/><rect x="282.16" y="272.62" width="14.14" height="7.19" fill="#1893d2"/><rect x="297.60" y="272.62" width="14.14" height="7.19" fill="#1893d2"/><rect x="313.04" y="272.62" width="14.14" height="7.19" fill="#c0d9f1"/><rect x="328.48" y="272.62" width="14.14" height="7.19" fill="#c0d9f1"/><rect x="343.92" y="272.62" width="14.14" height="7.19" fill="#dee9f5"/><rect x="359.36" y="272.62" width="14.14" height="7.19" fill="#dee9f5"/><rect x="374.80" y="272.62" width="14.14" height="7.19" fill="#dee9f5"/><rect x="390.24" y="272.62" width="14.14" height="7.19" fill="#dee9f5"/><rect x="405.68" y="272.62" width="14.14" height="7.19" fill="#dee9f5"/><rect x="421.12" y="272.62" width="14.14" height="7.19" fill="#dee9f5"/><rect x="436.56" y="272.62" width="14.14" height="7.19" fill="#dee9f5"/><rect x="452.00" y="272.62" width="14.14" height="7.19" fill="#dee9f5"/><rect x="467.44" y="272.62" width="14.14" height="7.19" fill="#dee9f5"/><rect x="482.88" y="272.62" width="14.14" height="7.19" fill="#dee9f5"/><rect x="498.32" y="272.62" width="14.14" height="7.19" fill="#dee9f5"/><rect x="513.76" y="272.62" width="14.14" height="7.19" fill="#c0d9f1"/><rect x="529.20" y="272.62" width="14.14" height="7.19" fill="#94c5ec"/><rect x="544.64" y="272.62" width="14.14" height="7.19" fill="#dee9f5"/><rect x="560.08" y="272.62" width="14.14" height="7.19" fill="#dee9f5"/><rect x="575.52" y="272.62" width="14.14" height="7.19" fill="#dee9f5"/><rect x="590.96" y="272.62" width="14.14" height="7.19" fill="#dee9f5"/><rect x="606.40" y="272.62" width="14.14" height="7.19" fill="#dee9f5"/><rect x="621.84" y="272.62" width="14.14" height="7.19" fill="#dee9f5"/><rect x="637.28" y="272.62" width="14.14" height="7.19" fill="#dee9f5"/><rect x="652.72" y="272.62" width="14.14" height="7.19" fill="#dee9f5"/><rect x="668.16" y="272.62" width="14.14" height="7.19" fill="#dee9f5"/><rect x="683.60" y="272.62" width="14.14" height="7.19" fill="#dee9f5"/><rect x="699.04" y="272.62" width="14.14" height="7.19" fill="#dee9f5"/><rect x="714.48" y="272.62" width="14.14" height="7.19" fill="#dee9f5"/><rect x="729.92" y="272.62" width="14.14" height="7.19" fill="#dee9f5"/><rect x="745.36" y="272.62" width="14.14" height="7.19" fill="#dee9f5"/><rect x="760.80" y="272.62" width="14.14" height="7.19" fill="#dee9f5"/><rect x="66.00" y="280.91" width="14.14" height="7.19" fill="#1c9c9a"/><rect x="81.44" y="280.91" width="14.14" height="7.19" fill="#34a55c"/><rect x="96.88" y="280.91" width="14.14" height="7.19" fill="#fbcb2e"/><rect x="112.32" y="280.91" width="14.14" height="7.19" fill="#1c9c9a"/><rect x="127.76" y="280.91" width="14.14" height="7.19" fill="#34a55c"/><rect x="143.20" y="280.91" width="14.14" height="7.19" fill="#e0c434"/><rect x="158.64" y="280.91" width="14.14" height="7.19" fill="#fbcb2e"/><rect x="174.08" y="280.91" width="14.14" height="7.19" fill="#fbcb2e"/><rect x="189.52" y="280.91" width="14.14" height="7.19" fill="#edb232"/><rect x="204.96" y="280.91" width="14.14" height="7.19" fill="#fbcb2e"/><rect x="220.40" y="280.91" width="14.14" height="7.19" fill="#1893d2"/><rect x="235.84" y="280.91" width="14.14" height="7.19" fill="#34a55c"/><rect x="251.28" y="280.91" width="14.14" height="7.19" fill="#fbcb2e"/><rect x="266.72" y="280.91" width="14.14" height="7.19" fill="#34a55c"/><rect x="282.16" y="280.91" width="14.14" height="7.19" fill="#1893d2"/><rect x="297.60" y="280.91" width="14.14" height="7.19" fill="#1893d2"/><rect x="313.04" y="280.91" width="14.14" height="7.19" fill="#c0d9f1"/><rect x="328.48" y="280.91" width="14.14" height="7.19" fill="#c0d9f1"/><rect x="343.92" y="280.91" width="14.14" height="7.19" fill="#1c9c9a"/><rect x="359.36" y="280.91" width="14.14" height="7.19" fill="#1893d2"/><rect x="374.80" y="280.91" width="14.14" height="7.19" fill="#4ba9e2"/><rect x="390.24" y="280.91" width="14.14" height="7.19" fill="#1893d2"/><rect x="405.68" y="280.91" width="14.14" height="7.19" fill="#dee9f5"/><rect x="421.12" y="280.91" width="14.14" height="7.19" fill="#c0d9f1"/><rect x="436.56" y="280.91" width="14.14" height="7.19" fill="#1c9c9a"/><rect x="452.00" y="280.91" width="14.14" height="7.19" fill="#4ba9e2"/><rect x="467.44" y="280.91" width="14.14" height="7.19" fill="#1893d2"/><rect x="482.88" y="280.91" width="14.14" height="7.19" fill="#dee9f5"/><rect x="498.32" y="280.91" width="14.14" height="7.19" fill="#dee9f5"/><rect x="513.76" y="280.91" width="14.14" height="7.19" fill="#1c9c9a"/><rect x="529.20" y="280.91" width="14.14" height="7.19" fill="#1893d2"/><rect x="544.64" y="280.91" width="14.14" height="7.19" fill="#c0d9f1"/><rect x="560.08" y="280.91" width="14.14" height="7.19" fill="#94c5ec"/><rect x="575.52" y="280.91" width="14.14" height="7.19" fill="#dee9f5"/><rect x="590.96" y="280.91" width="14.14" height="7.19" fill="#dee9f5"/><rect x="606.40" y="280.91" width="14.14" height="7.19" fill="#dee9f5"/><rect x="621.84" y="280.91" width="14.14" height="7.19" fill="#dee9f5"/><rect x="637.28" y="280.91" width="14.14" height="7.19" fill="#dee9f5"/><rect x="652.72" y="280.91" width="14.14" height="7.19" fill="#dee9f5"/><rect x="668.16" y="280.91" width="14.14" height="7.19" fill="#dee9f5"/><rect x="683.60" y="280.91" width="14.14" height="7.19" fill="#dee9f5"/><rect x="699.04" y="280.91" width="14.14" height="7.19" fill="#dee9f5"/><rect x="714.48" y="280.91" width="14.14" height="7.19" fill="#dee9f5"/><rect x="729.92" y="280.91" width="14.14" height="7.19" fill="#dee9f5"/><rect x="745.36" y="280.91" width="14.14" height="7.19" fill="#dee9f5"/><rect x="760.80" y="280.91" width="14.14" height="7.19" fill="#dee9f5"/><rect x="66.00" y="289.19" width="14.14" height="7.19" fill="#4ba9e2"/><rect x="81.44" y="289.19" width="14.14" height="7.19" fill="#94c5ec"/><rect x="96.88" y="289.19" width="14.14" height="7.19" fill="#4ba9e2"/><rect x="112.32" y="289.19" width="14.14" height="7.19" fill="#1c9c9a"/><rect x="127.76" y="289.19" width="14.14" height="7.19" fill="#1c9c9a"/><rect x="143.20" y="289.19" width="14.14" height="7.19" fill="#34a55c"/><rect x="158.64" y="289.19" width="14.14" height="7.19" fill="#9bbd3c"/><rect x="174.08" y="289.19" width="14.14" height="7.19" fill="#34a55c"/><rect x="189.52" y="289.19" width="14.14" height="7.19" fill="#1c9c9a"/><rect x="204.96" y="289.19" width="14.14" height="7.19" fill="#1893d2"/><rect x="220.40" y="289.19" width="14.14" height="7.19" fill="#1893d2"/><rect x="235.84" y="289.19" width="14.14" height="7.19" fill="#4ba9e2"/><rect x="251.28" y="289.19" width="14.14" height="7.19" fill="#94c5ec"/><rect x="266.72" y="289.19" width="14.14" height="7.19" fill="#4ba9e2"/><rect x="282.16" y="289.19" width="14.14" height="7.19" fill="#c0d9f1"/><rect x="297.60" y="289.19" width="14.14" height="7.19" fill="#c0d9f1"/><rect x="313.04" y="289.19" width="14.14" height="7.19" fill="#dee9f5"/><rect x="328.48" y="289.19" width="14.14" height="7.19" fill="#dee9f5"/><rect x="343.92" y="289.19" width="14.14" height="7.19" fill="#dee9f5"/><rect x="359.36" y="289.19" width="14.14" height="7.19" fill="#dee9f5"/><rect x="374.80" y="289.19" width="14.14" height="7.19" fill="#dee9f5"/><rect x="390.24" y="289.19" width="14.14" height="7.19" fill="#dee9f5"/><rect x="405.68" y="289.19" width="14.14" height="7.19" fill="#dee9f5"/><rect x="421.12" y="289.19" width="14.14" height="7.19" fill="#dee9f5"/><rect x="436.56" y="289.19" width="14.14" height="7.19" fill="#4ba9e2"/><rect x="452.00" y="289.19" width="14.14" height="7.19" fill="#dee9f5"/><rect x="467.44" y="289.19" width="14.14" height="7.19" fill="#dee9f5"/><rect x="482.88" y="289.19" width="14.14" height="7.19" fill="#dee9f5"/><rect x="498.32" y="289.19" width="14.14" height="7.19" fill="#dee9f5"/><rect x="513.76" y="289.19" width="14.14" height="7.19" fill="#dee9f5"/><rect x="529.20" y="289.19" width="14.14" height="7.19" fill="#dee9f5"/><rect x="544.64" y="289.19" width="14.14" height="7.19" fill="#dee9f5"/><rect x="560.08" y="289.19" width="14.14" height="7.19" fill="#dee9f5"/><rect x="575.52" y="289.19" width="14.14" height="7.19" fill="#dee9f5"/><rect x="590.96" y="289.19" width="14.14" height="7.19" fill="#dee9f5"/><rect x="606.40" y="289.19" width="14.14" height="7.19" fill="#c0d9f1"/><rect x="621.84" y="289.19" width="14.14" height="7.19" fill="#c0d9f1"/><rect x="637.28" y="289.19" width="14.14" height="7.19" fill="#dee9f5"/><rect x="652.72" y="289.19" width="14.14" height="7.19" fill="#dee9f5"/><rect x="668.16" y="289.19" width="14.14" height="7.19" fill="#dee9f5"/><rect x="683.60" y="289.19" width="14.14" height="7.19" fill="#dee9f5"/><rect x="699.04" y="289.19" width="14.14" height="7.19" fill="#dee9f5"/><rect x="714.48" y="289.19" width="14.14" height="7.19" fill="#dee9f5"/><rect x="729.92" y="289.19" width="14.14" height="7.19" fill="#dee9f5"/><rect x="745.36" y="289.19" width="14.14" height="7.19" fill="#dee9f5"/><rect x="760.80" y="289.19" width="14.14" height="7.19" fill="#dee9f5"/><rect x="66.00" y="297.48" width="14.14" height="7.19" fill="#94c5ec"/><rect x="81.44" y="297.48" width="14.14" height="7.19" fill="#1893d2"/><rect x="96.88" y="297.48" width="14.14" height="7.19" fill="#1893d2"/><rect x="112.32" y="297.48" width="14.14" height="7.19" fill="#94c5ec"/><rect x="127.76" y="297.48" width="14.14" height="7.19" fill="#1893d2"/><rect x="143.20" y="297.48" width="14.14" height="7.19" fill="#34a55c"/><rect x="158.64" y="297.48" width="14.14" height="7.19" fill="#1893d2"/><rect x="174.08" y="297.48" width="14.14" height="7.19" fill="#c0d9f1"/><rect x="189.52" y="297.48" width="14.14" height="7.19" fill="#c0d9f1"/><rect x="204.96" y="297.48" width="14.14" height="7.19" fill="#1c9c9a"/><rect x="220.40" y="297.48" width="14.14" height="7.19" fill="#34a55c"/><rect x="235.84" y="297.48" width="14.14" height="7.19" fill="#1893d2"/><rect x="251.28" y="297.48" width="14.14" height="7.19" fill="#1893d2"/><rect x="266.72" y="297.48" width="14.14" height="7.19" fill="#dee9f5"/><rect x="282.16" y="297.48" width="14.14" height="7.19" fill="#eef3fa"/><rect x="297.60" y="297.48" width="14.14" height="7.19" fill="#dee9f5"/><rect x="313.04" y="297.48" width="14.14" height="7.19" fill="#eef3fa"/><rect x="328.48" y="297.48" width="14.14" height="7.19" fill="#eef3fa"/><rect x="343.92" y="297.48" width="14.14" height="7.19" fill="#eef3fa"/><rect x="359.36" y="297.48" width="14.14" height="7.19" fill="#dee9f5"/><rect x="374.80" y="297.48" width="14.14" height="7.19" fill="#dee9f5"/><rect x="390.24" y="297.48" width="14.14" height="7.19" fill="#eef3fa"/><rect x="405.68" y="297.48" width="14.14" height="7.19" fill="#dee9f5"/><rect x="421.12" y="297.48" width="14.14" height="7.19" fill="#dee9f5"/><rect x="436.56" y="297.48" width="14.14" height="7.19" fill="#dee9f5"/><rect x="452.00" y="297.48" width="14.14" height="7.19" fill="#4ba9e2"/><rect x="467.44" y="297.48" width="14.14" height="7.19" fill="#1c9c9a"/><rect x="482.88" y="297.48" width="14.14" height="7.19" fill="#4ba9e2"/><rect x="498.32" y="297.48" width="14.14" height="7.19" fill="#dee9f5"/><rect x="513.76" y="297.48" width="14.14" height="7.19" fill="#c0d9f1"/><rect x="529.20" y="297.48" width="14.14" height="7.19" fill="#34a55c"/><rect x="544.64" y="297.48" width="14.14" height="7.19" fill="#dee9f5"/><rect x="560.08" y="297.48" width="14.14" height="7.19" fill="#dee9f5"/><rect x="575.52" y="297.48" width="14.14" height="7.19" fill="#dee9f5"/><rect x="590.96" y="297.48" width="14.14" height="7.19" fill="#dee9f5"/><rect x="606.40" y="297.48" width="14.14" height="7.19" fill="#eef3fa"/><rect x="621.84" y="297.48" width="14.14" height="7.19" fill="#eef3fa"/><rect x="637.28" y="297.48" width="14.14" height="7.19" fill="#eef3fa"/><rect x="652.72" y="297.48" width="14.14" height="7.19" fill="#eef3fa"/><rect x="668.16" y="297.48" width="14.14" height="7.19" fill="#eef3fa"/><rect x="683.60" y="297.48" width="14.14" height="7.19" fill="#eef3fa"/><rect x="699.04" y="297.48" width="14.14" height="7.19" fill="#eef3fa"/><rect x="714.48" y="297.48" width="14.14" height="7.19" fill="#eef3fa"/><rect x="729.92" y="297.48" width="14.14" height="7.19" fill="#eef3fa"/><rect x="745.36" y="297.48" width="14.14" height="7.19" fill="#eef3fa"/><rect x="760.80" y="297.48" width="14.14" height="7.19" fill="#eef3fa"/><rect x="66.00" y="305.76" width="14.14" height="7.19" fill="#c0d9f1"/><rect x="81.44" y="305.76" width="14.14" height="7.19" fill="#c0d9f1"/><rect x="96.88" y="305.76" width="14.14" height="7.19" fill="#c0d9f1"/><rect x="112.32" y="305.76" width="14.14" height="7.19" fill="#1893d2"/><rect x="127.76" y="305.76" width="14.14" height="7.19" fill="#1893d2"/><rect x="143.20" y="305.76" width="14.14" height="7.19" fill="#1893d2"/><rect x="158.64" y="305.76" width="14.14" height="7.19" fill="#c0d9f1"/><rect x="174.08" y="305.76" width="14.14" height="7.19" fill="#c0d9f1"/><rect x="189.52" y="305.76" width="14.14" height="7.19" fill="#c0d9f1"/><rect x="204.96" y="305.76" width="14.14" height="7.19" fill="#94c5ec"/><rect x="220.40" y="305.76" width="14.14" height="7.19" fill="#c0d9f1"/><rect x="235.84" y="305.76" width="14.14" height="7.19" fill="#1893d2"/><rect x="251.28" y="305.76" width="14.14" height="7.19" fill="#4ba9e2"/><rect x="266.72" y="305.76" width="14.14" height="7.19" fill="#94c5ec"/><rect x="282.16" y="305.76" width="14.14" height="7.19" fill="#dee9f5"/><rect x="297.60" y="305.76" width="14.14" height="7.19" fill="#dee9f5"/><rect x="313.04" y="305.76" width="14.14" height="7.19" fill="#dee9f5"/><rect x="328.48" y="305.76" width="14.14" height="7.19" fill="#c0d9f1"/><rect x="343.92" y="305.76" width="14.14" height="7.19" fill="#dee9f5"/><rect x="359.36" y="305.76" width="14.14" height="7.19" fill="#c0d9f1"/><rect x="374.80" y="305.76" width="14.14" height="7.19" fill="#dee9f5"/><rect x="390.24" y="305.76" width="14.14" height="7.19" fill="#4ba9e2"/><rect x="405.68" y="305.76" width="14.14" height="7.19" fill="#dee9f5"/><rect x="421.12" y="305.76" width="14.14" height="7.19" fill="#c0d9f1"/><rect x="436.56" y="305.76" width="14.14" height="7.19" fill="#c0d9f1"/><rect x="452.00" y="305.76" width="14.14" height="7.19" fill="#1893d2"/><rect x="467.44" y="305.76" width="14.14" height="7.19" fill="#1c9c9a"/><rect x="482.88" y="305.76" width="14.14" height="7.19" fill="#c0d9f1"/><rect x="498.32" y="305.76" width="14.14" height="7.19" fill="#94c5ec"/><rect x="513.76" y="305.76" width="14.14" height="7.19" fill="#c0d9f1"/><rect x="529.20" y="305.76" width="14.14" height="7.19" fill="#1893d2"/><rect x="544.64" y="305.76" width="14.14" height="7.19" fill="#c0d9f1"/><rect x="560.08" y="305.76" width="14.14" height="7.19" fill="#dee9f5"/><rect x="575.52" y="305.76" width="14.14" height="7.19" fill="#dee9f5"/><rect x="590.96" y="305.76" width="14.14" height="7.19" fill="#dee9f5"/><rect x="606.40" y="305.76" width="14.14" height="7.19" fill="#dee9f5"/><rect x="621.84" y="305.76" width="14.14" height="7.19" fill="#dee9f5"/><rect x="637.28" y="305.76" width="14.14" height="7.19" fill="#dee9f5"/><rect x="652.72" y="305.76" width="14.14" height="7.19" fill="#dee9f5"/><rect x="668.16" y="305.76" width="14.14" height="7.19" fill="#dee9f5"/><rect x="683.60" y="305.76" width="14.14" height="7.19" fill="#dee9f5"/><rect x="699.04" y="305.76" width="14.14" height="7.19" fill="#dee9f5"/><rect x="714.48" y="305.76" width="14.14" height="7.19" fill="#dee9f5"/><rect x="729.92" y="305.76" width="14.14" height="7.19" fill="#dee9f5"/><rect x="745.36" y="305.76" width="14.14" height="7.19" fill="#dee9f5"/><rect x="760.80" y="305.76" width="14.14" height="7.19" fill="#dee9f5"/><rect x="66.00" y="314.05" width="14.14" height="7.19" fill="#1893d2"/><rect x="81.44" y="314.05" width="14.14" height="7.19" fill="#94c5ec"/><rect x="96.88" y="314.05" width="14.14" height="7.19" fill="#94c5ec"/><rect x="112.32" y="314.05" width="14.14" height="7.19" fill="#34a55c"/><rect x="127.76" y="314.05" width="14.14" height="7.19" fill="#34a55c"/><rect x="143.20" y="314.05" width="14.14" height="7.19" fill="#fbcb2e"/><rect x="158.64" y="314.05" width="14.14" height="7.19" fill="#fbcb2e"/><rect x="174.08" y="314.05" width="14.14" height="7.19" fill="#9bbd3c"/><rect x="189.52" y="314.05" width="14.14" height="7.19" fill="#1c9c9a"/><rect x="204.96" y="314.05" width="14.14" height="7.19" fill="#1893d2"/><rect x="220.40" y="314.05" width="14.14" height="7.19" fill="#4ba9e2"/><rect x="235.84" y="314.05" width="14.14" height="7.19" fill="#c0d9f1"/><rect x="251.28" y="314.05" width="14.14" height="7.19" fill="#94c5ec"/><rect x="266.72" y="314.05" width="14.14" height="7.19" fill="#c0d9f1"/><rect x="282.16" y="314.05" width="14.14" height="7.19" fill="#dee9f5"/><rect x="297.60" y="314.05" width="14.14" height="7.19" fill="#c0d9f1"/><rect x="313.04" y="314.05" width="14.14" height="7.19" fill="#c0d9f1"/><rect x="328.48" y="314.05" width="14.14" height="7.19" fill="#c0d9f1"/><rect x="343.92" y="314.05" width="14.14" height="7.19" fill="#c0d9f1"/><rect x="359.36" y="314.05" width="14.14" height="7.19" fill="#dee9f5"/><rect x="374.80" y="314.05" width="14.14" height="7.19" fill="#dee9f5"/><rect x="390.24" y="314.05" width="14.14" height="7.19" fill="#dee9f5"/><rect x="405.68" y="314.05" width="14.14" height="7.19" fill="#dee9f5"/><rect x="421.12" y="314.05" width="14.14" height="7.19" fill="#dee9f5"/><rect x="436.56" y="314.05" width="14.14" height="7.19" fill="#dee9f5"/><rect x="452.00" y="314.05" width="14.14" height="7.19" fill="#dee9f5"/><rect x="467.44" y="314.05" width="14.14" height="7.19" fill="#dee9f5"/><rect x="482.88" y="314.05" width="14.14" height="7.19" fill="#dee9f5"/><rect x="498.32" y="314.05" width="14.14" height="7.19" fill="#dee9f5"/><rect x="513.76" y="314.05" width="14.14" height="7.19" fill="#dee9f5"/><rect x="529.20" y="314.05" width="14.14" height="7.19" fill="#dee9f5"/><rect x="544.64" y="314.05" width="14.14" height="7.19" fill="#dee9f5"/><rect x="560.08" y="314.05" width="14.14" height="7.19" fill="#dee9f5"/><rect x="575.52" y="314.05" width="14.14" height="7.19" fill="#dee9f5"/><rect x="590.96" y="314.05" width="14.14" height="7.19" fill="#dee9f5"/><rect x="606.40" y="314.05" width="14.14" height="7.19" fill="#dee9f5"/><rect x="621.84" y="314.05" width="14.14" height="7.19" fill="#dee9f5"/><rect x="637.28" y="314.05" width="14.14" height="7.19" fill="#dee9f5"/><rect x="652.72" y="314.05" width="14.14" height="7.19" fill="#dee9f5"/><rect x="668.16" y="314.05" width="14.14" height="7.19" fill="#94c5ec"/><rect x="683.60" y="314.05" width="14.14" height="7.19" fill="#c0d9f1"/><rect x="699.04" y="314.05" width="14.14" height="7.19" fill="#dee9f5"/><rect x="714.48" y="314.05" width="14.14" height="7.19" fill="#dee9f5"/><rect x="729.92" y="314.05" width="14.14" height="7.19" fill="#dee9f5"/><rect x="745.36" y="314.05" width="14.14" height="7.19" fill="#dee9f5"/><rect x="760.80" y="314.05" width="14.14" height="7.19" fill="#eef3fa"/><rect x="66.00" y="322.33" width="14.14" height="7.19" fill="#1c9c9a"/><rect x="81.44" y="322.33" width="14.14" height="7.19" fill="#34a55c"/><rect x="96.88" y="322.33" width="14.14" height="7.19" fill="#34a55c"/><rect x="112.32" y="322.33" width="14.14" height="7.19" fill="#34a55c"/><rect x="127.76" y="322.33" width="14.14" height="7.19" fill="#fbcb2e"/><rect x="143.20" y="322.33" width="14.14" height="7.19" fill="#edb232"/><rect x="158.64" y="322.33" width="14.14" height="7.19" fill="#fbcb2e"/><rect x="174.08" y="322.33" width="14.14" height="7.19" fill="#34a55c"/><rect x="189.52" y="322.33" width="14.14" height="7.19" fill="#1893d2"/><rect x="204.96" y="322.33" width="14.14" height="7.19" fill="#1893d2"/><rect x="220.40" y="322.33" width="14.14" height="7.19" fill="#1c9c9a"/><rect x="235.84" y="322.33" width="14.14" height="7.19" fill="#1893d2"/><rect x="251.28" y="322.33" width="14.14" height="7.19" fill="#1893d2"/><rect x="266.72" y="322.33" width="14.14" height="7.19" fill="#1893d2"/><rect x="282.16" y="322.33" width="14.14" height="7.19" fill="#94c5ec"/><rect x="297.60" y="322.33" width="14.14" height="7.19" fill="#1893d2"/><rect x="313.04" y="322.33" width="14.14" height="7.19" fill="#1893d2"/><rect x="328.48" y="322.33" width="14.14" height="7.19" fill="#4ba9e2"/><rect x="343.92" y="322.33" width="14.14" height="7.19" fill="#4ba9e2"/><rect x="359.36" y="322.33" width="14.14" height="7.19" fill="#c0d9f1"/><rect x="374.80" y="322.33" width="14.14" height="7.19" fill="#dee9f5"/><rect x="390.24" y="322.33" width="14.14" height="7.19" fill="#dee9f5"/><rect x="405.68" y="322.33" width="14.14" height="7.19" fill="#dee9f5"/><rect x="421.12" y="322.33" width="14.14" height="7.19" fill="#c0d9f1"/><rect x="436.56" y="322.33" width="14.14" height="7.19" fill="#c0d9f1"/><rect x="452.00" y="322.33" width="14.14" height="7.19" fill="#c0d9f1"/><rect x="467.44" y="322.33" width="14.14" height="7.19" fill="#dee9f5"/><rect x="482.88" y="322.33" width="14.14" height="7.19" fill="#dee9f5"/><rect x="498.32" y="322.33" width="14.14" height="7.19" fill="#dee9f5"/><rect x="513.76" y="322.33" width="14.14" height="7.19" fill="#dee9f5"/><rect x="529.20" y="322.33" width="14.14" height="7.19" fill="#c0d9f1"/><rect x="544.64" y="322.33" width="14.14" height="7.19" fill="#dee9f5"/><rect x="560.08" y="322.33" width="14.14" height="7.19" fill="#c0d9f1"/><rect x="575.52" y="322.33" width="14.14" height="7.19" fill="#dee9f5"/><rect x="590.96" y="322.33" width="14.14" height="7.19" fill="#dee9f5"/><rect x="606.40" y="322.33" width="14.14" height="7.19" fill="#dee9f5"/><rect x="621.84" y="322.33" width="14.14" height="7.19" fill="#dee9f5"/><rect x="637.28" y="322.33" width="14.14" height="7.19" fill="#dee9f5"/><rect x="652.72" y="322.33" width="14.14" height="7.19" fill="#dee9f5"/><rect x="668.16" y="322.33" width="14.14" height="7.19" fill="#dee9f5"/><rect x="683.60" y="322.33" width="14.14" height="7.19" fill="#dee9f5"/><rect x="699.04" y="322.33" width="14.14" height="7.19" fill="#dee9f5"/><rect x="714.48" y="322.33" width="14.14" height="7.19" fill="#dee9f5"/><rect x="729.92" y="322.33" width="14.14" height="7.19" fill="#dee9f5"/><rect x="745.36" y="322.33" width="14.14" height="7.19" fill="#dee9f5"/><rect x="760.80" y="322.33" width="14.14" height="7.19" fill="#dee9f5"/><rect x="66.00" y="330.62" width="14.14" height="7.19" fill="#edb232"/><rect x="81.44" y="330.62" width="14.14" height="7.19" fill="#edb232"/><rect x="96.88" y="330.62" width="14.14" height="7.19" fill="#9bbd3c"/><rect x="112.32" y="330.62" width="14.14" height="7.19" fill="#34a55c"/><rect x="127.76" y="330.62" width="14.14" height="7.19" fill="#fbcb2e"/><rect x="143.20" y="330.62" width="14.14" height="7.19" fill="#fbcb2e"/><rect x="158.64" y="330.62" width="14.14" height="7.19" fill="#fbcb2e"/><rect x="174.08" y="330.62" width="14.14" height="7.19" fill="#edb232"/><rect x="189.52" y="330.62" width="14.14" height="7.19" fill="#e99c2b"/><rect x="204.96" y="330.62" width="14.14" height="7.19" fill="#fbcb2e"/><rect x="220.40" y="330.62" width="14.14" height="7.19" fill="#fbcb2e"/><rect x="235.84" y="330.62" width="14.14" height="7.19" fill="#edb232"/><rect x="251.28" y="330.62" width="14.14" height="7.19" fill="#fbcb2e"/><rect x="266.72" y="330.62" width="14.14" height="7.19" fill="#edb232"/><rect x="282.16" y="330.62" width="14.14" height="7.19" fill="#c0d9f1"/><rect x="297.60" y="330.62" width="14.14" height="7.19" fill="#1c9c9a"/><rect x="313.04" y="330.62" width="14.14" height="7.19" fill="#34a55c"/><rect x="328.48" y="330.62" width="14.14" height="7.19" fill="#1c9c9a"/><rect x="343.92" y="330.62" width="14.14" height="7.19" fill="#1c9c9a"/><rect x="359.36" y="330.62" width="14.14" height="7.19" fill="#34a55c"/><rect x="374.80" y="330.62" width="14.14" height="7.19" fill="#34a55c"/><rect x="390.24" y="330.62" width="14.14" height="7.19" fill="#34a55c"/><rect x="405.68" y="330.62" width="14.14" height="7.19" fill="#1c9c9a"/><rect x="421.12" y="330.62" width="14.14" height="7.19" fill="#fbcb2e"/><rect x="436.56" y="330.62" width="14.14" height="7.19" fill="#fbcb2e"/><rect x="452.00" y="330.62" width="14.14" height="7.19" fill="#fbcb2e"/><rect x="467.44" y="330.62" width="14.14" height="7.19" fill="#1c9c9a"/><rect x="482.88" y="330.62" width="14.14" height="7.19" fill="#1c9c9a"/><rect x="498.32" y="330.62" width="14.14" height="7.19" fill="#fbcb2e"/><rect x="513.76" y="330.62" width="14.14" height="7.19" fill="#fbcb2e"/><rect x="529.20" y="330.62" width="14.14" height="7.19" fill="#1c9c9a"/><rect x="544.64" y="330.62" width="14.14" height="7.19" fill="#1893d2"/><rect x="560.08" y="330.62" width="14.14" height="7.19" fill="#c0d9f1"/><rect x="575.52" y="330.62" width="14.14" height="7.19" fill="#dee9f5"/><rect x="590.96" y="330.62" width="14.14" height="7.19" fill="#dee9f5"/><rect x="606.40" y="330.62" width="14.14" height="7.19" fill="#dee9f5"/><rect x="621.84" y="330.62" width="14.14" height="7.19" fill="#dee9f5"/><rect x="637.28" y="330.62" width="14.14" height="7.19" fill="#dee9f5"/><rect x="652.72" y="330.62" width="14.14" height="7.19" fill="#dee9f5"/><rect x="668.16" y="330.62" width="14.14" height="7.19" fill="#dee9f5"/><rect x="683.60" y="330.62" width="14.14" height="7.19" fill="#dee9f5"/><rect x="699.04" y="330.62" width="14.14" height="7.19" fill="#dee9f5"/><rect x="714.48" y="330.62" width="14.14" height="7.19" fill="#dee9f5"/><rect x="729.92" y="330.62" width="14.14" height="7.19" fill="#dee9f5"/><rect x="745.36" y="330.62" width="14.14" height="7.19" fill="#dee9f5"/><rect x="760.80" y="330.62" width="14.14" height="7.19" fill="#dee9f5"/><rect x="66.00" y="338.91" width="14.14" height="7.19" fill="#c0d9f1"/><rect x="81.44" y="338.91" width="14.14" height="7.19" fill="#c0d9f1"/><rect x="96.88" y="338.91" width="14.14" height="7.19" fill="#1893d2"/><rect x="112.32" y="338.91" width="14.14" height="7.19" fill="#34a55c"/><rect x="127.76" y="338.91" width="14.14" height="7.19" fill="#34a55c"/><rect x="143.20" y="338.91" width="14.14" height="7.19" fill="#1c9c9a"/><rect x="158.64" y="338.91" width="14.14" height="7.19" fill="#34a55c"/><rect x="174.08" y="338.91" width="14.14" height="7.19" fill="#1c9c9a"/><rect x="189.52" y="338.91" width="14.14" height="7.19" fill="#fbcb2e"/><rect x="204.96" y="338.91" width="14.14" height="7.19" fill="#34a55c"/><rect x="220.40" y="338.91" width="14.14" height="7.19" fill="#1c9c9a"/><rect x="235.84" y="338.91" width="14.14" height="7.19" fill="#dee9f5"/><rect x="251.28" y="338.91" width="14.14" height="7.19" fill="#1893d2"/><rect x="266.72" y="338.91" width="14.14" height="7.19" fill="#fbcb2e"/><rect x="282.16" y="338.91" width="14.14" height="7.19" fill="#fbcb2e"/><rect x="297.60" y="338.91" width="14.14" height="7.19" fill="#34a55c"/><rect x="313.04" y="338.91" width="14.14" height="7.19" fill="#1c9c9a"/><rect x="328.48" y="338.91" width="14.14" height="7.19" fill="#1c9c9a"/><rect x="343.92" y="338.91" width="14.14" height="7.19" fill="#fbcb2e"/><rect x="359.36" y="338.91" width="14.14" height="7.19" fill="#edb232"/><rect x="374.80" y="338.91" width="14.14" height="7.19" fill="#1c9c9a"/><rect x="390.24" y="338.91" width="14.14" height="7.19" fill="#1893d2"/><rect x="405.68" y="338.91" width="14.14" height="7.19" fill="#4ba9e2"/><rect x="421.12" y="338.91" width="14.14" height="7.19" fill="#1c9c9a"/><rect x="436.56" y="338.91" width="14.14" height="7.19" fill="#34a55c"/><rect x="452.00" y="338.91" width="14.14" height="7.19" fill="#1c9c9a"/><rect x="467.44" y="338.91" width="14.14" height="7.19" fill="#c0d9f1"/><rect x="482.88" y="338.91" width="14.14" height="7.19" fill="#4ba9e2"/><rect x="498.32" y="338.91" width="14.14" height="7.19" fill="#1893d2"/><rect x="513.76" y="338.91" width="14.14" height="7.19" fill="#1c9c9a"/><rect x="529.20" y="338.91" width="14.14" height="7.19" fill="#34a55c"/><rect x="544.64" y="338.91" width="14.14" height="7.19" fill="#1c9c9a"/><rect x="560.08" y="338.91" width="14.14" height="7.19" fill="#4ba9e2"/><rect x="575.52" y="338.91" width="14.14" height="7.19" fill="#dee9f5"/><rect x="590.96" y="338.91" width="14.14" height="7.19" fill="#dee9f5"/><rect x="606.40" y="338.91" width="14.14" height="7.19" fill="#dee9f5"/><rect x="621.84" y="338.91" width="14.14" height="7.19" fill="#dee9f5"/><rect x="637.28" y="338.91" width="14.14" height="7.19" fill="#dee9f5"/><rect x="652.72" y="338.91" width="14.14" height="7.19" fill="#dee9f5"/><rect x="668.16" y="338.91" width="14.14" height="7.19" fill="#dee9f5"/><rect x="683.60" y="338.91" width="14.14" height="7.19" fill="#dee9f5"/><rect x="699.04" y="338.91" width="14.14" height="7.19" fill="#dee9f5"/><rect x="714.48" y="338.91" width="14.14" height="7.19" fill="#dee9f5"/><rect x="729.92" y="338.91" width="14.14" height="7.19" fill="#dee9f5"/><rect x="745.36" y="338.91" width="14.14" height="7.19" fill="#dee9f5"/><rect x="760.80" y="338.91" width="14.14" height="7.19" fill="#dee9f5"/><rect x="66.00" y="347.19" width="14.14" height="7.19" fill="#1c9c9a"/><rect x="81.44" y="347.19" width="14.14" height="7.19" fill="#34a55c"/><rect x="96.88" y="347.19" width="14.14" height="7.19" fill="#34a55c"/><rect x="112.32" y="347.19" width="14.14" height="7.19" fill="#34a55c"/><rect x="127.76" y="347.19" width="14.14" height="7.19" fill="#34a55c"/><rect x="143.20" y="347.19" width="14.14" height="7.19" fill="#34a55c"/><rect x="158.64" y="347.19" width="14.14" height="7.19" fill="#1c9c9a"/><rect x="174.08" y="347.19" width="14.14" height="7.19" fill="#1c9c9a"/><rect x="189.52" y="347.19" width="14.14" height="7.19" fill="#1893d2"/><rect x="204.96" y="347.19" width="14.14" height="7.19" fill="#1893d2"/><rect x="220.40" y="347.19" width="14.14" height="7.19" fill="#1893d2"/><rect x="235.84" y="347.19" width="14.14" height="7.19" fill="#94c5ec"/><rect x="251.28" y="347.19" width="14.14" height="7.19" fill="#94c5ec"/><rect x="266.72" y="347.19" width="14.14" height="7.19" fill="#94c5ec"/><rect x="282.16" y="347.19" width="14.14" height="7.19" fill="#c0d9f1"/><rect x="297.60" y="347.19" width="14.14" height="7.19" fill="#94c5ec"/><rect x="313.04" y="347.19" width="14.14" height="7.19" fill="#94c5ec"/><rect x="328.48" y="347.19" width="14.14" height="7.19" fill="#94c5ec"/><rect x="343.92" y="347.19" width="14.14" height="7.19" fill="#1893d2"/><rect x="359.36" y="347.19" width="14.14" height="7.19" fill="#dee9f5"/><rect x="374.80" y="347.19" width="14.14" height="7.19" fill="#dee9f5"/><rect x="390.24" y="347.19" width="14.14" height="7.19" fill="#c0d9f1"/><rect x="405.68" y="347.19" width="14.14" height="7.19" fill="#dee9f5"/><rect x="421.12" y="347.19" width="14.14" height="7.19" fill="#94c5ec"/><rect x="436.56" y="347.19" width="14.14" height="7.19" fill="#4ba9e2"/><rect x="452.00" y="347.19" width="14.14" height="7.19" fill="#94c5ec"/><rect x="467.44" y="347.19" width="14.14" height="7.19" fill="#dee9f5"/><rect x="482.88" y="347.19" width="14.14" height="7.19" fill="#dee9f5"/><rect x="498.32" y="347.19" width="14.14" height="7.19" fill="#dee9f5"/><rect x="513.76" y="347.19" width="14.14" height="7.19" fill="#94c5ec"/><rect x="529.20" y="347.19" width="14.14" height="7.19" fill="#c0d9f1"/><rect x="544.64" y="347.19" width="14.14" height="7.19" fill="#dee9f5"/><rect x="560.08" y="347.19" width="14.14" height="7.19" fill="#dee9f5"/><rect x="575.52" y="347.19" width="14.14" height="7.19" fill="#dee9f5"/><rect x="590.96" y="347.19" width="14.14" height="7.19" fill="#dee9f5"/><rect x="606.40" y="347.19" width="14.14" height="7.19" fill="#dee9f5"/><rect x="621.84" y="347.19" width="14.14" height="7.19" fill="#c0d9f1"/><rect x="637.28" y="347.19" width="14.14" height="7.19" fill="#c0d9f1"/><rect x="652.72" y="347.19" width="14.14" height="7.19" fill="#dee9f5"/><rect x="668.16" y="347.19" width="14.14" height="7.19" fill="#dee9f5"/><rect x="683.60" y="347.19" width="14.14" height="7.19" fill="#dee9f5"/><rect x="699.04" y="347.19" width="14.14" height="7.19" fill="#dee9f5"/><rect x="714.48" y="347.19" width="14.14" height="7.19" fill="#dee9f5"/><rect x="729.92" y="347.19" width="14.14" height="7.19" fill="#dee9f5"/><rect x="745.36" y="347.19" width="14.14" height="7.19" fill="#1c9c9a"/><rect x="760.80" y="347.19" width="14.14" height="7.19" fill="#dee9f5"/><rect x="66.00" y="355.48" width="14.14" height="7.19" fill="#1c9c9a"/><rect x="81.44" y="355.48" width="14.14" height="7.19" fill="#1c9c9a"/><rect x="96.88" y="355.48" width="14.14" height="7.19" fill="#34a55c"/><rect x="112.32" y="355.48" width="14.14" height="7.19" fill="#34a55c"/><rect x="127.76" y="355.48" width="14.14" height="7.19" fill="#34a55c"/><rect x="143.20" y="355.48" width="14.14" height="7.19" fill="#1c9c9a"/><rect x="158.64" y="355.48" width="14.14" height="7.19" fill="#1c9c9a"/><rect x="174.08" y="355.48" width="14.14" height="7.19" fill="#1c9c9a"/><rect x="189.52" y="355.48" width="14.14" height="7.19" fill="#1893d2"/><rect x="204.96" y="355.48" width="14.14" height="7.19" fill="#1c9c9a"/><rect x="220.40" y="355.48" width="14.14" height="7.19" fill="#1893d2"/><rect x="235.84" y="355.48" width="14.14" height="7.19" fill="#1c9c9a"/><rect x="251.28" y="355.48" width="14.14" height="7.19" fill="#1893d2"/><rect x="266.72" y="355.48" width="14.14" height="7.19" fill="#1893d2"/><rect x="282.16" y="355.48" width="14.14" height="7.19" fill="#c0d9f1"/><rect x="297.60" y="355.48" width="14.14" height="7.19" fill="#c0d9f1"/><rect x="313.04" y="355.48" width="14.14" height="7.19" fill="#4ba9e2"/><rect x="328.48" y="355.48" width="14.14" height="7.19" fill="#4ba9e2"/><rect x="343.92" y="355.48" width="14.14" height="7.19" fill="#c0d9f1"/><rect x="359.36" y="355.48" width="14.14" height="7.19" fill="#dee9f5"/><rect x="374.80" y="355.48" width="14.14" height="7.19" fill="#dee9f5"/><rect x="390.24" y="355.48" width="14.14" height="7.19" fill="#dee9f5"/><rect x="405.68" y="355.48" width="14.14" height="7.19" fill="#dee9f5"/><rect x="421.12" y="355.48" width="14.14" height="7.19" fill="#dee9f5"/><rect x="436.56" y="355.48" width="14.14" height="7.19" fill="#dee9f5"/><rect x="452.00" y="355.48" width="14.14" height="7.19" fill="#dee9f5"/><rect x="467.44" y="355.48" width="14.14" height="7.19" fill="#dee9f5"/><rect x="482.88" y="355.48" width="14.14" height="7.19" fill="#dee9f5"/><rect x="498.32" y="355.48" width="14.14" height="7.19" fill="#94c5ec"/><rect x="513.76" y="355.48" width="14.14" height="7.19" fill="#1c9c9a"/><rect x="529.20" y="355.48" width="14.14" height="7.19" fill="#94c5ec"/><rect x="544.64" y="355.48" width="14.14" height="7.19" fill="#dee9f5"/><rect x="560.08" y="355.48" width="14.14" height="7.19" fill="#dee9f5"/><rect x="575.52" y="355.48" width="14.14" height="7.19" fill="#dee9f5"/><rect x="590.96" y="355.48" width="14.14" height="7.19" fill="#dee9f5"/><rect x="606.40" y="355.48" width="14.14" height="7.19" fill="#dee9f5"/><rect x="621.84" y="355.48" width="14.14" height="7.19" fill="#c0d9f1"/><rect x="637.28" y="355.48" width="14.14" height="7.19" fill="#dee9f5"/><rect x="652.72" y="355.48" width="14.14" height="7.19" fill="#dee9f5"/><rect x="668.16" y="355.48" width="14.14" height="7.19" fill="#dee9f5"/><rect x="683.60" y="355.48" width="14.14" height="7.19" fill="#dee9f5"/><rect x="699.04" y="355.48" width="14.14" height="7.19" fill="#dee9f5"/><rect x="714.48" y="355.48" width="14.14" height="7.19" fill="#dee9f5"/><rect x="729.92" y="355.48" width="14.14" height="7.19" fill="#dee9f5"/><rect x="745.36" y="355.48" width="14.14" height="7.19" fill="#dee9f5"/><rect x="760.80" y="355.48" width="14.14" height="7.19" fill="#dee9f5"/><rect x="66.00" y="363.76" width="14.14" height="7.19" fill="#c0d9f1"/><rect x="81.44" y="363.76" width="14.14" height="7.19" fill="#1893d2"/><rect x="96.88" y="363.76" width="14.14" height="7.19" fill="#1c9c9a"/><rect x="112.32" y="363.76" width="14.14" height="7.19" fill="#1c9c9a"/><rect x="127.76" y="363.76" width="14.14" height="7.19" fill="#1c9c9a"/><rect x="143.20" y="363.76" width="14.14" height="7.19" fill="#fbcb2e"/><rect x="158.64" y="363.76" width="14.14" height="7.19" fill="#9bbd3c"/><rect x="174.08" y="363.76" width="14.14" height="7.19" fill="#fbcb2e"/><rect x="189.52" y="363.76" width="14.14" height="7.19" fill="#34a55c"/><rect x="204.96" y="363.76" width="14.14" height="7.19" fill="#1c9c9a"/><rect x="220.40" y="363.76" width="14.14" height="7.19" fill="#fbcb2e"/><rect x="235.84" y="363.76" width="14.14" height="7.19" fill="#1c9c9a"/><rect x="251.28" y="363.76" width="14.14" height="7.19" fill="#1893d2"/><rect x="266.72" y="363.76" width="14.14" height="7.19" fill="#1893d2"/><rect x="282.16" y="363.76" width="14.14" height="7.19" fill="#1893d2"/><rect x="297.60" y="363.76" width="14.14" height="7.19" fill="#4ba9e2"/><rect x="313.04" y="363.76" width="14.14" height="7.19" fill="#34a55c"/><rect x="328.48" y="363.76" width="14.14" height="7.19" fill="#34a55c"/><rect x="343.92" y="363.76" width="14.14" height="7.19" fill="#1c9c9a"/><rect x="359.36" y="363.76" width="14.14" height="7.19" fill="#1893d2"/><rect x="374.80" y="363.76" width="14.14" height="7.19" fill="#1893d2"/><rect x="390.24" y="363.76" width="14.14" height="7.19" fill="#1893d2"/><rect x="405.68" y="363.76" width="14.14" height="7.19" fill="#1893d2"/><rect x="421.12" y="363.76" width="14.14" height="7.19" fill="#1893d2"/><rect x="436.56" y="363.76" width="14.14" height="7.19" fill="#1c9c9a"/><rect x="452.00" y="363.76" width="14.14" height="7.19" fill="#94c5ec"/><rect x="467.44" y="363.76" width="14.14" height="7.19" fill="#c0d9f1"/><rect x="482.88" y="363.76" width="14.14" height="7.19" fill="#c0d9f1"/><rect x="498.32" y="363.76" width="14.14" height="7.19" fill="#4ba9e2"/><rect x="513.76" y="363.76" width="14.14" height="7.19" fill="#fbcb2e"/><rect x="529.20" y="363.76" width="14.14" height="7.19" fill="#e99c2b"/><rect x="544.64" y="363.76" width="14.14" height="7.19" fill="#34a55c"/><rect x="560.08" y="363.76" width="14.14" height="7.19" fill="#1c9c9a"/><rect x="575.52" y="363.76" width="14.14" height="7.19" fill="#1c9c9a"/><rect x="590.96" y="363.76" width="14.14" height="7.19" fill="#c0d9f1"/><rect x="606.40" y="363.76" width="14.14" height="7.19" fill="#c0d9f1"/><rect x="621.84" y="363.76" width="14.14" height="7.19" fill="#dee9f5"/><rect x="637.28" y="363.76" width="14.14" height="7.19" fill="#dee9f5"/><rect x="652.72" y="363.76" width="14.14" height="7.19" fill="#dee9f5"/><rect x="668.16" y="363.76" width="14.14" height="7.19" fill="#dee9f5"/><rect x="683.60" y="363.76" width="14.14" height="7.19" fill="#dee9f5"/><rect x="699.04" y="363.76" width="14.14" height="7.19" fill="#dee9f5"/><rect x="714.48" y="363.76" width="14.14" height="7.19" fill="#dee9f5"/><rect x="729.92" y="363.76" width="14.14" height="7.19" fill="#dee9f5"/><rect x="745.36" y="363.76" width="14.14" height="7.19" fill="#dee9f5"/><rect x="760.80" y="363.76" width="14.14" height="7.19" fill="#dee9f5"/><rect x="66.00" y="372.05" width="14.14" height="7.19" fill="#edb232"/><rect x="81.44" y="372.05" width="14.14" height="7.19" fill="#fbcb2e"/><rect x="96.88" y="372.05" width="14.14" height="7.19" fill="#fbcb2e"/><rect x="112.32" y="372.05" width="14.14" height="7.19" fill="#fbcb2e"/><rect x="127.76" y="372.05" width="14.14" height="7.19" fill="#fbcb2e"/><rect x="143.20" y="372.05" width="14.14" height="7.19" fill="#e99c2b"/><rect x="158.64" y="372.05" width="14.14" height="7.19" fill="#e99c2b"/><rect x="174.08" y="372.05" width="14.14" height="7.19" fill="#fbcb2e"/><rect x="189.52" y="372.05" width="14.14" height="7.19" fill="#fbcb2e"/><rect x="204.96" y="372.05" width="14.14" height="7.19" fill="#9bbd3c"/><rect x="220.40" y="372.05" width="14.14" height="7.19" fill="#e0c434"/><rect x="235.84" y="372.05" width="14.14" height="7.19" fill="#e0c434"/><rect x="251.28" y="372.05" width="14.14" height="7.19" fill="#fbcb2e"/><rect x="266.72" y="372.05" width="14.14" height="7.19" fill="#e0c434"/><rect x="282.16" y="372.05" width="14.14" height="7.19" fill="#34a55c"/><rect x="297.60" y="372.05" width="14.14" height="7.19" fill="#34a55c"/><rect x="313.04" y="372.05" width="14.14" height="7.19" fill="#1c9c9a"/><rect x="328.48" y="372.05" width="14.14" height="7.19" fill="#9bbd3c"/><rect x="343.92" y="372.05" width="14.14" height="7.19" fill="#fbcb2e"/><rect x="359.36" y="372.05" width="14.14" height="7.19" fill="#edb232"/><rect x="374.80" y="372.05" width="14.14" height="7.19" fill="#edb232"/><rect x="390.24" y="372.05" width="14.14" height="7.19" fill="#edb232"/><rect x="405.68" y="372.05" width="14.14" height="7.19" fill="#34a55c"/><rect x="421.12" y="372.05" width="14.14" height="7.19" fill="#edb232"/><rect x="436.56" y="372.05" width="14.14" height="7.19" fill="#34a55c"/><rect x="452.00" y="372.05" width="14.14" height="7.19" fill="#1893d2"/><rect x="467.44" y="372.05" width="14.14" height="7.19" fill="#1893d2"/><rect x="482.88" y="372.05" width="14.14" height="7.19" fill="#dee9f5"/><rect x="498.32" y="372.05" width="14.14" height="7.19" fill="#1c9c9a"/><rect x="513.76" y="372.05" width="14.14" height="7.19" fill="#fbcb2e"/><rect x="529.20" y="372.05" width="14.14" height="7.19" fill="#34a55c"/><rect x="544.64" y="372.05" width="14.14" height="7.19" fill="#c0d9f1"/><rect x="560.08" y="372.05" width="14.14" height="7.19" fill="#4ba9e2"/><rect x="575.52" y="372.05" width="14.14" height="7.19" fill="#94c5ec"/><rect x="590.96" y="372.05" width="14.14" height="7.19" fill="#c0d9f1"/><rect x="606.40" y="372.05" width="14.14" height="7.19" fill="#dee9f5"/><rect x="621.84" y="372.05" width="14.14" height="7.19" fill="#dee9f5"/><rect x="637.28" y="372.05" width="14.14" height="7.19" fill="#dee9f5"/><rect x="652.72" y="372.05" width="14.14" height="7.19" fill="#dee9f5"/><rect x="668.16" y="372.05" width="14.14" height="7.19" fill="#dee9f5"/><rect x="683.60" y="372.05" width="14.14" height="7.19" fill="#dee9f5"/><rect x="699.04" y="372.05" width="14.14" height="7.19" fill="#dee9f5"/><rect x="714.48" y="372.05" width="14.14" height="7.19" fill="#dee9f5"/><rect x="729.92" y="372.05" width="14.14" height="7.19" fill="#dee9f5"/><rect x="745.36" y="372.05" width="14.14" height="7.19" fill="#dee9f5"/><rect x="760.80" y="372.05" width="14.14" height="7.19" fill="#dee9f5"/><rect x="66.00" y="380.33" width="14.14" height="7.19" fill="#1c9c9a"/><rect x="81.44" y="380.33" width="14.14" height="7.19" fill="#1c9c9a"/><rect x="96.88" y="380.33" width="14.14" height="7.19" fill="#1c9c9a"/><rect x="112.32" y="380.33" width="14.14" height="7.19" fill="#1c9c9a"/><rect x="127.76" y="380.33" width="14.14" height="7.19" fill="#34a55c"/><rect x="143.20" y="380.33" width="14.14" height="7.19" fill="#34a55c"/><rect x="158.64" y="380.33" width="14.14" height="7.19" fill="#1893d2"/><rect x="174.08" y="380.33" width="14.14" height="7.19" fill="#1893d2"/><rect x="189.52" y="380.33" width="14.14" height="7.19" fill="#1893d2"/><rect x="204.96" y="380.33" width="14.14" height="7.19" fill="#4ba9e2"/><rect x="220.40" y="380.33" width="14.14" height="7.19" fill="#94c5ec"/><rect x="235.84" y="380.33" width="14.14" height="7.19" fill="#94c5ec"/><rect x="251.28" y="380.33" width="14.14" height="7.19" fill="#c0d9f1"/><rect x="266.72" y="380.33" width="14.14" height="7.19" fill="#c0d9f1"/><rect x="282.16" y="380.33" width="14.14" height="7.19" fill="#c0d9f1"/><rect x="297.60" y="380.33" width="14.14" height="7.19" fill="#c0d9f1"/><rect x="313.04" y="380.33" width="14.14" height="7.19" fill="#94c5ec"/><rect x="328.48" y="380.33" width="14.14" height="7.19" fill="#94c5ec"/><rect x="343.92" y="380.33" width="14.14" height="7.19" fill="#dee9f5"/><rect x="359.36" y="380.33" width="14.14" height="7.19" fill="#dee9f5"/><rect x="374.80" y="380.33" width="14.14" height="7.19" fill="#dee9f5"/><rect x="390.24" y="380.33" width="14.14" height="7.19" fill="#dee9f5"/><rect x="405.68" y="380.33" width="14.14" height="7.19" fill="#dee9f5"/><rect x="421.12" y="380.33" width="14.14" height="7.19" fill="#1c9c9a"/><rect x="436.56" y="380.33" width="14.14" height="7.19" fill="#1c9c9a"/><rect x="452.00" y="380.33" width="14.14" height="7.19" fill="#dee9f5"/><rect x="467.44" y="380.33" width="14.14" height="7.19" fill="#dee9f5"/><rect x="482.88" y="380.33" width="14.14" height="7.19" fill="#dee9f5"/><rect x="498.32" y="380.33" width="14.14" height="7.19" fill="#dee9f5"/><rect x="513.76" y="380.33" width="14.14" height="7.19" fill="#dee9f5"/><rect x="529.20" y="380.33" width="14.14" height="7.19" fill="#c0d9f1"/><rect x="544.64" y="380.33" width="14.14" height="7.19" fill="#dee9f5"/><rect x="560.08" y="380.33" width="14.14" height="7.19" fill="#dee9f5"/><rect x="575.52" y="380.33" width="14.14" height="7.19" fill="#dee9f5"/><rect x="590.96" y="380.33" width="14.14" height="7.19" fill="#dee9f5"/><rect x="606.40" y="380.33" width="14.14" height="7.19" fill="#dee9f5"/><rect x="621.84" y="380.33" width="14.14" height="7.19" fill="#dee9f5"/><rect x="637.28" y="380.33" width="14.14" height="7.19" fill="#1893d2"/><rect x="652.72" y="380.33" width="14.14" height="7.19" fill="#dee9f5"/><rect x="668.16" y="380.33" width="14.14" height="7.19" fill="#dee9f5"/><rect x="683.60" y="380.33" width="14.14" height="7.19" fill="#dee9f5"/><rect x="699.04" y="380.33" width="14.14" height="7.19" fill="#dee9f5"/><rect x="714.48" y="380.33" width="14.14" height="7.19" fill="#dee9f5"/><rect x="729.92" y="380.33" width="14.14" height="7.19" fill="#dee9f5"/><rect x="745.36" y="380.33" width="14.14" height="7.19" fill="#dee9f5"/><rect x="760.80" y="380.33" width="14.14" height="7.19" fill="#dee9f5"/><rect x="66.00" y="388.62" width="14.14" height="7.19" fill="#1c9c9a"/><rect x="81.44" y="388.62" width="14.14" height="7.19" fill="#34a55c"/><rect x="96.88" y="388.62" width="14.14" height="7.19" fill="#fbcb2e"/><rect x="112.32" y="388.62" width="14.14" height="7.19" fill="#e99c2b"/><rect x="127.76" y="388.62" width="14.14" height="7.19" fill="#e99c2b"/><rect x="143.20" y="388.62" width="14.14" height="7.19" fill="#e99c2b"/><rect x="158.64" y="388.62" width="14.14" height="7.19" fill="#fbcb2e"/><rect x="174.08" y="388.62" width="14.14" height="7.19" fill="#fbcb2e"/><rect x="189.52" y="388.62" width="14.14" height="7.19" fill="#fbcb2e"/><rect x="204.96" y="388.62" width="14.14" height="7.19" fill="#9bbd3c"/><rect x="220.40" y="388.62" width="14.14" height="7.19" fill="#1c9c9a"/><rect x="235.84" y="388.62" width="14.14" height="7.19" fill="#1c9c9a"/><rect x="251.28" y="388.62" width="14.14" height="7.19" fill="#1893d2"/><rect x="266.72" y="388.62" width="14.14" height="7.19" fill="#1893d2"/><rect x="282.16" y="388.62" width="14.14" height="7.19" fill="#4ba9e2"/><rect x="297.60" y="388.62" width="14.14" height="7.19" fill="#1893d2"/><rect x="313.04" y="388.62" width="14.14" height="7.19" fill="#1893d2"/><rect x="328.48" y="388.62" width="14.14" height="7.19" fill="#c0d9f1"/><rect x="343.92" y="388.62" width="14.14" height="7.19" fill="#dee9f5"/><rect x="359.36" y="388.62" width="14.14" height="7.19" fill="#dee9f5"/><rect x="374.80" y="388.62" width="14.14" height="7.19" fill="#dee9f5"/><rect x="390.24" y="388.62" width="14.14" height="7.19" fill="#1893d2"/><rect x="405.68" y="388.62" width="14.14" height="7.19" fill="#c0d9f1"/><rect x="421.12" y="388.62" width="14.14" height="7.19" fill="#dee9f5"/><rect x="436.56" y="388.62" width="14.14" height="7.19" fill="#c0d9f1"/><rect x="452.00" y="388.62" width="14.14" height="7.19" fill="#1893d2"/><rect x="467.44" y="388.62" width="14.14" height="7.19" fill="#1893d2"/><rect x="482.88" y="388.62" width="14.14" height="7.19" fill="#c0d9f1"/><rect x="498.32" y="388.62" width="14.14" height="7.19" fill="#dee9f5"/><rect x="513.76" y="388.62" width="14.14" height="7.19" fill="#c0d9f1"/><rect x="529.20" y="388.62" width="14.14" height="7.19" fill="#dee9f5"/><rect x="544.64" y="388.62" width="14.14" height="7.19" fill="#c0d9f1"/><rect x="560.08" y="388.62" width="14.14" height="7.19" fill="#dee9f5"/><rect x="575.52" y="388.62" width="14.14" height="7.19" fill="#dee9f5"/><rect x="590.96" y="388.62" width="14.14" height="7.19" fill="#dee9f5"/><rect x="606.40" y="388.62" width="14.14" height="7.19" fill="#94c5ec"/><rect x="621.84" y="388.62" width="14.14" height="7.19" fill="#dee9f5"/><rect x="637.28" y="388.62" width="14.14" height="7.19" fill="#dee9f5"/><rect x="652.72" y="388.62" width="14.14" height="7.19" fill="#dee9f5"/><rect x="668.16" y="388.62" width="14.14" height="7.19" fill="#dee9f5"/><rect x="683.60" y="388.62" width="14.14" height="7.19" fill="#dee9f5"/><rect x="699.04" y="388.62" width="14.14" height="7.19" fill="#dee9f5"/><rect x="714.48" y="388.62" width="14.14" height="7.19" fill="#dee9f5"/><rect x="729.92" y="388.62" width="14.14" height="7.19" fill="#dee9f5"/><rect x="745.36" y="388.62" width="14.14" height="7.19" fill="#dee9f5"/><rect x="760.80" y="388.62" width="14.14" height="7.19" fill="#dee9f5"/><rect x="66.00" y="396.90" width="14.14" height="7.19" fill="#c0d9f1"/><rect x="81.44" y="396.90" width="14.14" height="7.19" fill="#c0d9f1"/><rect x="96.88" y="396.90" width="14.14" height="7.19" fill="#94c5ec"/><rect x="112.32" y="396.90" width="14.14" height="7.19" fill="#1c9c9a"/><rect x="127.76" y="396.90" width="14.14" height="7.19" fill="#1c9c9a"/><rect x="143.20" y="396.90" width="14.14" height="7.19" fill="#1893d2"/><rect x="158.64" y="396.90" width="14.14" height="7.19" fill="#1c9c9a"/><rect x="174.08" y="396.90" width="14.14" height="7.19" fill="#1c9c9a"/><rect x="189.52" y="396.90" width="14.14" height="7.19" fill="#1893d2"/><rect x="204.96" y="396.90" width="14.14" height="7.19" fill="#1893d2"/><rect x="220.40" y="396.90" width="14.14" height="7.19" fill="#4ba9e2"/><rect x="235.84" y="396.90" width="14.14" height="7.19" fill="#c0d9f1"/><rect x="251.28" y="396.90" width="14.14" height="7.19" fill="#dee9f5"/><rect x="266.72" y="396.90" width="14.14" height="7.19" fill="#94c5ec"/><rect x="282.16" y="396.90" width="14.14" height="7.19" fill="#dee9f5"/><rect x="297.60" y="396.90" width="14.14" height="7.19" fill="#dee9f5"/><rect x="313.04" y="396.90" width="14.14" height="7.19" fill="#1893d2"/><rect x="328.48" y="396.90" width="14.14" height="7.19" fill="#94c5ec"/><rect x="343.92" y="396.90" width="14.14" height="7.19" fill="#dee9f5"/><rect x="359.36" y="396.90" width="14.14" height="7.19" fill="#dee9f5"/><rect x="374.80" y="396.90" width="14.14" height="7.19" fill="#dee9f5"/><rect x="390.24" y="396.90" width="14.14" height="7.19" fill="#dee9f5"/><rect x="405.68" y="396.90" width="14.14" height="7.19" fill="#dee9f5"/><rect x="421.12" y="396.90" width="14.14" height="7.19" fill="#dee9f5"/><rect x="436.56" y="396.90" width="14.14" height="7.19" fill="#dee9f5"/><rect x="452.00" y="396.90" width="14.14" height="7.19" fill="#dee9f5"/><rect x="467.44" y="396.90" width="14.14" height="7.19" fill="#dee9f5"/><rect x="482.88" y="396.90" width="14.14" height="7.19" fill="#dee9f5"/><rect x="498.32" y="396.90" width="14.14" height="7.19" fill="#dee9f5"/><rect x="513.76" y="396.90" width="14.14" height="7.19" fill="#dee9f5"/><rect x="529.20" y="396.90" width="14.14" height="7.19" fill="#dee9f5"/><rect x="544.64" y="396.90" width="14.14" height="7.19" fill="#dee9f5"/><rect x="560.08" y="396.90" width="14.14" height="7.19" fill="#dee9f5"/><rect x="575.52" y="396.90" width="14.14" height="7.19" fill="#dee9f5"/><rect x="590.96" y="396.90" width="14.14" height="7.19" fill="#dee9f5"/><rect x="606.40" y="396.90" width="14.14" height="7.19" fill="#dee9f5"/><rect x="621.84" y="396.90" width="14.14" height="7.19" fill="#dee9f5"/><rect x="637.28" y="396.90" width="14.14" height="7.19" fill="#dee9f5"/><rect x="652.72" y="396.90" width="14.14" height="7.19" fill="#dee9f5"/><rect x="668.16" y="396.90" width="14.14" height="7.19" fill="#dee9f5"/><rect x="683.60" y="396.90" width="14.14" height="7.19" fill="#dee9f5"/><rect x="699.04" y="396.90" width="14.14" height="7.19" fill="#dee9f5"/><rect x="714.48" y="396.90" width="14.14" height="7.19" fill="#dee9f5"/><rect x="729.92" y="396.90" width="14.14" height="7.19" fill="#dee9f5"/><rect x="745.36" y="396.90" width="14.14" height="7.19" fill="#dee9f5"/><rect x="760.80" y="396.90" width="14.14" height="7.19" fill="#dee9f5"/><rect x="66.00" y="405.19" width="14.14" height="7.19" fill="#c0d9f1"/><rect x="81.44" y="405.19" width="14.14" height="7.19" fill="#dee9f5"/><rect x="96.88" y="405.19" width="14.14" height="7.19" fill="#1893d2"/><rect x="112.32" y="405.19" width="14.14" height="7.19" fill="#1c9c9a"/><rect x="127.76" y="405.19" width="14.14" height="7.19" fill="#c0d9f1"/><rect x="143.20" y="405.19" width="14.14" height="7.19" fill="#34a55c"/><rect x="158.64" y="405.19" width="14.14" height="7.19" fill="#1c9c9a"/><rect x="174.08" y="405.19" width="14.14" height="7.19" fill="#fbcb2e"/><rect x="189.52" y="405.19" width="14.14" height="7.19" fill="#34a55c"/><rect x="204.96" y="405.19" width="14.14" height="7.19" fill="#c0d9f1"/><rect x="220.40" y="405.19" width="14.14" height="7.19" fill="#1893d2"/><rect x="235.84" y="405.19" width="14.14" height="7.19" fill="#c0d9f1"/><rect x="251.28" y="405.19" width="14.14" height="7.19" fill="#34a55c"/><rect x="266.72" y="405.19" width="14.14" height="7.19" fill="#34a55c"/><rect x="282.16" y="405.19" width="14.14" height="7.19" fill="#1893d2"/><rect x="297.60" y="405.19" width="14.14" height="7.19" fill="#c0d9f1"/><rect x="313.04" y="405.19" width="14.14" height="7.19" fill="#dee9f5"/><rect x="328.48" y="405.19" width="14.14" height="7.19" fill="#34a55c"/><rect x="343.92" y="405.19" width="14.14" height="7.19" fill="#fbcb2e"/><rect x="359.36" y="405.19" width="14.14" height="7.19" fill="#fbcb2e"/><rect x="374.80" y="405.19" width="14.14" height="7.19" fill="#34a55c"/><rect x="390.24" y="405.19" width="14.14" height="7.19" fill="#dee9f5"/><rect x="405.68" y="405.19" width="14.14" height="7.19" fill="#dee9f5"/><rect x="421.12" y="405.19" width="14.14" height="7.19" fill="#dee9f5"/><rect x="436.56" y="405.19" width="14.14" height="7.19" fill="#edb232"/><rect x="452.00" y="405.19" width="14.14" height="7.19" fill="#e99c2b"/><rect x="467.44" y="405.19" width="14.14" height="7.19" fill="#34a55c"/><rect x="482.88" y="405.19" width="14.14" height="7.19" fill="#dee9f5"/><rect x="498.32" y="405.19" width="14.14" height="7.19" fill="#c0d9f1"/><rect x="513.76" y="405.19" width="14.14" height="7.19" fill="#1893d2"/><rect x="529.20" y="405.19" width="14.14" height="7.19" fill="#c0d9f1"/><rect x="544.64" y="405.19" width="14.14" height="7.19" fill="#dee9f5"/><rect x="560.08" y="405.19" width="14.14" height="7.19" fill="#c0d9f1"/><rect x="575.52" y="405.19" width="14.14" height="7.19" fill="#dee9f5"/><rect x="590.96" y="405.19" width="14.14" height="7.19" fill="#dee9f5"/><rect x="606.40" y="405.19" width="14.14" height="7.19" fill="#dee9f5"/><rect x="621.84" y="405.19" width="14.14" height="7.19" fill="#dee9f5"/><rect x="637.28" y="405.19" width="14.14" height="7.19" fill="#eef3fa"/><rect x="652.72" y="405.19" width="14.14" height="7.19" fill="#dee9f5"/><rect x="668.16" y="405.19" width="14.14" height="7.19" fill="#dee9f5"/><rect x="683.60" y="405.19" width="14.14" height="7.19" fill="#dee9f5"/><rect x="699.04" y="405.19" width="14.14" height="7.19" fill="#dee9f5"/><rect x="714.48" y="405.19" width="14.14" height="7.19" fill="#dee9f5"/><rect x="729.92" y="405.19" width="14.14" height="7.19" fill="#dee9f5"/><rect x="745.36" y="405.19" width="14.14" height="7.19" fill="#dee9f5"/><rect x="760.80" y="405.19" width="14.14" height="7.19" fill="#dee9f5"/><rect x="66.00" y="413.47" width="14.14" height="7.19" fill="#34a55c"/><rect x="81.44" y="413.47" width="14.14" height="7.19" fill="#34a55c"/><rect x="96.88" y="413.47" width="14.14" height="7.19" fill="#34a55c"/><rect x="112.32" y="413.47" width="14.14" height="7.19" fill="#34a55c"/><rect x="127.76" y="413.47" width="14.14" height="7.19" fill="#fbcb2e"/><rect x="143.20" y="413.47" width="14.14" height="7.19" fill="#fbcb2e"/><rect x="158.64" y="413.47" width="14.14" height="7.19" fill="#fbcb2e"/><rect x="174.08" y="413.47" width="14.14" height="7.19" fill="#fbcb2e"/><rect x="189.52" y="413.47" width="14.14" height="7.19" fill="#fbcb2e"/><rect x="204.96" y="413.47" width="14.14" height="7.19" fill="#34a55c"/><rect x="220.40" y="413.47" width="14.14" height="7.19" fill="#34a55c"/><rect x="235.84" y="413.47" width="14.14" height="7.19" fill="#34a55c"/><rect x="251.28" y="413.47" width="14.14" height="7.19" fill="#1c9c9a"/><rect x="266.72" y="413.47" width="14.14" height="7.19" fill="#1893d2"/><rect x="282.16" y="413.47" width="14.14" height="7.19" fill="#4ba9e2"/><rect x="297.60" y="413.47" width="14.14" height="7.19" fill="#1893d2"/><rect x="313.04" y="413.47" width="14.14" height="7.19" fill="#94c5ec"/><rect x="328.48" y="413.47" width="14.14" height="7.19" fill="#c0d9f1"/><rect x="343.92" y="413.47" width="14.14" height="7.19" fill="#dee9f5"/><rect x="359.36" y="413.47" width="14.14" height="7.19" fill="#dee9f5"/><rect x="374.80" y="413.47" width="14.14" height="7.19" fill="#dee9f5"/><rect x="390.24" y="413.47" width="14.14" height="7.19" fill="#dee9f5"/><rect x="405.68" y="413.47" width="14.14" height="7.19" fill="#dee9f5"/><rect x="421.12" y="413.47" width="14.14" height="7.19" fill="#dee9f5"/><rect x="436.56" y="413.47" width="14.14" height="7.19" fill="#c0d9f1"/><rect x="452.00" y="413.47" width="14.14" height="7.19" fill="#c0d9f1"/><rect x="467.44" y="413.47" width="14.14" height="7.19" fill="#dee9f5"/><rect x="482.88" y="413.47" width="14.14" height="7.19" fill="#dee9f5"/><rect x="498.32" y="413.47" width="14.14" height="7.19" fill="#c0d9f1"/><rect x="513.76" y="413.47" width="14.14" height="7.19" fill="#1c9c9a"/><rect x="529.20" y="413.47" width="14.14" height="7.19" fill="#94c5ec"/><rect x="544.64" y="413.47" width="14.14" height="7.19" fill="#dee9f5"/><rect x="560.08" y="413.47" width="14.14" height="7.19" fill="#dee9f5"/><rect x="575.52" y="413.47" width="14.14" height="7.19" fill="#dee9f5"/><rect x="590.96" y="413.47" width="14.14" height="7.19" fill="#dee9f5"/><rect x="606.40" y="413.47" width="14.14" height="7.19" fill="#dee9f5"/><rect x="621.84" y="413.47" width="14.14" height="7.19" fill="#dee9f5"/><rect x="637.28" y="413.47" width="14.14" height="7.19" fill="#c0d9f1"/><rect x="652.72" y="413.47" width="14.14" height="7.19" fill="#dee9f5"/><rect x="668.16" y="413.47" width="14.14" height="7.19" fill="#c0d9f1"/><rect x="683.60" y="413.47" width="14.14" height="7.19" fill="#dee9f5"/><rect x="699.04" y="413.47" width="14.14" height="7.19" fill="#dee9f5"/><rect x="714.48" y="413.47" width="14.14" height="7.19" fill="#dee9f5"/><rect x="729.92" y="413.47" width="14.14" height="7.19" fill="#dee9f5"/><rect x="745.36" y="413.47" width="14.14" height="7.19" fill="#dee9f5"/><rect x="760.80" y="413.47" width="14.14" height="7.19" fill="#dee9f5"/><rect x="66.00" y="421.75" width="14.14" height="7.19" fill="#1c9c9a"/><rect x="81.44" y="421.75" width="14.14" height="7.19" fill="#34a55c"/><rect x="96.88" y="421.75" width="14.14" height="7.19" fill="#1c9c9a"/><rect x="112.32" y="421.75" width="14.14" height="7.19" fill="#1c9c9a"/><rect x="127.76" y="421.75" width="14.14" height="7.19" fill="#34a55c"/><rect x="143.20" y="421.75" width="14.14" height="7.19" fill="#fbcb2e"/><rect x="158.64" y="421.75" width="14.14" height="7.19" fill="#9bbd3c"/><rect x="174.08" y="421.75" width="14.14" height="7.19" fill="#fbcb2e"/><rect x="189.52" y="421.75" width="14.14" height="7.19" fill="#34a55c"/><rect x="204.96" y="421.75" width="14.14" height="7.19" fill="#34a55c"/><rect x="220.40" y="421.75" width="14.14" height="7.19" fill="#1893d2"/><rect x="235.84" y="421.75" width="14.14" height="7.19" fill="#1c9c9a"/><rect x="251.28" y="421.75" width="14.14" height="7.19" fill="#1c9c9a"/><rect x="266.72" y="421.75" width="14.14" height="7.19" fill="#34a55c"/><rect x="282.16" y="421.75" width="14.14" height="7.19" fill="#1c9c9a"/><rect x="297.60" y="421.75" width="14.14" height="7.19" fill="#1c9c9a"/><rect x="313.04" y="421.75" width="14.14" height="7.19" fill="#1c9c9a"/><rect x="328.48" y="421.75" width="14.14" height="7.19" fill="#1c9c9a"/><rect x="343.92" y="421.75" width="14.14" height="7.19" fill="#1893d2"/><rect x="359.36" y="421.75" width="14.14" height="7.19" fill="#1893d2"/><rect x="374.80" y="421.75" width="14.14" height="7.19" fill="#1893d2"/><rect x="390.24" y="421.75" width="14.14" height="7.19" fill="#1893d2"/><rect x="405.68" y="421.75" width="14.14" height="7.19" fill="#94c5ec"/><rect x="421.12" y="421.75" width="14.14" height="7.19" fill="#1893d2"/><rect x="436.56" y="421.75" width="14.14" height="7.19" fill="#1893d2"/><rect x="452.00" y="421.75" width="14.14" height="7.19" fill="#1893d2"/><rect x="467.44" y="421.75" width="14.14" height="7.19" fill="#94c5ec"/><rect x="482.88" y="421.75" width="14.14" height="7.19" fill="#4ba9e2"/><rect x="498.32" y="421.75" width="14.14" height="7.19" fill="#1893d2"/><rect x="513.76" y="421.75" width="14.14" height="7.19" fill="#1893d2"/><rect x="529.20" y="421.75" width="14.14" height="7.19" fill="#1c9c9a"/><rect x="544.64" y="421.75" width="14.14" height="7.19" fill="#1893d2"/><rect x="560.08" y="421.75" width="14.14" height="7.19" fill="#1c9c9a"/><rect x="575.52" y="421.75" width="14.14" height="7.19" fill="#1893d2"/><rect x="590.96" y="421.75" width="14.14" height="7.19" fill="#c0d9f1"/><rect x="606.40" y="421.75" width="14.14" height="7.19" fill="#94c5ec"/><rect x="621.84" y="421.75" width="14.14" height="7.19" fill="#dee9f5"/><rect x="637.28" y="421.75" width="14.14" height="7.19" fill="#dee9f5"/><rect x="652.72" y="421.75" width="14.14" height="7.19" fill="#c0d9f1"/><rect x="668.16" y="421.75" width="14.14" height="7.19" fill="#dee9f5"/><rect x="683.60" y="421.75" width="14.14" height="7.19" fill="#dee9f5"/><rect x="699.04" y="421.75" width="14.14" height="7.19" fill="#dee9f5"/><rect x="714.48" y="421.75" width="14.14" height="7.19" fill="#dee9f5"/><rect x="729.92" y="421.75" width="14.14" height="7.19" fill="#dee9f5"/><rect x="745.36" y="421.75" width="14.14" height="7.19" fill="#dee9f5"/><rect x="760.80" y="421.75" width="14.14" height="7.19" fill="#dee9f5"/><rect x="66.00" y="430.04" width="14.14" height="7.19" fill="#1c9c9a"/><rect x="81.44" y="430.04" width="14.14" height="7.19" fill="#1c9c9a"/><rect x="96.88" y="430.04" width="14.14" height="7.19" fill="#34a55c"/><rect x="112.32" y="430.04" width="14.14" height="7.19" fill="#34a55c"/><rect x="127.76" y="430.04" width="14.14" height="7.19" fill="#9bbd3c"/><rect x="143.20" y="430.04" width="14.14" height="7.19" fill="#fbcb2e"/><rect x="158.64" y="430.04" width="14.14" height="7.19" fill="#34a55c"/><rect x="174.08" y="430.04" width="14.14" height="7.19" fill="#1c9c9a"/><rect x="189.52" y="430.04" width="14.14" height="7.19" fill="#1c9c9a"/><rect x="204.96" y="430.04" width="14.14" height="7.19" fill="#34a55c"/><rect x="220.40" y="430.04" width="14.14" height="7.19" fill="#34a55c"/><rect x="235.84" y="430.04" width="14.14" height="7.19" fill="#1c9c9a"/><rect x="251.28" y="430.04" width="14.14" height="7.19" fill="#34a55c"/><rect x="266.72" y="430.04" width="14.14" height="7.19" fill="#1c9c9a"/><rect x="282.16" y="430.04" width="14.14" height="7.19" fill="#1893d2"/><rect x="297.60" y="430.04" width="14.14" height="7.19" fill="#c0d9f1"/><rect x="313.04" y="430.04" width="14.14" height="7.19" fill="#1893d2"/><rect x="328.48" y="430.04" width="14.14" height="7.19" fill="#1893d2"/><rect x="343.92" y="430.04" width="14.14" height="7.19" fill="#34a55c"/><rect x="359.36" y="430.04" width="14.14" height="7.19" fill="#1893d2"/><rect x="374.80" y="430.04" width="14.14" height="7.19" fill="#4ba9e2"/><rect x="390.24" y="430.04" width="14.14" height="7.19" fill="#1c9c9a"/><rect x="405.68" y="430.04" width="14.14" height="7.19" fill="#4ba9e2"/><rect x="421.12" y="430.04" width="14.14" height="7.19" fill="#1c9c9a"/><rect x="436.56" y="430.04" width="14.14" height="7.19" fill="#e0c434"/><rect x="452.00" y="430.04" width="14.14" height="7.19" fill="#1c9c9a"/><rect x="467.44" y="430.04" width="14.14" height="7.19" fill="#34a55c"/><rect x="482.88" y="430.04" width="14.14" height="7.19" fill="#1c9c9a"/><rect x="498.32" y="430.04" width="14.14" height="7.19" fill="#34a55c"/><rect x="513.76" y="430.04" width="14.14" height="7.19" fill="#9bbd3c"/><rect x="529.20" y="430.04" width="14.14" height="7.19" fill="#fbcb2e"/><rect x="544.64" y="430.04" width="14.14" height="7.19" fill="#1893d2"/><rect x="560.08" y="430.04" width="14.14" height="7.19" fill="#94c5ec"/><rect x="575.52" y="430.04" width="14.14" height="7.19" fill="#dee9f5"/><rect x="590.96" y="430.04" width="14.14" height="7.19" fill="#dee9f5"/><rect x="606.40" y="430.04" width="14.14" height="7.19" fill="#dee9f5"/><rect x="621.84" y="430.04" width="14.14" height="7.19" fill="#c0d9f1"/><rect x="637.28" y="430.04" width="14.14" height="7.19" fill="#c0d9f1"/><rect x="652.72" y="430.04" width="14.14" height="7.19" fill="#dee9f5"/><rect x="668.16" y="430.04" width="14.14" height="7.19" fill="#dee9f5"/><rect x="683.60" y="430.04" width="14.14" height="7.19" fill="#dee9f5"/><rect x="699.04" y="430.04" width="14.14" height="7.19" fill="#dee9f5"/><rect x="714.48" y="430.04" width="14.14" height="7.19" fill="#dee9f5"/><rect x="729.92" y="430.04" width="14.14" height="7.19" fill="#dee9f5"/><rect x="745.36" y="430.04" width="14.14" height="7.19" fill="#dee9f5"/><rect x="760.80" y="430.04" width="14.14" height="7.19" fill="#dee9f5"/><rect x="66.00" y="438.32" width="14.14" height="7.19" fill="#1893d2"/><rect x="81.44" y="438.32" width="14.14" height="7.19" fill="#1c9c9a"/><rect x="96.88" y="438.32" width="14.14" height="7.19" fill="#1c9c9a"/><rect x="112.32" y="438.32" width="14.14" height="7.19" fill="#1893d2"/><rect x="127.76" y="438.32" width="14.14" height="7.19" fill="#9bbd3c"/><rect x="143.20" y="438.32" width="14.14" height="7.19" fill="#fbcb2e"/><rect x="158.64" y="438.32" width="14.14" height="7.19" fill="#1c9c9a"/><rect x="174.08" y="438.32" width="14.14" height="7.19" fill="#1c9c9a"/><rect x="189.52" y="438.32" width="14.14" height="7.19" fill="#1893d2"/><rect x="204.96" y="438.32" width="14.14" height="7.19" fill="#4ba9e2"/><rect x="220.40" y="438.32" width="14.14" height="7.19" fill="#94c5ec"/><rect x="235.84" y="438.32" width="14.14" height="7.19" fill="#94c5ec"/><rect x="251.28" y="438.32" width="14.14" height="7.19" fill="#c0d9f1"/><rect x="266.72" y="438.32" width="14.14" height="7.19" fill="#c0d9f1"/><rect x="282.16" y="438.32" width="14.14" height="7.19" fill="#c0d9f1"/><rect x="297.60" y="438.32" width="14.14" height="7.19" fill="#c0d9f1"/><rect x="313.04" y="438.32" width="14.14" height="7.19" fill="#dee9f5"/><rect x="328.48" y="438.32" width="14.14" height="7.19" fill="#dee9f5"/><rect x="343.92" y="438.32" width="14.14" height="7.19" fill="#dee9f5"/><rect x="359.36" y="438.32" width="14.14" height="7.19" fill="#dee9f5"/><rect x="374.80" y="438.32" width="14.14" height="7.19" fill="#dee9f5"/><rect x="390.24" y="438.32" width="14.14" height="7.19" fill="#c0d9f1"/><rect x="405.68" y="438.32" width="14.14" height="7.19" fill="#dee9f5"/><rect x="421.12" y="438.32" width="14.14" height="7.19" fill="#dee9f5"/><rect x="436.56" y="438.32" width="14.14" height="7.19" fill="#c0d9f1"/><rect x="452.00" y="438.32" width="14.14" height="7.19" fill="#dee9f5"/><rect x="467.44" y="438.32" width="14.14" height="7.19" fill="#dee9f5"/><rect x="482.88" y="438.32" width="14.14" height="7.19" fill="#dee9f5"/><rect x="498.32" y="438.32" width="14.14" height="7.19" fill="#dee9f5"/><rect x="513.76" y="438.32" width="14.14" height="7.19" fill="#dee9f5"/><rect x="529.20" y="438.32" width="14.14" height="7.19" fill="#dee9f5"/><rect x="544.64" y="438.32" width="14.14" height="7.19" fill="#dee9f5"/><rect x="560.08" y="438.32" width="14.14" height="7.19" fill="#dee9f5"/><rect x="575.52" y="438.32" width="14.14" height="7.19" fill="#dee9f5"/><rect x="590.96" y="438.32" width="14.14" height="7.19" fill="#dee9f5"/><rect x="606.40" y="438.32" width="14.14" height="7.19" fill="#dee9f5"/><rect x="621.84" y="438.32" width="14.14" height="7.19" fill="#dee9f5"/><rect x="637.28" y="438.32" width="14.14" height="7.19" fill="#dee9f5"/><rect x="652.72" y="438.32" width="14.14" height="7.19" fill="#dee9f5"/><rect x="668.16" y="438.32" width="14.14" height="7.19" fill="#dee9f5"/><rect x="683.60" y="438.32" width="14.14" height="7.19" fill="#dee9f5"/><rect x="699.04" y="438.32" width="14.14" height="7.19" fill="#dee9f5"/><rect x="714.48" y="438.32" width="14.14" height="7.19" fill="#dee9f5"/><rect x="729.92" y="438.32" width="14.14" height="7.19" fill="#dee9f5"/><rect x="745.36" y="438.32" width="14.14" height="7.19" fill="#dee9f5"/><rect x="760.80" y="438.32" width="14.14" height="7.19" fill="#dee9f5"/><rect x="66.00" y="446.61" width="14.14" height="7.19" fill="#c0d9f1"/><rect x="81.44" y="446.61" width="14.14" height="7.19" fill="#c0d9f1"/><rect x="96.88" y="446.61" width="14.14" height="7.19" fill="#1c9c9a"/><rect x="112.32" y="446.61" width="14.14" height="7.19" fill="#fbcb2e"/><rect x="127.76" y="446.61" width="14.14" height="7.19" fill="#e99c2b"/><rect x="143.20" y="446.61" width="14.14" height="7.19" fill="#e99c2b"/><rect x="158.64" y="446.61" width="14.14" height="7.19" fill="#edb232"/><rect x="174.08" y="446.61" width="14.14" height="7.19" fill="#edb232"/><rect x="189.52" y="446.61" width="14.14" height="7.19" fill="#34a55c"/><rect x="204.96" y="446.61" width="14.14" height="7.19" fill="#1893d2"/><rect x="220.40" y="446.61" width="14.14" height="7.19" fill="#1893d2"/><rect x="235.84" y="446.61" width="14.14" height="7.19" fill="#4ba9e2"/><rect x="251.28" y="446.61" width="14.14" height="7.19" fill="#1893d2"/><rect x="266.72" y="446.61" width="14.14" height="7.19" fill="#1893d2"/><rect x="282.16" y="446.61" width="14.14" height="7.19" fill="#c0d9f1"/><rect x="297.60" y="446.61" width="14.14" height="7.19" fill="#1893d2"/><rect x="313.04" y="446.61" width="14.14" height="7.19" fill="#1893d2"/><rect x="328.48" y="446.61" width="14.14" height="7.19" fill="#c0d9f1"/><rect x="343.92" y="446.61" width="14.14" height="7.19" fill="#dee9f5"/><rect x="359.36" y="446.61" width="14.14" height="7.19" fill="#c0d9f1"/><rect x="374.80" y="446.61" width="14.14" height="7.19" fill="#dee9f5"/><rect x="390.24" y="446.61" width="14.14" height="7.19" fill="#dee9f5"/><rect x="405.68" y="446.61" width="14.14" height="7.19" fill="#dee9f5"/><rect x="421.12" y="446.61" width="14.14" height="7.19" fill="#dee9f5"/><rect x="436.56" y="446.61" width="14.14" height="7.19" fill="#dee9f5"/><rect x="452.00" y="446.61" width="14.14" height="7.19" fill="#dee9f5"/><rect x="467.44" y="446.61" width="14.14" height="7.19" fill="#dee9f5"/><rect x="482.88" y="446.61" width="14.14" height="7.19" fill="#dee9f5"/><rect x="498.32" y="446.61" width="14.14" height="7.19" fill="#dee9f5"/><rect x="513.76" y="446.61" width="14.14" height="7.19" fill="#dee9f5"/><rect x="529.20" y="446.61" width="14.14" height="7.19" fill="#dee9f5"/><rect x="544.64" y="446.61" width="14.14" height="7.19" fill="#dee9f5"/><rect x="560.08" y="446.61" width="14.14" height="7.19" fill="#dee9f5"/><rect x="575.52" y="446.61" width="14.14" height="7.19" fill="#c0d9f1"/><rect x="590.96" y="446.61" width="14.14" height="7.19" fill="#dee9f5"/><rect x="606.40" y="446.61" width="14.14" height="7.19" fill="#c0d9f1"/><rect x="621.84" y="446.61" width="14.14" height="7.19" fill="#dee9f5"/><rect x="637.28" y="446.61" width="14.14" height="7.19" fill="#dee9f5"/><rect x="652.72" y="446.61" width="14.14" height="7.19" fill="#dee9f5"/><rect x="668.16" y="446.61" width="14.14" height="7.19" fill="#dee9f5"/><rect x="683.60" y="446.61" width="14.14" height="7.19" fill="#dee9f5"/><rect x="699.04" y="446.61" width="14.14" height="7.19" fill="#dee9f5"/><rect x="714.48" y="446.61" width="14.14" height="7.19" fill="#dee9f5"/><rect x="729.92" y="446.61" width="14.14" height="7.19" fill="#dee9f5"/><rect x="745.36" y="446.61" width="14.14" height="7.19" fill="#eef3fa"/><rect x="760.80" y="446.61" width="14.14" height="7.19" fill="#dee9f5"/><rect x="66.00" y="454.89" width="14.14" height="7.19" fill="#1c9c9a"/><rect x="81.44" y="454.89" width="14.14" height="7.19" fill="#34a55c"/><rect x="96.88" y="454.89" width="14.14" height="7.19" fill="#fbcb2e"/><rect x="112.32" y="454.89" width="14.14" height="7.19" fill="#fbcb2e"/><rect x="127.76" y="454.89" width="14.14" height="7.19" fill="#fbcb2e"/><rect x="143.20" y="454.89" width="14.14" height="7.19" fill="#fbcb2e"/><rect x="158.64" y="454.89" width="14.14" height="7.19" fill="#fbcb2e"/><rect x="174.08" y="454.89" width="14.14" height="7.19" fill="#fbcb2e"/><rect x="189.52" y="454.89" width="14.14" height="7.19" fill="#1c9c9a"/><rect x="204.96" y="454.89" width="14.14" height="7.19" fill="#34a55c"/><rect x="220.40" y="454.89" width="14.14" height="7.19" fill="#1c9c9a"/><rect x="235.84" y="454.89" width="14.14" height="7.19" fill="#1c9c9a"/><rect x="251.28" y="454.89" width="14.14" height="7.19" fill="#34a55c"/><rect x="266.72" y="454.89" width="14.14" height="7.19" fill="#34a55c"/><rect x="282.16" y="454.89" width="14.14" height="7.19" fill="#1893d2"/><rect x="297.60" y="454.89" width="14.14" height="7.19" fill="#1c9c9a"/><rect x="313.04" y="454.89" width="14.14" height="7.19" fill="#1893d2"/><rect x="328.48" y="454.89" width="14.14" height="7.19" fill="#c0d9f1"/><rect x="343.92" y="454.89" width="14.14" height="7.19" fill="#4ba9e2"/><rect x="359.36" y="454.89" width="14.14" height="7.19" fill="#1c9c9a"/><rect x="374.80" y="454.89" width="14.14" height="7.19" fill="#34a55c"/><rect x="390.24" y="454.89" width="14.14" height="7.19" fill="#edb232"/><rect x="405.68" y="454.89" width="14.14" height="7.19" fill="#34a55c"/><rect x="421.12" y="454.89" width="14.14" height="7.19" fill="#fbcb2e"/><rect x="436.56" y="454.89" width="14.14" height="7.19" fill="#34a55c"/><rect x="452.00" y="454.89" width="14.14" height="7.19" fill="#1893d2"/><rect x="467.44" y="454.89" width="14.14" height="7.19" fill="#1c9c9a"/><rect x="482.88" y="454.89" width="14.14" height="7.19" fill="#4ba9e2"/><rect x="498.32" y="454.89" width="14.14" height="7.19" fill="#c0d9f1"/><rect x="513.76" y="454.89" width="14.14" height="7.19" fill="#1893d2"/><rect x="529.20" y="454.89" width="14.14" height="7.19" fill="#1c9c9a"/><rect x="544.64" y="454.89" width="14.14" height="7.19" fill="#94c5ec"/><rect x="560.08" y="454.89" width="14.14" height="7.19" fill="#1c9c9a"/><rect x="575.52" y="454.89" width="14.14" height="7.19" fill="#94c5ec"/><rect x="590.96" y="454.89" width="14.14" height="7.19" fill="#c0d9f1"/><rect x="606.40" y="454.89" width="14.14" height="7.19" fill="#c0d9f1"/><rect x="621.84" y="454.89" width="14.14" height="7.19" fill="#c0d9f1"/><rect x="637.28" y="454.89" width="14.14" height="7.19" fill="#dee9f5"/><rect x="652.72" y="454.89" width="14.14" height="7.19" fill="#dee9f5"/><rect x="668.16" y="454.89" width="14.14" height="7.19" fill="#dee9f5"/><rect x="683.60" y="454.89" width="14.14" height="7.19" fill="#dee9f5"/><rect x="699.04" y="454.89" width="14.14" height="7.19" fill="#dee9f5"/><rect x="714.48" y="454.89" width="14.14" height="7.19" fill="#dee9f5"/><rect x="729.92" y="454.89" width="14.14" height="7.19" fill="#dee9f5"/><rect x="745.36" y="454.89" width="14.14" height="7.19" fill="#dee9f5"/><rect x="760.80" y="454.89" width="14.14" height="7.19" fill="#dee9f5"/><rect x="66.00" y="463.18" width="14.14" height="7.19" fill="#1893d2"/><rect x="81.44" y="463.18" width="14.14" height="7.19" fill="#1893d2"/><rect x="96.88" y="463.18" width="14.14" height="7.19" fill="#1893d2"/><rect x="112.32" y="463.18" width="14.14" height="7.19" fill="#1893d2"/><rect x="127.76" y="463.18" width="14.14" height="7.19" fill="#1893d2"/><rect x="143.20" y="463.18" width="14.14" height="7.19" fill="#1893d2"/><rect x="158.64" y="463.18" width="14.14" height="7.19" fill="#4ba9e2"/><rect x="174.08" y="463.18" width="14.14" height="7.19" fill="#4ba9e2"/><rect x="189.52" y="463.18" width="14.14" height="7.19" fill="#1c9c9a"/><rect x="204.96" y="463.18" width="14.14" height="7.19" fill="#1893d2"/><rect x="220.40" y="463.18" width="14.14" height="7.19" fill="#94c5ec"/><rect x="235.84" y="463.18" width="14.14" height="7.19" fill="#1893d2"/><rect x="251.28" y="463.18" width="14.14" height="7.19" fill="#c0d9f1"/><rect x="266.72" y="463.18" width="14.14" height="7.19" fill="#c0d9f1"/><rect x="282.16" y="463.18" width="14.14" height="7.19" fill="#dee9f5"/><rect x="297.60" y="463.18" width="14.14" height="7.19" fill="#dee9f5"/><rect x="313.04" y="463.18" width="14.14" height="7.19" fill="#dee9f5"/><rect x="328.48" y="463.18" width="14.14" height="7.19" fill="#dee9f5"/><rect x="343.92" y="463.18" width="14.14" height="7.19" fill="#eef3fa"/><rect x="359.36" y="463.18" width="14.14" height="7.19" fill="#eef3fa"/><rect x="374.80" y="463.18" width="14.14" height="7.19" fill="#eef3fa"/><rect x="390.24" y="463.18" width="14.14" height="7.19" fill="#dee9f5"/><rect x="405.68" y="463.18" width="14.14" height="7.19" fill="#dee9f5"/><rect x="421.12" y="463.18" width="14.14" height="7.19" fill="#dee9f5"/><rect x="436.56" y="463.18" width="14.14" height="7.19" fill="#94c5ec"/><rect x="452.00" y="463.18" width="14.14" height="7.19" fill="#1893d2"/><rect x="467.44" y="463.18" width="14.14" height="7.19" fill="#1c9c9a"/><rect x="482.88" y="463.18" width="14.14" height="7.19" fill="#94c5ec"/><rect x="498.32" y="463.18" width="14.14" height="7.19" fill="#dee9f5"/><rect x="513.76" y="463.18" width="14.14" height="7.19" fill="#dee9f5"/><rect x="529.20" y="463.18" width="14.14" height="7.19" fill="#dee9f5"/><rect x="544.64" y="463.18" width="14.14" height="7.19" fill="#dee9f5"/><rect x="560.08" y="463.18" width="14.14" height="7.19" fill="#dee9f5"/><rect x="575.52" y="463.18" width="14.14" height="7.19" fill="#dee9f5"/><rect x="590.96" y="463.18" width="14.14" height="7.19" fill="#dee9f5"/><rect x="606.40" y="463.18" width="14.14" height="7.19" fill="#dee9f5"/><rect x="621.84" y="463.18" width="14.14" height="7.19" fill="#c0d9f1"/><rect x="637.28" y="463.18" width="14.14" height="7.19" fill="#dee9f5"/><rect x="652.72" y="463.18" width="14.14" height="7.19" fill="#dee9f5"/><rect x="668.16" y="463.18" width="14.14" height="7.19" fill="#dee9f5"/><rect x="683.60" y="463.18" width="14.14" height="7.19" fill="#dee9f5"/><rect x="699.04" y="463.18" width="14.14" height="7.19" fill="#dee9f5"/><rect x="714.48" y="463.18" width="14.14" height="7.19" fill="#dee9f5"/><rect x="729.92" y="463.18" width="14.14" height="7.19" fill="#dee9f5"/><rect x="745.36" y="463.18" width="14.14" height="7.19" fill="#dee9f5"/><rect x="760.80" y="463.18" width="14.14" height="7.19" fill="#dee9f5"/><rect x="66.00" y="471.47" width="14.14" height="7.19" fill="#1c9c9a"/><rect x="81.44" y="471.47" width="14.14" height="7.19" fill="#34a55c"/><rect x="96.88" y="471.47" width="14.14" height="7.19" fill="#34a55c"/><rect x="112.32" y="471.47" width="14.14" height="7.19" fill="#34a55c"/><rect x="127.76" y="471.47" width="14.14" height="7.19" fill="#34a55c"/><rect x="143.20" y="471.47" width="14.14" height="7.19" fill="#9bbd3c"/><rect x="158.64" y="471.47" width="14.14" height="7.19" fill="#34a55c"/><rect x="174.08" y="471.47" width="14.14" height="7.19" fill="#1c9c9a"/><rect x="189.52" y="471.47" width="14.14" height="7.19" fill="#4ba9e2"/><rect x="204.96" y="471.47" width="14.14" height="7.19" fill="#1893d2"/><rect x="220.40" y="471.47" width="14.14" height="7.19" fill="#1c9c9a"/><rect x="235.84" y="471.47" width="14.14" height="7.19" fill="#34a55c"/><rect x="251.28" y="471.47" width="14.14" height="7.19" fill="#4ba9e2"/><rect x="266.72" y="471.47" width="14.14" height="7.19" fill="#4ba9e2"/><rect x="282.16" y="471.47" width="14.14" height="7.19" fill="#c0d9f1"/><rect x="297.60" y="471.47" width="14.14" height="7.19" fill="#c0d9f1"/><rect x="313.04" y="471.47" width="14.14" height="7.19" fill="#c0d9f1"/><rect x="328.48" y="471.47" width="14.14" height="7.19" fill="#dee9f5"/><rect x="343.92" y="471.47" width="14.14" height="7.19" fill="#dee9f5"/><rect x="359.36" y="471.47" width="14.14" height="7.19" fill="#dee9f5"/><rect x="374.80" y="471.47" width="14.14" height="7.19" fill="#c0d9f1"/><rect x="390.24" y="471.47" width="14.14" height="7.19" fill="#dee9f5"/><rect x="405.68" y="471.47" width="14.14" height="7.19" fill="#dee9f5"/><rect x="421.12" y="471.47" width="14.14" height="7.19" fill="#dee9f5"/><rect x="436.56" y="471.47" width="14.14" height="7.19" fill="#dee9f5"/><rect x="452.00" y="471.47" width="14.14" height="7.19" fill="#dee9f5"/><rect x="467.44" y="471.47" width="14.14" height="7.19" fill="#dee9f5"/><rect x="482.88" y="471.47" width="14.14" height="7.19" fill="#dee9f5"/><rect x="498.32" y="471.47" width="14.14" height="7.19" fill="#dee9f5"/><rect x="513.76" y="471.47" width="14.14" height="7.19" fill="#dee9f5"/><rect x="529.20" y="471.47" width="14.14" height="7.19" fill="#dee9f5"/><rect x="544.64" y="471.47" width="14.14" height="7.19" fill="#dee9f5"/><rect x="560.08" y="471.47" width="14.14" height="7.19" fill="#dee9f5"/><rect x="575.52" y="471.47" width="14.14" height="7.19" fill="#c0d9f1"/><rect x="590.96" y="471.47" width="14.14" height="7.19" fill="#dee9f5"/><rect x="606.40" y="471.47" width="14.14" height="7.19" fill="#dee9f5"/><rect x="621.84" y="471.47" width="14.14" height="7.19" fill="#dee9f5"/><rect x="637.28" y="471.47" width="14.14" height="7.19" fill="#dee9f5"/><rect x="652.72" y="471.47" width="14.14" height="7.19" fill="#dee9f5"/><rect x="668.16" y="471.47" width="14.14" height="7.19" fill="#dee9f5"/><rect x="683.60" y="471.47" width="14.14" height="7.19" fill="#dee9f5"/><rect x="699.04" y="471.47" width="14.14" height="7.19" fill="#dee9f5"/><rect x="714.48" y="471.47" width="14.14" height="7.19" fill="#dee9f5"/><rect x="729.92" y="471.47" width="14.14" height="7.19" fill="#dee9f5"/><rect x="745.36" y="471.47" width="14.14" height="7.19" fill="#dee9f5"/><rect x="760.80" y="471.47" width="14.14" height="7.19" fill="#dee9f5"/><rect x="66.00" y="479.75" width="14.14" height="7.19" fill="#1c9c9a"/><rect x="81.44" y="479.75" width="14.14" height="7.19" fill="#34a55c"/><rect x="96.88" y="479.75" width="14.14" height="7.19" fill="#1893d2"/><rect x="112.32" y="479.75" width="14.14" height="7.19" fill="#34a55c"/><rect x="127.76" y="479.75" width="14.14" height="7.19" fill="#34a55c"/><rect x="143.20" y="479.75" width="14.14" height="7.19" fill="#1c9c9a"/><rect x="158.64" y="479.75" width="14.14" height="7.19" fill="#1893d2"/><rect x="174.08" y="479.75" width="14.14" height="7.19" fill="#1c9c9a"/><rect x="189.52" y="479.75" width="14.14" height="7.19" fill="#1c9c9a"/><rect x="204.96" y="479.75" width="14.14" height="7.19" fill="#1893d2"/><rect x="220.40" y="479.75" width="14.14" height="7.19" fill="#dee9f5"/><rect x="235.84" y="479.75" width="14.14" height="7.19" fill="#c0d9f1"/><rect x="251.28" y="479.75" width="14.14" height="7.19" fill="#94c5ec"/><rect x="266.72" y="479.75" width="14.14" height="7.19" fill="#c0d9f1"/><rect x="282.16" y="479.75" width="14.14" height="7.19" fill="#dee9f5"/><rect x="297.60" y="479.75" width="14.14" height="7.19" fill="#1c9c9a"/><rect x="313.04" y="479.75" width="14.14" height="7.19" fill="#1c9c9a"/><rect x="328.48" y="479.75" width="14.14" height="7.19" fill="#94c5ec"/><rect x="343.92" y="479.75" width="14.14" height="7.19" fill="#c0d9f1"/><rect x="359.36" y="479.75" width="14.14" height="7.19" fill="#dee9f5"/><rect x="374.80" y="479.75" width="14.14" height="7.19" fill="#dee9f5"/><rect x="390.24" y="479.75" width="14.14" height="7.19" fill="#c0d9f1"/><rect x="405.68" y="479.75" width="14.14" height="7.19" fill="#dee9f5"/><rect x="421.12" y="479.75" width="14.14" height="7.19" fill="#1893d2"/><rect x="436.56" y="479.75" width="14.14" height="7.19" fill="#1c9c9a"/><rect x="452.00" y="479.75" width="14.14" height="7.19" fill="#34a55c"/><rect x="467.44" y="479.75" width="14.14" height="7.19" fill="#dee9f5"/><rect x="482.88" y="479.75" width="14.14" height="7.19" fill="#dee9f5"/><rect x="498.32" y="479.75" width="14.14" height="7.19" fill="#c0d9f1"/><rect x="513.76" y="479.75" width="14.14" height="7.19" fill="#34a55c"/><rect x="529.20" y="479.75" width="14.14" height="7.19" fill="#4ba9e2"/><rect x="544.64" y="479.75" width="14.14" height="7.19" fill="#c0d9f1"/><rect x="560.08" y="479.75" width="14.14" height="7.19" fill="#c0d9f1"/><rect x="575.52" y="479.75" width="14.14" height="7.19" fill="#dee9f5"/><rect x="590.96" y="479.75" width="14.14" height="7.19" fill="#dee9f5"/><rect x="606.40" y="479.75" width="14.14" height="7.19" fill="#c0d9f1"/><rect x="621.84" y="479.75" width="14.14" height="7.19" fill="#dee9f5"/><rect x="637.28" y="479.75" width="14.14" height="7.19" fill="#dee9f5"/><rect x="652.72" y="479.75" width="14.14" height="7.19" fill="#dee9f5"/><rect x="668.16" y="479.75" width="14.14" height="7.19" fill="#eef3fa"/><rect x="683.60" y="479.75" width="14.14" height="7.19" fill="#dee9f5"/><rect x="699.04" y="479.75" width="14.14" height="7.19" fill="#dee9f5"/><rect x="714.48" y="479.75" width="14.14" height="7.19" fill="#dee9f5"/><rect x="729.92" y="479.75" width="14.14" height="7.19" fill="#dee9f5"/><rect x="745.36" y="479.75" width="14.14" height="7.19" fill="#dee9f5"/><rect x="760.80" y="479.75" width="14.14" height="7.19" fill="#dee9f5"/></g>
<g font-size="11" fill="#444"><text x="54.5" y="73.70" text-anchor="end">Alaska</text><text x="54.5" y="90.27" text-anchor="end">Ark.</text><text x="54.5" y="106.84" text-anchor="end">Calif.</text><text x="54.5" y="123.41" text-anchor="end">Conn.</text><text x="54.5" y="139.98" text-anchor="end">Del.</text><text x="54.5" y="156.55" text-anchor="end">Ga.</text><text x="54.5" y="173.12" text-anchor="end">Iowa</text><text x="54.5" y="189.69" text-anchor="end">Ill.</text><text x="54.5" y="206.26" text-anchor="end">Kan.</text><text x="54.5" y="222.83" text-anchor="end">La.</text><text x="54.5" y="239.40" text-anchor="end">Md.</text><text x="54.5" y="255.97" text-anchor="end">Mich.</text><text x="54.5" y="272.54" text-anchor="end">Mo.</text><text x="54.5" y="289.11" text-anchor="end">Mont.</text><text x="54.5" y="305.68" text-anchor="end">N.D.</text><text x="54.5" y="322.25" text-anchor="end">N.H.</text><text x="54.5" y="338.82" text-anchor="end">N.M</text><text x="54.5" y="355.39" text-anchor="end">N.Y.</text><text x="54.5" y="371.96" text-anchor="end">Okla.</text><text x="54.5" y="388.53" text-anchor="end">Pa.</text><text x="54.5" y="405.10" text-anchor="end">S.C.</text><text x="54.5" y="421.67" text-anchor="end">Tenn.</text><text x="54.5" y="438.24" text-anchor="end">Utah</text><text x="54.5" y="454.81" text-anchor="end">Vt.</text><text x="54.5" y="471.38" text-anchor="end">Wis.</text><text x="54.5" y="487.95" text-anchor="end">Wyo.</text></g>
<line x1="60" y1="488.5" x2="783" y2="488.5" stroke="#888" stroke-width="1"/>
<g font-size="12.2" fill="#444"><line x1="135.48" y1="488" x2="135.48" y2="493" stroke="#999" stroke-width="1"/><text x="135.48" y="508.3" text-anchor="middle" dx="0.8">1970</text><line x1="212.68" y1="488" x2="212.68" y2="493" stroke="#999" stroke-width="1"/><text x="212.68" y="508.3" text-anchor="middle" dx="0.8">1975</text><line x1="289.88" y1="488" x2="289.88" y2="493" stroke="#999" stroke-width="1"/><text x="289.88" y="508.3" text-anchor="middle" dx="0.8">1980</text><line x1="367.08" y1="488" x2="367.08" y2="493" stroke="#999" stroke-width="1"/><text x="367.08" y="508.3" text-anchor="middle" dx="0.8">1985</text><line x1="444.28" y1="488" x2="444.28" y2="493" stroke="#999" stroke-width="1"/><text x="444.28" y="508.3" text-anchor="middle" dx="0.8">1990</text><line x1="521.48" y1="488" x2="521.48" y2="493" stroke="#999" stroke-width="1"/><text x="521.48" y="508.3" text-anchor="middle" dx="0.8">1995</text><line x1="598.68" y1="488" x2="598.68" y2="493" stroke="#999" stroke-width="1"/><text x="598.68" y="508.3" text-anchor="middle" dx="0.8">2000</text><line x1="675.88" y1="488" x2="675.88" y2="493" stroke="#999" stroke-width="1"/><text x="675.88" y="508.3" text-anchor="middle" dx="0.8">2005</text><line x1="753.08" y1="488" x2="753.08" y2="493" stroke="#999" stroke-width="1"/><text x="753.08" y="508.3" text-anchor="middle" dx="0.8">2010</text></g>
<rect x="520" y="64" width="3" height="424" fill="#000"/>
<text x="519" y="60.7" font-size="12" fill="#222" letter-spacing="0.3">Vaccine introduced</text>
<defs><linearGradient id="lg" x1="0" x2="1" y1="0" y2="0">
<stop offset="0" stop-color="#f0f7fd"/><stop offset="0.029" stop-color="#9ccff0"/>
<stop offset="0.03" stop-color="#1a98d8"/><stop offset="0.036" stop-color="#1a98d8"/>
<stop offset="0.062" stop-color="#1c9c9c"/><stop offset="0.085" stop-color="#2da55a"/>
<stop offset="0.098" stop-color="#3aa650"/><stop offset="0.1" stop-color="#f8cf30"/>
<stop offset="0.27" stop-color="#e8982a"/><stop offset="0.333" stop-color="#e6962a"/>
<stop offset="0.44" stop-color="#ea5a2c"/><stop offset="0.667" stop-color="#e54e2d"/>
<stop offset="1" stop-color="#d54a30"/></linearGradient></defs>
<rect x="311.5" y="528" width="188.5" height="9.5" fill="url(#lg)"/>
<g stroke="#c0ccd8" stroke-width="1"><line x1="311.5" y1="528" x2="311.5" y2="543"/><line x1="375" y1="528" x2="375" y2="543"/><line x1="437.5" y1="528" x2="437.5" y2="543"/><line x1="500" y1="528" x2="500" y2="543"/></g>
<g font-size="11" fill="#888"><text x="312.5" y="557">0</text><text x="375.3" y="557" text-anchor="middle">100</text><text x="438" y="557" text-anchor="middle">200</text><text x="502" y="557" text-anchor="end">300</text></g>
</svg></body></html>
